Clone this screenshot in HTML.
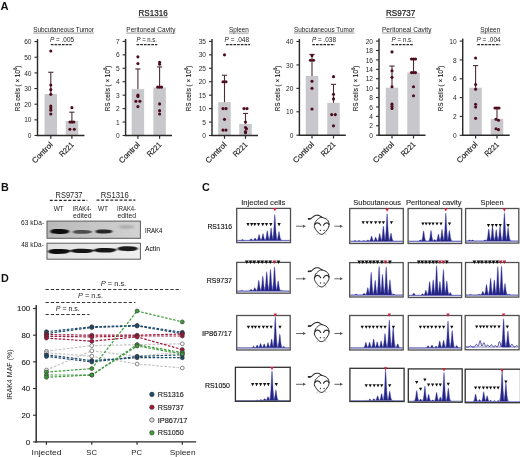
<!DOCTYPE html>
<html><head><meta charset="utf-8"><title>Figure</title>
<style>
html,body{margin:0;padding:0;background:#fff;}
body{width:520px;height:457px;overflow:hidden;}
svg{display:block;font-family:"Liberation Sans", sans-serif;will-change:transform;}
</style></head><body>
<svg width="520" height="457" viewBox="0 0 520 457">
<rect width="520" height="457" fill="#fff"/>
<text x="0.40" y="9.90" font-size="11.2" font-weight="bold" fill="#111">A</text>
<rect x="44.55" y="94.03" width="12.50" height="41.47" fill="#c8c7cb"/>
<rect x="65.65" y="120.95" width="12.50" height="14.55" fill="#c8c7cb"/>
<line x1="50.80" y1="94.03" x2="50.80" y2="72.27" stroke="#4a2c34" stroke-width="1.1"/>
<line x1="48.20" y1="72.27" x2="53.40" y2="72.27" stroke="#4a2c34" stroke-width="1.1"/>
<line x1="71.90" y1="120.95" x2="71.90" y2="112.18" stroke="#4a2c34" stroke-width="1.1"/>
<line x1="69.30" y1="112.18" x2="74.50" y2="112.18" stroke="#4a2c34" stroke-width="1.1"/>
<circle cx="50.80" cy="50.99" r="1.55" fill="#4d0c1c"/>
<circle cx="50.80" cy="85.11" r="1.55" fill="#4d0c1c"/>
<circle cx="50.80" cy="89.65" r="1.55" fill="#4d0c1c"/>
<circle cx="50.80" cy="94.34" r="1.55" fill="#4d0c1c"/>
<circle cx="50.80" cy="106.08" r="1.55" fill="#4d0c1c"/>
<circle cx="50.80" cy="108.11" r="1.55" fill="#4d0c1c"/>
<circle cx="50.80" cy="110.15" r="1.55" fill="#4d0c1c"/>
<circle cx="50.80" cy="114.06" r="1.55" fill="#4d0c1c"/>
<circle cx="71.90" cy="107.64" r="1.55" fill="#4d0c1c"/>
<circle cx="70.00" cy="122.04" r="1.55" fill="#4d0c1c"/>
<circle cx="71.90" cy="122.04" r="1.55" fill="#4d0c1c"/>
<circle cx="73.80" cy="122.04" r="1.55" fill="#4d0c1c"/>
<circle cx="69.90" cy="129.24" r="1.55" fill="#4d0c1c"/>
<circle cx="74.30" cy="129.24" r="1.55" fill="#4d0c1c"/>
<line x1="37.50" y1="39.10" x2="37.50" y2="136.10" stroke="#2a2a2a" stroke-width="1.45"/>
<line x1="36.90" y1="135.50" x2="84.50" y2="135.50" stroke="#2a2a2a" stroke-width="1.4"/>
<line x1="34.50" y1="135.50" x2="37.50" y2="135.50" stroke="#2a2a2a" stroke-width="1.1"/>
<text x="31.50" y="138.10" font-size="6.6" text-anchor="end" fill="#2a2a2a">0</text>
<line x1="34.50" y1="119.85" x2="37.50" y2="119.85" stroke="#2a2a2a" stroke-width="1.1"/>
<text x="31.50" y="122.45" font-size="6.6" text-anchor="end" fill="#2a2a2a">10</text>
<line x1="34.50" y1="104.20" x2="37.50" y2="104.20" stroke="#2a2a2a" stroke-width="1.1"/>
<text x="31.50" y="106.80" font-size="6.6" text-anchor="end" fill="#2a2a2a">20</text>
<line x1="34.50" y1="88.55" x2="37.50" y2="88.55" stroke="#2a2a2a" stroke-width="1.1"/>
<text x="31.50" y="91.15" font-size="6.6" text-anchor="end" fill="#2a2a2a">30</text>
<line x1="34.50" y1="72.90" x2="37.50" y2="72.90" stroke="#2a2a2a" stroke-width="1.1"/>
<text x="31.50" y="75.50" font-size="6.6" text-anchor="end" fill="#2a2a2a">40</text>
<line x1="34.50" y1="57.25" x2="37.50" y2="57.25" stroke="#2a2a2a" stroke-width="1.1"/>
<text x="31.50" y="59.85" font-size="6.6" text-anchor="end" fill="#2a2a2a">50</text>
<line x1="34.50" y1="41.60" x2="37.50" y2="41.60" stroke="#2a2a2a" stroke-width="1.1"/>
<text x="31.50" y="44.20" font-size="6.6" text-anchor="end" fill="#2a2a2a">60</text>
<line x1="50.80" y1="135.50" x2="50.80" y2="138.80" stroke="#2a2a2a" stroke-width="1.2"/>
<line x1="71.90" y1="135.50" x2="71.90" y2="138.80" stroke="#2a2a2a" stroke-width="1.2"/>
<text x="53.30" y="145.30" font-size="7.8" stroke="#222" stroke-width="0.18" text-anchor="end" fill="#222" textLength="26.00" lengthAdjust="spacingAndGlyphs" transform="rotate(-45 53.30 145.30)">Control</text>
<text x="74.40" y="145.30" font-size="7.8" stroke="#222" stroke-width="0.18" text-anchor="end" fill="#222" textLength="17.00" lengthAdjust="spacingAndGlyphs" transform="rotate(-45 74.40 145.30)">R221</text>
<text x="33.20" y="31.80" font-size="6.6" fill="#222" textLength="60.80" lengthAdjust="spacingAndGlyphs">Subcutaneous Tumor</text>
<line x1="33.20" y1="33.10" x2="94.00" y2="33.10" stroke="#555" stroke-width="0.6"/>
<text x="50.00" y="41.80" font-size="6.3" fill="#1e1e1e" textLength="24.00" lengthAdjust="spacingAndGlyphs"><tspan font-style="italic">P</tspan> = .005</text>
<line x1="50.80" y1="44.70" x2="71.60" y2="44.70" stroke="#2a2a2a" stroke-width="1.2" stroke-dasharray="2.7,1.0"/>
<text transform="translate(19.50,88.50) rotate(-90)" font-size="7.6" text-anchor="middle" fill="#222" stroke="#222" stroke-width="0.12" textLength="45.6" lengthAdjust="spacingAndGlyphs">RS cells ( × 10<tspan font-size="5" dy="-2.6">6</tspan><tspan dy="2.6">)</tspan></text>
<rect x="131.65" y="89.12" width="12.50" height="46.38" fill="#c8c7cb"/>
<rect x="153.35" y="87.51" width="12.50" height="47.99" fill="#c8c7cb"/>
<line x1="137.90" y1="89.12" x2="137.90" y2="68.96" stroke="#4a2c34" stroke-width="1.1"/>
<line x1="135.30" y1="68.96" x2="140.50" y2="68.96" stroke="#4a2c34" stroke-width="1.1"/>
<line x1="159.60" y1="87.51" x2="159.60" y2="66.94" stroke="#4a2c34" stroke-width="1.1"/>
<line x1="157.00" y1="66.94" x2="162.20" y2="66.94" stroke="#4a2c34" stroke-width="1.1"/>
<circle cx="137.90" cy="56.86" r="1.55" fill="#4d0c1c"/>
<circle cx="137.90" cy="63.58" r="1.55" fill="#4d0c1c"/>
<circle cx="137.90" cy="95.17" r="1.55" fill="#4d0c1c"/>
<circle cx="137.90" cy="96.52" r="1.55" fill="#4d0c1c"/>
<circle cx="135.90" cy="101.22" r="1.55" fill="#4d0c1c"/>
<circle cx="139.90" cy="101.22" r="1.55" fill="#4d0c1c"/>
<circle cx="137.90" cy="106.60" r="1.55" fill="#4d0c1c"/>
<circle cx="159.60" cy="62.24" r="1.55" fill="#4d0c1c"/>
<circle cx="159.60" cy="64.25" r="1.55" fill="#4d0c1c"/>
<circle cx="157.60" cy="87.11" r="1.55" fill="#4d0c1c"/>
<circle cx="159.60" cy="87.11" r="1.55" fill="#4d0c1c"/>
<circle cx="161.60" cy="87.11" r="1.55" fill="#4d0c1c"/>
<circle cx="159.60" cy="103.91" r="1.55" fill="#4d0c1c"/>
<circle cx="159.60" cy="110.63" r="1.55" fill="#4d0c1c"/>
<circle cx="159.60" cy="113.99" r="1.55" fill="#4d0c1c"/>
<line x1="125.60" y1="38.90" x2="125.60" y2="136.10" stroke="#2a2a2a" stroke-width="1.45"/>
<line x1="125.00" y1="135.50" x2="172.00" y2="135.50" stroke="#2a2a2a" stroke-width="1.4"/>
<line x1="122.60" y1="135.50" x2="125.60" y2="135.50" stroke="#2a2a2a" stroke-width="1.1"/>
<text x="119.60" y="138.10" font-size="6.6" text-anchor="end" fill="#2a2a2a">0</text>
<line x1="122.60" y1="122.06" x2="125.60" y2="122.06" stroke="#2a2a2a" stroke-width="1.1"/>
<text x="119.60" y="124.66" font-size="6.6" text-anchor="end" fill="#2a2a2a">1</text>
<line x1="122.60" y1="108.61" x2="125.60" y2="108.61" stroke="#2a2a2a" stroke-width="1.1"/>
<text x="119.60" y="111.21" font-size="6.6" text-anchor="end" fill="#2a2a2a">2</text>
<line x1="122.60" y1="95.17" x2="125.60" y2="95.17" stroke="#2a2a2a" stroke-width="1.1"/>
<text x="119.60" y="97.77" font-size="6.6" text-anchor="end" fill="#2a2a2a">3</text>
<line x1="122.60" y1="81.73" x2="125.60" y2="81.73" stroke="#2a2a2a" stroke-width="1.1"/>
<text x="119.60" y="84.33" font-size="6.6" text-anchor="end" fill="#2a2a2a">4</text>
<line x1="122.60" y1="68.29" x2="125.60" y2="68.29" stroke="#2a2a2a" stroke-width="1.1"/>
<text x="119.60" y="70.89" font-size="6.6" text-anchor="end" fill="#2a2a2a">5</text>
<line x1="122.60" y1="54.84" x2="125.60" y2="54.84" stroke="#2a2a2a" stroke-width="1.1"/>
<text x="119.60" y="57.44" font-size="6.6" text-anchor="end" fill="#2a2a2a">6</text>
<line x1="122.60" y1="41.40" x2="125.60" y2="41.40" stroke="#2a2a2a" stroke-width="1.1"/>
<text x="119.60" y="44.00" font-size="6.6" text-anchor="end" fill="#2a2a2a">7</text>
<line x1="137.90" y1="135.50" x2="137.90" y2="138.80" stroke="#2a2a2a" stroke-width="1.2"/>
<line x1="159.60" y1="135.50" x2="159.60" y2="138.80" stroke="#2a2a2a" stroke-width="1.2"/>
<text x="140.40" y="145.30" font-size="7.8" stroke="#222" stroke-width="0.18" text-anchor="end" fill="#222" textLength="26.00" lengthAdjust="spacingAndGlyphs" transform="rotate(-45 140.40 145.30)">Control</text>
<text x="162.10" y="145.30" font-size="7.8" stroke="#222" stroke-width="0.18" text-anchor="end" fill="#222" textLength="17.00" lengthAdjust="spacingAndGlyphs" transform="rotate(-45 162.10 145.30)">R221</text>
<text x="126.30" y="31.80" font-size="6.6" fill="#222" textLength="49.10" lengthAdjust="spacingAndGlyphs">Peritoneal Cavity</text>
<line x1="126.30" y1="33.10" x2="175.40" y2="33.10" stroke="#555" stroke-width="0.6"/>
<text x="136.50" y="41.80" font-size="6.3" fill="#1e1e1e" textLength="20.50" lengthAdjust="spacingAndGlyphs"><tspan font-style="italic">P</tspan> = n.s.</text>
<line x1="136.50" y1="44.70" x2="157.30" y2="44.70" stroke="#2a2a2a" stroke-width="1.2" stroke-dasharray="2.7,1.0"/>
<text transform="translate(109.50,88.50) rotate(-90)" font-size="7.6" text-anchor="middle" fill="#222" stroke="#222" stroke-width="0.12" textLength="45.6" lengthAdjust="spacingAndGlyphs">RS cells ( × 10<tspan font-size="5" dy="-2.6">6</tspan><tspan dy="2.6">)</tspan></text>
<rect x="218.25" y="102.16" width="12.50" height="33.34" fill="#c8c7cb"/>
<rect x="239.25" y="123.94" width="12.50" height="11.56" fill="#c8c7cb"/>
<line x1="224.50" y1="102.16" x2="224.50" y2="75.28" stroke="#4a2c34" stroke-width="1.1"/>
<line x1="221.90" y1="75.28" x2="227.10" y2="75.28" stroke="#4a2c34" stroke-width="1.1"/>
<line x1="245.50" y1="123.94" x2="245.50" y2="113.45" stroke="#4a2c34" stroke-width="1.1"/>
<line x1="242.90" y1="113.45" x2="248.10" y2="113.45" stroke="#4a2c34" stroke-width="1.1"/>
<circle cx="224.50" cy="54.84" r="1.55" fill="#4d0c1c"/>
<circle cx="223.00" cy="81.73" r="1.55" fill="#4d0c1c"/>
<circle cx="226.00" cy="81.73" r="1.55" fill="#4d0c1c"/>
<circle cx="223.00" cy="108.61" r="1.55" fill="#4d0c1c"/>
<circle cx="226.00" cy="108.61" r="1.55" fill="#4d0c1c"/>
<circle cx="224.50" cy="119.37" r="1.55" fill="#4d0c1c"/>
<circle cx="223.00" cy="130.12" r="1.55" fill="#4d0c1c"/>
<circle cx="226.00" cy="130.12" r="1.55" fill="#4d0c1c"/>
<circle cx="244.00" cy="108.61" r="1.55" fill="#4d0c1c"/>
<circle cx="247.00" cy="108.61" r="1.55" fill="#4d0c1c"/>
<circle cx="245.50" cy="122.06" r="1.55" fill="#4d0c1c"/>
<circle cx="245.50" cy="127.43" r="1.55" fill="#4d0c1c"/>
<circle cx="246.50" cy="128.78" r="1.55" fill="#4d0c1c"/>
<circle cx="245.50" cy="131.47" r="1.55" fill="#4d0c1c"/>
<circle cx="245.50" cy="132.81" r="1.55" fill="#4d0c1c"/>
<line x1="212.00" y1="38.90" x2="212.00" y2="136.10" stroke="#2a2a2a" stroke-width="1.45"/>
<line x1="211.40" y1="135.50" x2="258.00" y2="135.50" stroke="#2a2a2a" stroke-width="1.4"/>
<line x1="209.00" y1="135.50" x2="212.00" y2="135.50" stroke="#2a2a2a" stroke-width="1.1"/>
<text x="206.00" y="138.10" font-size="6.6" text-anchor="end" fill="#2a2a2a">0</text>
<line x1="209.00" y1="122.06" x2="212.00" y2="122.06" stroke="#2a2a2a" stroke-width="1.1"/>
<text x="206.00" y="124.66" font-size="6.6" text-anchor="end" fill="#2a2a2a">5</text>
<line x1="209.00" y1="108.61" x2="212.00" y2="108.61" stroke="#2a2a2a" stroke-width="1.1"/>
<text x="206.00" y="111.21" font-size="6.6" text-anchor="end" fill="#2a2a2a">10</text>
<line x1="209.00" y1="95.17" x2="212.00" y2="95.17" stroke="#2a2a2a" stroke-width="1.1"/>
<text x="206.00" y="97.77" font-size="6.6" text-anchor="end" fill="#2a2a2a">15</text>
<line x1="209.00" y1="81.73" x2="212.00" y2="81.73" stroke="#2a2a2a" stroke-width="1.1"/>
<text x="206.00" y="84.33" font-size="6.6" text-anchor="end" fill="#2a2a2a">20</text>
<line x1="209.00" y1="68.29" x2="212.00" y2="68.29" stroke="#2a2a2a" stroke-width="1.1"/>
<text x="206.00" y="70.89" font-size="6.6" text-anchor="end" fill="#2a2a2a">25</text>
<line x1="209.00" y1="54.84" x2="212.00" y2="54.84" stroke="#2a2a2a" stroke-width="1.1"/>
<text x="206.00" y="57.44" font-size="6.6" text-anchor="end" fill="#2a2a2a">30</text>
<line x1="209.00" y1="41.40" x2="212.00" y2="41.40" stroke="#2a2a2a" stroke-width="1.1"/>
<text x="206.00" y="44.00" font-size="6.6" text-anchor="end" fill="#2a2a2a">35</text>
<line x1="224.50" y1="135.50" x2="224.50" y2="138.80" stroke="#2a2a2a" stroke-width="1.2"/>
<line x1="245.50" y1="135.50" x2="245.50" y2="138.80" stroke="#2a2a2a" stroke-width="1.2"/>
<text x="227.00" y="145.30" font-size="7.8" stroke="#222" stroke-width="0.18" text-anchor="end" fill="#222" textLength="26.00" lengthAdjust="spacingAndGlyphs" transform="rotate(-45 227.00 145.30)">Control</text>
<text x="248.00" y="145.30" font-size="7.8" stroke="#222" stroke-width="0.18" text-anchor="end" fill="#222" textLength="17.00" lengthAdjust="spacingAndGlyphs" transform="rotate(-45 248.00 145.30)">R221</text>
<text x="229.00" y="31.80" font-size="6.6" fill="#222" textLength="19.80" lengthAdjust="spacingAndGlyphs">Spleen</text>
<line x1="229.00" y1="33.10" x2="248.80" y2="33.10" stroke="#555" stroke-width="0.6"/>
<text x="224.60" y="41.80" font-size="6.3" fill="#1e1e1e" textLength="24.40" lengthAdjust="spacingAndGlyphs"><tspan font-style="italic">P</tspan> = .048</text>
<line x1="226.00" y1="44.70" x2="250.00" y2="44.70" stroke="#2a2a2a" stroke-width="1.2" stroke-dasharray="2.7,1.0"/>
<text transform="translate(190.50,88.50) rotate(-90)" font-size="7.6" text-anchor="middle" fill="#222" stroke="#222" stroke-width="0.12" textLength="45.6" lengthAdjust="spacingAndGlyphs">RS cells ( × 10<tspan font-size="5" dy="-2.6">6</tspan><tspan dy="2.6">)</tspan></text>
<rect x="305.75" y="75.93" width="12.50" height="59.27" fill="#c8c7cb"/>
<rect x="327.25" y="102.87" width="12.50" height="32.33" fill="#c8c7cb"/>
<line x1="312.00" y1="75.93" x2="312.00" y2="54.38" stroke="#4a2c34" stroke-width="1.1"/>
<line x1="309.40" y1="54.38" x2="314.60" y2="54.38" stroke="#4a2c34" stroke-width="1.1"/>
<line x1="333.50" y1="102.87" x2="333.50" y2="84.37" stroke="#4a2c34" stroke-width="1.1"/>
<line x1="330.90" y1="84.37" x2="336.10" y2="84.37" stroke="#4a2c34" stroke-width="1.1"/>
<circle cx="312.00" cy="55.55" r="1.55" fill="#4d0c1c"/>
<circle cx="310.50" cy="60.24" r="1.55" fill="#4d0c1c"/>
<circle cx="313.50" cy="60.24" r="1.55" fill="#4d0c1c"/>
<circle cx="312.00" cy="81.32" r="1.55" fill="#4d0c1c"/>
<circle cx="312.00" cy="88.35" r="1.55" fill="#4d0c1c"/>
<circle cx="312.00" cy="108.96" r="1.55" fill="#4d0c1c"/>
<circle cx="333.50" cy="76.64" r="1.55" fill="#4d0c1c"/>
<circle cx="333.50" cy="94.21" r="1.55" fill="#4d0c1c"/>
<circle cx="333.50" cy="98.89" r="1.55" fill="#4d0c1c"/>
<circle cx="331.70" cy="114.59" r="1.55" fill="#4d0c1c"/>
<circle cx="335.30" cy="114.59" r="1.55" fill="#4d0c1c"/>
<circle cx="333.50" cy="125.83" r="1.55" fill="#4d0c1c"/>
<line x1="299.40" y1="39.00" x2="299.40" y2="135.80" stroke="#2a2a2a" stroke-width="1.45"/>
<line x1="298.80" y1="135.20" x2="345.80" y2="135.20" stroke="#2a2a2a" stroke-width="1.4"/>
<line x1="296.40" y1="135.20" x2="299.40" y2="135.20" stroke="#2a2a2a" stroke-width="1.1"/>
<text x="293.40" y="137.80" font-size="6.6" text-anchor="end" fill="#2a2a2a">0</text>
<line x1="296.40" y1="111.77" x2="299.40" y2="111.77" stroke="#2a2a2a" stroke-width="1.1"/>
<text x="293.40" y="114.37" font-size="6.6" text-anchor="end" fill="#2a2a2a">10</text>
<line x1="296.40" y1="88.35" x2="299.40" y2="88.35" stroke="#2a2a2a" stroke-width="1.1"/>
<text x="293.40" y="90.95" font-size="6.6" text-anchor="end" fill="#2a2a2a">20</text>
<line x1="296.40" y1="64.92" x2="299.40" y2="64.92" stroke="#2a2a2a" stroke-width="1.1"/>
<text x="293.40" y="67.52" font-size="6.6" text-anchor="end" fill="#2a2a2a">30</text>
<line x1="296.40" y1="41.50" x2="299.40" y2="41.50" stroke="#2a2a2a" stroke-width="1.1"/>
<text x="293.40" y="44.10" font-size="6.6" text-anchor="end" fill="#2a2a2a">40</text>
<line x1="312.00" y1="135.20" x2="312.00" y2="138.50" stroke="#2a2a2a" stroke-width="1.2"/>
<line x1="333.50" y1="135.20" x2="333.50" y2="138.50" stroke="#2a2a2a" stroke-width="1.2"/>
<text x="314.50" y="145.00" font-size="7.8" stroke="#222" stroke-width="0.18" text-anchor="end" fill="#222" textLength="26.00" lengthAdjust="spacingAndGlyphs" transform="rotate(-45 314.50 145.00)">Control</text>
<text x="336.00" y="145.00" font-size="7.8" stroke="#222" stroke-width="0.18" text-anchor="end" fill="#222" textLength="17.00" lengthAdjust="spacingAndGlyphs" transform="rotate(-45 336.00 145.00)">R221</text>
<text x="293.90" y="31.70" font-size="6.6" fill="#222" textLength="60.60" lengthAdjust="spacingAndGlyphs">Subcutaneous Tumor</text>
<line x1="293.90" y1="33.00" x2="354.50" y2="33.00" stroke="#555" stroke-width="0.6"/>
<text x="311.90" y="41.80" font-size="6.3" fill="#1e1e1e" textLength="24.10" lengthAdjust="spacingAndGlyphs"><tspan font-style="italic">P</tspan> = .038</text>
<line x1="312.30" y1="44.70" x2="334.80" y2="44.70" stroke="#2a2a2a" stroke-width="1.2" stroke-dasharray="2.7,1.0"/>
<text transform="translate(280.00,88.50) rotate(-90)" font-size="7.6" text-anchor="middle" fill="#222" stroke="#222" stroke-width="0.12" textLength="45.6" lengthAdjust="spacingAndGlyphs">RS cells ( × 10<tspan font-size="5" dy="-2.6">6</tspan><tspan dy="2.6">)</tspan></text>
<rect x="385.75" y="87.68" width="12.50" height="47.52" fill="#c8c7cb"/>
<rect x="407.25" y="72.62" width="12.50" height="62.58" fill="#c8c7cb"/>
<line x1="392.00" y1="87.68" x2="392.00" y2="66.04" stroke="#4a2c34" stroke-width="1.1"/>
<line x1="389.40" y1="66.04" x2="394.60" y2="66.04" stroke="#4a2c34" stroke-width="1.1"/>
<line x1="413.50" y1="72.62" x2="413.50" y2="58.98" stroke="#4a2c34" stroke-width="1.1"/>
<line x1="410.90" y1="58.98" x2="416.10" y2="58.98" stroke="#4a2c34" stroke-width="1.1"/>
<circle cx="392.00" cy="51.92" r="1.55" fill="#4d0c1c"/>
<circle cx="392.00" cy="70.74" r="1.55" fill="#4d0c1c"/>
<circle cx="392.00" cy="77.33" r="1.55" fill="#4d0c1c"/>
<circle cx="392.00" cy="86.74" r="1.55" fill="#4d0c1c"/>
<circle cx="392.00" cy="104.15" r="1.55" fill="#4d0c1c"/>
<circle cx="392.00" cy="106.50" r="1.55" fill="#4d0c1c"/>
<circle cx="392.00" cy="108.38" r="1.55" fill="#4d0c1c"/>
<circle cx="411.50" cy="58.98" r="1.55" fill="#4d0c1c"/>
<circle cx="413.50" cy="58.98" r="1.55" fill="#4d0c1c"/>
<circle cx="415.50" cy="58.98" r="1.55" fill="#4d0c1c"/>
<circle cx="411.50" cy="72.62" r="1.55" fill="#4d0c1c"/>
<circle cx="413.50" cy="72.62" r="1.55" fill="#4d0c1c"/>
<circle cx="415.50" cy="72.62" r="1.55" fill="#4d0c1c"/>
<circle cx="413.50" cy="86.74" r="1.55" fill="#4d0c1c"/>
<circle cx="413.50" cy="95.68" r="1.55" fill="#4d0c1c"/>
<line x1="379.00" y1="38.60" x2="379.00" y2="135.80" stroke="#2a2a2a" stroke-width="1.45"/>
<line x1="378.40" y1="135.20" x2="425.50" y2="135.20" stroke="#2a2a2a" stroke-width="1.4"/>
<line x1="376.00" y1="135.20" x2="379.00" y2="135.20" stroke="#2a2a2a" stroke-width="1.1"/>
<text x="373.00" y="137.80" font-size="6.6" text-anchor="end" fill="#2a2a2a">0</text>
<line x1="376.00" y1="125.79" x2="379.00" y2="125.79" stroke="#2a2a2a" stroke-width="1.1"/>
<text x="373.00" y="128.39" font-size="6.6" text-anchor="end" fill="#2a2a2a">2</text>
<line x1="376.00" y1="116.38" x2="379.00" y2="116.38" stroke="#2a2a2a" stroke-width="1.1"/>
<text x="373.00" y="118.98" font-size="6.6" text-anchor="end" fill="#2a2a2a">4</text>
<line x1="376.00" y1="106.97" x2="379.00" y2="106.97" stroke="#2a2a2a" stroke-width="1.1"/>
<text x="373.00" y="109.57" font-size="6.6" text-anchor="end" fill="#2a2a2a">6</text>
<line x1="376.00" y1="97.56" x2="379.00" y2="97.56" stroke="#2a2a2a" stroke-width="1.1"/>
<text x="373.00" y="100.16" font-size="6.6" text-anchor="end" fill="#2a2a2a">8</text>
<line x1="376.00" y1="88.15" x2="379.00" y2="88.15" stroke="#2a2a2a" stroke-width="1.1"/>
<text x="373.00" y="90.75" font-size="6.6" text-anchor="end" fill="#2a2a2a">10</text>
<line x1="376.00" y1="78.74" x2="379.00" y2="78.74" stroke="#2a2a2a" stroke-width="1.1"/>
<text x="373.00" y="81.34" font-size="6.6" text-anchor="end" fill="#2a2a2a">12</text>
<line x1="376.00" y1="69.33" x2="379.00" y2="69.33" stroke="#2a2a2a" stroke-width="1.1"/>
<text x="373.00" y="71.93" font-size="6.6" text-anchor="end" fill="#2a2a2a">14</text>
<line x1="376.00" y1="59.92" x2="379.00" y2="59.92" stroke="#2a2a2a" stroke-width="1.1"/>
<text x="373.00" y="62.52" font-size="6.6" text-anchor="end" fill="#2a2a2a">16</text>
<line x1="376.00" y1="50.51" x2="379.00" y2="50.51" stroke="#2a2a2a" stroke-width="1.1"/>
<text x="373.00" y="53.11" font-size="6.6" text-anchor="end" fill="#2a2a2a">18</text>
<line x1="376.00" y1="41.10" x2="379.00" y2="41.10" stroke="#2a2a2a" stroke-width="1.1"/>
<text x="373.00" y="43.70" font-size="6.6" text-anchor="end" fill="#2a2a2a">20</text>
<line x1="392.00" y1="135.20" x2="392.00" y2="138.50" stroke="#2a2a2a" stroke-width="1.2"/>
<line x1="413.50" y1="135.20" x2="413.50" y2="138.50" stroke="#2a2a2a" stroke-width="1.2"/>
<text x="394.50" y="145.00" font-size="7.8" stroke="#222" stroke-width="0.18" text-anchor="end" fill="#222" textLength="26.00" lengthAdjust="spacingAndGlyphs" transform="rotate(-45 394.50 145.00)">Control</text>
<text x="416.00" y="145.00" font-size="7.8" stroke="#222" stroke-width="0.18" text-anchor="end" fill="#222" textLength="17.00" lengthAdjust="spacingAndGlyphs" transform="rotate(-45 416.00 145.00)">R221</text>
<text x="382.00" y="31.70" font-size="6.6" fill="#222" textLength="49.40" lengthAdjust="spacingAndGlyphs">Peritoneal Cavity</text>
<line x1="382.00" y1="33.00" x2="431.40" y2="33.00" stroke="#555" stroke-width="0.6"/>
<text x="391.60" y="41.80" font-size="6.3" fill="#1e1e1e" textLength="21.40" lengthAdjust="spacingAndGlyphs"><tspan font-style="italic">P</tspan> = n.s.</text>
<line x1="391.60" y1="44.70" x2="413.30" y2="44.70" stroke="#2a2a2a" stroke-width="1.2" stroke-dasharray="2.7,1.0"/>
<text transform="translate(357.50,88.50) rotate(-90)" font-size="7.6" text-anchor="middle" fill="#222" stroke="#222" stroke-width="0.12" textLength="45.6" lengthAdjust="spacingAndGlyphs">RS cells ( × 10<tspan font-size="5" dy="-2.6">6</tspan><tspan dy="2.6">)</tspan></text>
<rect x="469.35" y="87.73" width="12.50" height="47.57" fill="#c8c7cb"/>
<rect x="490.75" y="118.82" width="12.50" height="16.48" fill="#c8c7cb"/>
<line x1="475.60" y1="87.73" x2="475.60" y2="65.59" stroke="#4a2c34" stroke-width="1.1"/>
<line x1="473.00" y1="65.59" x2="478.20" y2="65.59" stroke="#4a2c34" stroke-width="1.1"/>
<line x1="497.00" y1="118.82" x2="497.00" y2="107.98" stroke="#4a2c34" stroke-width="1.1"/>
<line x1="494.40" y1="107.98" x2="499.60" y2="107.98" stroke="#4a2c34" stroke-width="1.1"/>
<circle cx="475.60" cy="58.06" r="1.55" fill="#4d0c1c"/>
<circle cx="475.60" cy="84.43" r="1.55" fill="#4d0c1c"/>
<circle cx="475.60" cy="89.14" r="1.55" fill="#4d0c1c"/>
<circle cx="475.60" cy="104.21" r="1.55" fill="#4d0c1c"/>
<circle cx="475.60" cy="107.04" r="1.55" fill="#4d0c1c"/>
<circle cx="475.60" cy="118.34" r="1.55" fill="#4d0c1c"/>
<circle cx="495.00" cy="107.98" r="1.55" fill="#4d0c1c"/>
<circle cx="497.00" cy="107.98" r="1.55" fill="#4d0c1c"/>
<circle cx="499.00" cy="107.98" r="1.55" fill="#4d0c1c"/>
<circle cx="496.00" cy="119.29" r="1.55" fill="#4d0c1c"/>
<circle cx="498.50" cy="120.23" r="1.55" fill="#4d0c1c"/>
<circle cx="496.00" cy="128.71" r="1.55" fill="#4d0c1c"/>
<circle cx="498.50" cy="129.65" r="1.55" fill="#4d0c1c"/>
<line x1="462.70" y1="38.60" x2="462.70" y2="135.90" stroke="#2a2a2a" stroke-width="1.45"/>
<line x1="462.10" y1="135.30" x2="509.70" y2="135.30" stroke="#2a2a2a" stroke-width="1.4"/>
<line x1="459.70" y1="135.30" x2="462.70" y2="135.30" stroke="#2a2a2a" stroke-width="1.1"/>
<text x="456.70" y="137.90" font-size="6.6" text-anchor="end" fill="#2a2a2a">0</text>
<line x1="459.70" y1="116.46" x2="462.70" y2="116.46" stroke="#2a2a2a" stroke-width="1.1"/>
<text x="456.70" y="119.06" font-size="6.6" text-anchor="end" fill="#2a2a2a">2</text>
<line x1="459.70" y1="97.62" x2="462.70" y2="97.62" stroke="#2a2a2a" stroke-width="1.1"/>
<text x="456.70" y="100.22" font-size="6.6" text-anchor="end" fill="#2a2a2a">4</text>
<line x1="459.70" y1="78.78" x2="462.70" y2="78.78" stroke="#2a2a2a" stroke-width="1.1"/>
<text x="456.70" y="81.38" font-size="6.6" text-anchor="end" fill="#2a2a2a">6</text>
<line x1="459.70" y1="59.94" x2="462.70" y2="59.94" stroke="#2a2a2a" stroke-width="1.1"/>
<text x="456.70" y="62.54" font-size="6.6" text-anchor="end" fill="#2a2a2a">8</text>
<line x1="459.70" y1="41.10" x2="462.70" y2="41.10" stroke="#2a2a2a" stroke-width="1.1"/>
<text x="456.70" y="43.70" font-size="6.6" text-anchor="end" fill="#2a2a2a">10</text>
<line x1="475.60" y1="135.30" x2="475.60" y2="138.60" stroke="#2a2a2a" stroke-width="1.2"/>
<line x1="497.00" y1="135.30" x2="497.00" y2="138.60" stroke="#2a2a2a" stroke-width="1.2"/>
<text x="478.10" y="145.10" font-size="7.8" stroke="#222" stroke-width="0.18" text-anchor="end" fill="#222" textLength="26.00" lengthAdjust="spacingAndGlyphs" transform="rotate(-45 478.10 145.10)">Control</text>
<text x="499.50" y="145.10" font-size="7.8" stroke="#222" stroke-width="0.18" text-anchor="end" fill="#222" textLength="17.00" lengthAdjust="spacingAndGlyphs" transform="rotate(-45 499.50 145.10)">R221</text>
<text x="480.20" y="31.70" font-size="6.6" fill="#222" textLength="20.10" lengthAdjust="spacingAndGlyphs">Spleen</text>
<line x1="480.20" y1="33.00" x2="500.30" y2="33.00" stroke="#555" stroke-width="0.6"/>
<text x="476.50" y="41.80" font-size="6.3" fill="#1e1e1e" textLength="24.00" lengthAdjust="spacingAndGlyphs"><tspan font-style="italic">P</tspan> = .004</text>
<line x1="477.30" y1="44.70" x2="500.30" y2="44.70" stroke="#2a2a2a" stroke-width="1.2" stroke-dasharray="2.7,1.0"/>
<text transform="translate(443.00,88.50) rotate(-90)" font-size="7.6" text-anchor="middle" fill="#222" stroke="#222" stroke-width="0.12" textLength="45.6" lengthAdjust="spacingAndGlyphs">RS cells ( × 10<tspan font-size="5" dy="-2.6">6</tspan><tspan dy="2.6">)</tspan></text>
<text x="138.50" y="16.00" font-size="8.3" stroke="#1a1a1a" stroke-width="0.22" fill="#1a1a1a" textLength="29.20" lengthAdjust="spacingAndGlyphs">RS1316</text>
<line x1="138.50" y1="17.20" x2="167.70" y2="17.20" stroke="#555" stroke-width="0.7"/>
<text x="386.00" y="16.40" font-size="8.3" stroke="#1a1a1a" stroke-width="0.22" fill="#1a1a1a" textLength="29.20" lengthAdjust="spacingAndGlyphs">RS9737</text>
<line x1="386.00" y1="17.60" x2="415.20" y2="17.60" stroke="#555" stroke-width="0.7"/>
<text x="0.90" y="190.70" font-size="10.8" font-weight="bold" fill="#111">B</text>
<text x="55.60" y="198.20" font-size="8.3" fill="#222" textLength="26.90" lengthAdjust="spacingAndGlyphs">RS9737</text>
<line x1="49.80" y1="200.40" x2="87.30" y2="200.40" stroke="#2a2a2a" stroke-width="1.2" stroke-dasharray="3,1.6"/>
<text x="100.80" y="198.00" font-size="8.3" fill="#222" textLength="27.90" lengthAdjust="spacingAndGlyphs">RS1316</text>
<line x1="96.50" y1="200.20" x2="135.40" y2="200.20" stroke="#2a2a2a" stroke-width="1.2" stroke-dasharray="3,1.6"/>
<text x="53.70" y="211.10" font-size="7.0" fill="#222" textLength="10.10" lengthAdjust="spacingAndGlyphs">WT</text>
<text x="97.90" y="211.10" font-size="7.0" fill="#222" textLength="10.10" lengthAdjust="spacingAndGlyphs">WT</text>
<text x="72.50" y="211.10" font-size="6.9" fill="#222" textLength="19.00" lengthAdjust="spacingAndGlyphs">IRAK4-</text>
<text x="72.90" y="217.80" font-size="7.0" fill="#222" textLength="18.60" lengthAdjust="spacingAndGlyphs">edited</text>
<text x="117.10" y="211.10" font-size="6.9" fill="#222" textLength="19.00" lengthAdjust="spacingAndGlyphs">IRAK4-</text>
<text x="117.50" y="217.80" font-size="7.0" fill="#222" textLength="18.60" lengthAdjust="spacingAndGlyphs">edited</text>
<text x="21.00" y="224.60" font-size="6.4" fill="#222" textLength="23.10" lengthAdjust="spacingAndGlyphs">63 kDa-</text>
<text x="21.20" y="246.90" font-size="6.4" fill="#222" textLength="22.60" lengthAdjust="spacingAndGlyphs">48 kDa-</text>
<text x="145.00" y="233.10" font-size="7.0" textLength="17.30" lengthAdjust="spacingAndGlyphs">IRAK4</text>
<text x="145.00" y="251.20" font-size="7.0" textLength="14.90" lengthAdjust="spacingAndGlyphs">Actin</text>
<defs>
<linearGradient id="gIrak" x1="0" x2="1" y1="0" y2="0">
 <stop offset="0" stop-color="#b9b9b9"/><stop offset="0.45" stop-color="#c4c4c4"/><stop offset="1" stop-color="#d2d2d2"/></linearGradient>
<linearGradient id="gAct" x1="0" x2="1" y1="0" y2="0">
 <stop offset="0" stop-color="#e2e2e2"/><stop offset="1" stop-color="#efefef"/></linearGradient>
<filter id="blur1" x="-20%" y="-50%" width="140%" height="200%"><feGaussianBlur stdDeviation="0.8 0.6"/></filter>
<filter id="blur2" x="-20%" y="-50%" width="140%" height="200%"><feGaussianBlur stdDeviation="1.4 1.2"/></filter>
</defs>
<rect x="47.00" y="221.10" width="93.40" height="17.20" fill="url(#gIrak)" stroke="#5a5a5a" stroke-width="1.0"/>
<g filter="url(#blur1)">
<path d="M50.5,231.5 C50.5,229.3 54,229.0 60,229.1 C66,229.2 69,230.0 69.2,231.4 C69.2,233.0 66,233.9 60,233.9 C54,233.9 50.5,233.6 50.5,231.5 Z" fill="#0e0e0e"/>
<path d="M73.0,232.0 C73.0,230.3 77,229.9 82.5,230.0 C88,230.1 91.8,230.6 91.8,231.8 C91.8,233.2 88,233.8 82.5,233.8 C77,233.8 73.0,233.6 73.0,232.0 Z" fill="#4e4e4e"/>
<path d="M95.6,231.4 C95.6,229.6 99,229.3 104,229.4 C109,229.5 112.4,230.0 112.4,231.2 C112.4,232.8 109,233.4 104,233.4 C99,233.4 95.6,233.1 95.6,231.4 Z" fill="#262626"/>
</g>
<g filter="url(#blur2)"><ellipse cx="126.5" cy="226.8" rx="8" ry="1.6" fill="#a6a6a6"/></g>
<rect x="47.00" y="243.20" width="93.40" height="16.00" fill="url(#gAct)" stroke="#5a5a5a" stroke-width="1.0"/>
<g filter="url(#blur1)">
<path d="M48.2,251.4 C48.2,249.0 55,249.0 60,249.1 C66,249.2 69.5,249.6 70.5,250.8 C70.5,252.8 66,253.9 59,253.9 C53,253.9 48.2,253.4 48.2,251.4 Z" fill="#0f0f0f"/>
<path d="M70.5,250.6 C71,249.0 77,248.6 83,248.7 C89,248.8 92.5,249.2 93.8,250.2 C93.8,252.2 89,253.1 82,253.1 C76,253.1 70.5,252.6 70.5,250.6 Z" fill="#121212"/>
<path d="M94.0,250.0 C94.5,248.3 100,247.9 106,248.0 C112,248.1 115,248.5 116.5,249.4 C116.5,251.4 112,252.5 105,252.5 C99,252.5 94.0,252.0 94.0,250.0 Z" fill="#141414"/>
<path d="M117.5,248.6 C118,246.6 124,246.2 129,246.3 C134,246.4 137,247.0 137.8,248.3 C137.8,250.2 134,251.2 128,251.2 C122,251.2 117.5,250.6 117.5,248.6 Z" fill="#1a1a1a"/>
</g>
<text x="202.00" y="190.70" font-size="10.8" font-weight="bold" fill="#111">C</text>
<text x="241.20" y="205.20" font-size="7.2" stroke="#222" stroke-width="0.1" fill="#222" textLength="44.20" lengthAdjust="spacingAndGlyphs">Injected cells</text>
<text x="353.30" y="204.80" font-size="7.2" stroke="#222" stroke-width="0.1" fill="#222" textLength="47.60" lengthAdjust="spacingAndGlyphs">Subcutaneous</text>
<text x="406.00" y="204.80" font-size="7.2" stroke="#222" stroke-width="0.1" fill="#222" textLength="55.60" lengthAdjust="spacingAndGlyphs">Peritoneal cavity</text>
<text x="480.60" y="205.00" font-size="7.2" stroke="#222" stroke-width="0.1" fill="#222" textLength="22.90" lengthAdjust="spacingAndGlyphs">Spleen</text>
<text x="232.00" y="229.10" font-size="7.6" stroke="#1e1e1e" stroke-width="0.12" text-anchor="end" textLength="24.60" lengthAdjust="spacingAndGlyphs">RS1316</text>
<line x1="296.00" y1="226.20" x2="303.80" y2="226.20" stroke="#555" stroke-width="0.9"/>
<path d="M306.00,226.20 L303.00,224.70 L303.00,227.70 Z" fill="#555"/>
<line x1="334.40" y1="226.20" x2="340.80" y2="226.20" stroke="#555" stroke-width="0.9"/>
<path d="M343.00,226.20 L340.00,224.70 L340.00,227.70 Z" fill="#555"/>
<g transform="translate(0,0.00)" fill="none" stroke="#2a2a2a" stroke-linecap="round" stroke-linejoin="round">
<path d="M308.40,218.80 C308.88,218.72 310.38,218.73 311.30,218.30 C312.22,217.87 313.03,216.72 313.90,216.20 C314.77,215.68 315.63,215.33 316.50,215.20 C317.37,215.07 318.32,215.10 319.10,215.40 C319.88,215.70 320.67,216.60 321.20,217.00 C321.73,217.40 322.12,217.67 322.30,217.80 " stroke-width="1.1"/>
<path d="M308.4,218.9 L310.6,218.7" stroke-width="1.5"/>
<path d="M321.80,217.30 C322.85,217.47 324.95,218.20 326.00,218.80 C327.05,219.40 327.58,220.02 328.10,220.90 C328.62,221.78 329.02,223.05 329.10,224.10 C329.18,225.15 328.95,226.23 328.60,227.20 C328.25,228.17 327.62,229.02 327.00,229.90 C326.38,230.78 325.60,231.80 324.90,232.50 C324.20,233.20 323.42,233.80 322.80,234.10 C322.18,234.40 321.82,234.40 321.20,234.30 C320.58,234.20 319.70,233.88 319.10,233.50 C318.50,233.12 318.20,232.70 317.60,232.00 C317.00,231.30 316.03,230.18 315.50,229.30 C314.97,228.42 314.53,227.57 314.40,226.70 C314.27,225.83 314.48,224.97 314.70,224.10 C314.92,223.23 315.22,222.28 315.70,221.50 C316.18,220.72 316.93,220.02 317.60,219.40 C318.27,218.78 319.00,218.15 319.70,217.80 C320.40,217.45 320.75,217.13 321.80,217.30 Z" stroke-width="1.0" fill="#fff"/>
<path d="M314.9,224.6 C315.9,222.3 319.1,222.0 320.7,225.2" stroke-width="1.15"/>
<path d="M323.5,225.2 C325.1,222.0 328.1,222.3 329.0,224.6" stroke-width="1.15"/>
<path d="M317.8,233.6 L316.8,234.8 M325.2,233.2 L326.4,234.2" stroke-width="0.5" stroke="#777"/>
</g>
<g transform="translate(0,0.00)"><circle cx="320.4" cy="230.4" r="0.65" fill="#2a2a2a"/><circle cx="324.1" cy="230.4" r="0.65" fill="#2a2a2a"/></g>
<rect x="236.70" y="208.40" width="53.80" height="34.20" fill="#ffffff"/>
<rect x="237.20" y="240.40" width="52.80" height="1.70" fill="#e2e2f0"/>
<line x1="237.20" y1="240.60" x2="290.00" y2="240.60" stroke="#6a6ab8" stroke-width="0.6"/>
<path d="M237.20,240.40 L237.20,240.40 L237.45,240.40 L237.70,240.40 L237.95,240.40 L238.20,240.39 L238.45,240.39 L238.70,240.38 L238.95,240.37 L239.20,240.36 L239.45,240.34 L239.70,240.32 L239.95,240.29 L240.20,240.26 L240.45,240.22 L240.70,240.18 L240.95,240.14 L241.20,240.09 L241.45,240.05 L241.70,240.01 L241.95,239.98 L242.20,239.96 L242.45,239.95 L242.70,239.95 L242.95,239.97 L243.20,240.00 L243.45,240.03 L243.70,240.07 L243.95,240.12 L244.20,240.16 L244.45,240.21 L244.70,240.25 L244.95,240.28 L245.20,240.31 L245.45,240.33 L245.70,240.35 L245.95,240.37 L246.20,240.38 L246.45,240.39 L246.70,240.39 L246.95,240.38 L247.20,240.38 L247.45,240.36 L247.70,240.34 L247.95,240.32 L248.20,240.29 L248.45,240.25 L248.70,240.20 L248.95,240.14 L249.20,240.08 L249.45,240.01 L249.70,239.93 L249.95,239.86 L250.20,239.80 L250.45,239.74 L250.70,239.71 L250.95,239.68 L251.20,239.68 L251.45,239.70 L251.70,239.74 L251.95,239.79 L252.20,239.85 L252.45,239.92 L252.70,239.99 L252.95,240.01 L253.20,239.92 L253.45,239.81 L253.70,239.70 L253.95,239.60 L254.20,239.50 L254.45,239.42 L254.70,239.36 L254.95,239.33 L255.20,239.32 L255.45,239.35 L255.70,239.40 L255.95,239.48 L256.20,239.57 L256.45,239.68 L256.70,239.66 L256.95,239.45 L257.20,239.21 L257.45,238.95 L257.70,238.68 L257.95,238.42 L258.20,238.18 L258.45,237.98 L258.70,237.84 L258.95,237.76 L259.20,237.75 L259.45,237.82 L259.70,237.95 L259.95,238.14 L260.20,238.37 L260.45,238.63 L260.70,238.90 L260.95,239.16 L261.20,238.89 L261.45,238.58 L261.70,238.27 L261.95,237.97 L262.20,237.71 L262.45,237.50 L262.70,237.36 L262.95,237.30 L263.20,237.32 L263.45,237.43 L263.70,237.62 L263.95,237.86 L264.20,238.15 L264.45,238.45 L264.70,238.77 L264.95,239.07 L265.20,238.74 L265.45,238.34 L265.70,237.90 L265.95,237.46 L266.20,237.03 L266.45,236.64 L266.70,236.33 L266.95,236.11 L267.20,236.00 L267.45,236.01 L267.70,236.14 L267.95,236.39 L268.20,236.72 L268.45,237.11 L268.70,237.55 L268.95,237.99 L269.20,237.86 L269.45,237.30 L269.70,236.73 L269.95,236.17 L270.20,235.66 L270.45,235.24 L270.70,234.93 L270.95,234.76 L271.20,234.74 L271.45,234.88 L271.70,235.17 L271.95,235.57 L272.20,236.07 L272.45,236.62 L272.70,235.99 L272.95,234.91 L273.20,233.75 L273.45,232.57 L273.70,231.42 L273.95,230.40 L274.20,229.56 L274.45,228.97 L274.70,228.68 L274.95,228.71 L275.20,229.07 L275.45,229.71 L275.70,230.59 L275.95,231.65 L276.20,232.80 L276.45,233.99 L276.70,235.13 L276.95,236.20 L277.20,237.13 L277.45,237.93 L277.70,237.65 L277.95,237.27 L278.20,236.93 L278.45,236.66 L278.70,236.47 L278.95,236.40 L279.20,236.43 L279.45,236.57 L279.70,236.81 L279.95,237.12 L280.20,237.49 L280.45,237.89 L280.70,238.29 L280.95,238.68 L281.20,239.03 L281.45,239.34 L281.70,239.61 L281.95,239.82 L282.20,239.99 L282.45,240.12 L282.70,240.21 L282.95,240.28 L283.20,240.32 L283.45,240.35 L283.70,240.37 L283.95,240.38 L284.20,240.39 L284.45,240.39 L284.70,240.40 L284.95,240.40 L285.20,240.40 L285.45,240.40 L285.70,240.40 L285.95,240.40 L286.20,240.40 L286.45,240.40 L286.70,240.40 L286.95,240.40 L287.20,240.40 L287.45,240.40 L287.70,240.40 L287.95,240.40 L288.20,240.40 L288.45,240.40 L288.70,240.40 L288.95,240.40 L289.20,240.40 L289.45,240.40 L289.70,240.40 L289.95,240.40 L290.00,240.40 Z" fill="#9a9ae0" fill-opacity="0.8"/>
<path d="M237.20,240.40 L237.20,240.40 L237.45,240.40 L237.70,240.40 L237.95,240.40 L238.20,240.40 L238.45,240.40 L238.70,240.40 L238.95,240.40 L239.20,240.40 L239.45,240.40 L239.70,240.40 L239.95,240.40 L240.20,240.39 L240.45,240.38 L240.70,240.34 L240.95,240.28 L241.20,240.18 L241.45,240.02 L241.70,239.83 L241.95,239.64 L242.20,239.48 L242.45,239.40 L242.70,239.43 L242.95,239.56 L243.20,239.75 L243.45,239.95 L243.70,240.12 L243.95,240.25 L244.20,240.32 L244.45,240.37 L244.70,240.39 L244.95,240.40 L245.20,240.40 L245.45,240.40 L245.70,240.40 L245.95,240.40 L246.20,240.40 L246.45,240.40 L246.70,240.40 L246.95,240.40 L247.20,240.40 L247.45,240.40 L247.70,240.40 L247.95,240.40 L248.20,240.40 L248.45,240.40 L248.70,240.39 L248.95,240.37 L249.20,240.34 L249.45,240.26 L249.70,240.12 L249.95,239.91 L250.20,239.62 L250.45,239.30 L250.70,239.01 L250.95,238.83 L251.20,238.81 L251.45,238.97 L251.70,239.24 L251.95,239.56 L252.20,239.85 L252.45,240.08 L252.70,240.24 L252.95,240.32 L253.20,240.30 L253.45,240.19 L253.70,239.98 L253.95,239.66 L254.20,239.23 L254.45,238.75 L254.70,238.32 L254.95,238.05 L255.20,238.02 L255.45,238.25 L255.70,238.66 L255.95,239.14 L256.20,239.58 L256.45,239.93 L256.70,240.15 L256.95,240.29 L257.20,240.16 L257.45,239.88 L257.70,239.37 L257.95,238.58 L258.20,237.53 L258.45,236.35 L258.70,235.28 L258.95,234.62 L259.20,234.55 L259.45,235.11 L259.70,236.12 L259.95,237.30 L260.20,238.39 L260.45,239.23 L260.70,239.79 L260.95,240.12 L261.20,240.01 L261.45,239.58 L261.70,238.86 L261.95,237.81 L262.20,236.49 L262.45,235.13 L262.70,234.03 L262.95,233.52 L263.20,233.74 L263.45,234.64 L263.70,235.94 L263.95,237.31 L264.20,238.48 L264.45,239.34 L264.70,239.87 L264.95,240.17 L265.20,240.21 L265.45,239.93 L265.70,239.39 L265.95,238.46 L266.20,237.06 L266.45,235.24 L266.70,233.28 L266.95,231.61 L267.20,230.69 L267.45,230.79 L267.70,231.90 L267.95,233.67 L268.20,235.63 L268.45,237.38 L268.70,238.68 L268.95,239.53 L269.20,239.89 L269.45,239.28 L269.70,238.19 L269.95,236.51 L270.20,234.27 L270.45,231.74 L270.70,229.47 L270.95,228.05 L271.20,227.91 L271.45,229.10 L271.70,231.25 L271.95,233.77 L272.20,236.10 L272.45,237.91 L272.70,239.11 L272.95,239.15 L273.20,237.72 L273.45,235.23 L273.70,231.50 L273.95,226.67 L274.20,221.45 L274.45,216.99 L274.70,214.53 L274.95,214.82 L275.20,217.76 L275.45,222.47 L275.70,227.70 L275.95,232.34 L276.20,235.83 L276.45,238.08 L276.70,239.35 L276.95,239.97 L277.20,239.90 L277.45,239.35 L277.70,238.42 L277.95,237.06 L278.20,235.36 L278.45,233.60 L278.70,232.18 L278.95,231.52 L279.20,231.81 L279.45,232.97 L279.70,234.64 L279.95,236.41 L280.20,237.93 L280.45,239.03 L280.70,239.72 L280.95,240.10 L281.20,240.28 L281.45,240.36 L281.70,240.39 L281.95,240.40 L282.20,240.40 L282.45,240.40 L282.70,240.40 L282.95,240.40 L283.20,240.40 L283.45,240.40 L283.70,240.40 L283.95,240.40 L284.20,240.40 L284.45,240.40 L284.70,240.40 L284.95,240.40 L285.20,240.40 L285.45,240.40 L285.70,240.40 L285.95,240.40 L286.20,240.40 L286.45,240.40 L286.70,240.40 L286.95,240.40 L287.20,240.40 L287.45,240.40 L287.70,240.40 L287.95,240.40 L288.20,240.40 L288.45,240.40 L288.70,240.40 L288.95,240.40 L289.20,240.40 L289.45,240.40 L289.70,240.40 L289.95,240.40 L290.00,240.40 Z" fill="#232380" stroke="#4848b0" stroke-width="0.45" stroke-opacity="0.8"/>
<rect x="236.70" y="208.40" width="53.80" height="34.20" fill="none" stroke="#505050" stroke-width="1.3"/>
<path d="M246.35,223.05 L249.65,223.05 L248.00,226.15 Z" fill="#111"/>
<path d="M250.05,223.05 L253.35,223.05 L251.70,226.15 Z" fill="#111"/>
<path d="M253.15,223.05 L256.45,223.05 L254.80,226.15 Z" fill="#111"/>
<path d="M256.85,223.05 L260.15,223.05 L258.50,226.15 Z" fill="#111"/>
<path d="M261.15,223.05 L264.45,223.05 L262.80,226.15 Z" fill="#111"/>
<path d="M264.85,223.05 L268.15,223.05 L266.50,226.15 Z" fill="#111"/>
<path d="M269.15,223.05 L272.45,223.05 L270.80,226.15 Z" fill="#111"/>
<path d="M277.45,223.05 L280.75,223.05 L279.10,226.15 Z" fill="#111"/>
<path d="M273.10,208.00 L276.50,208.00 L274.80,211.20 Z" fill="#d81f3c"/>
<rect x="349.70" y="208.50" width="53.60" height="35.00" fill="#ffffff"/>
<rect x="350.20" y="241.20" width="52.60" height="1.80" fill="#e2e2f0"/>
<line x1="350.20" y1="241.40" x2="402.80" y2="241.40" stroke="#6a6ab8" stroke-width="0.6"/>
<path d="M350.20,241.20 L350.20,241.20 L350.45,241.20 L350.70,241.20 L350.95,241.19 L351.20,241.19 L351.45,241.18 L351.70,241.18 L351.95,241.17 L352.20,241.15 L352.45,241.13 L352.70,241.11 L352.95,241.09 L353.20,241.06 L353.45,241.03 L353.70,241.00 L353.95,240.97 L354.20,240.94 L354.45,240.91 L354.70,240.90 L354.95,240.89 L355.20,240.89 L355.45,240.89 L355.70,240.91 L355.95,240.93 L356.20,240.96 L356.45,240.99 L356.70,241.02 L356.95,241.05 L357.20,241.06 L357.45,241.03 L357.70,241.00 L357.95,240.97 L358.20,240.94 L358.45,240.91 L358.70,240.90 L358.95,240.89 L359.20,240.89 L359.45,240.89 L359.70,240.91 L359.95,240.93 L360.20,240.96 L360.45,240.99 L360.70,241.02 L360.95,241.05 L361.20,241.08 L361.45,241.11 L361.70,241.08 L361.95,241.05 L362.20,241.02 L362.45,240.99 L362.70,240.96 L362.95,240.93 L363.20,240.91 L363.45,240.89 L363.70,240.89 L363.95,240.89 L364.20,240.90 L364.45,240.91 L364.70,240.94 L364.95,240.97 L365.20,241.00 L365.45,241.03 L365.70,241.02 L365.95,240.97 L366.20,240.92 L366.45,240.86 L366.70,240.81 L366.95,240.76 L367.20,240.72 L367.45,240.68 L367.70,240.66 L367.95,240.66 L368.20,240.67 L368.45,240.70 L368.70,240.73 L368.95,240.71 L369.20,240.55 L369.45,240.36 L369.70,240.15 L369.95,239.92 L370.20,239.69 L370.45,239.46 L370.70,239.25 L370.95,239.07 L371.20,238.94 L371.45,238.87 L371.70,238.87 L371.95,238.92 L372.20,239.04 L372.45,239.21 L372.70,239.41 L372.95,239.64 L373.20,239.88 L373.45,240.11 L373.70,240.32 L373.95,240.24 L374.20,240.05 L374.45,239.86 L374.70,239.69 L374.95,239.53 L375.20,239.41 L375.45,239.34 L375.70,239.31 L375.95,239.34 L376.20,239.41 L376.45,239.53 L376.70,239.69 L376.95,239.86 L377.20,240.05 L377.45,240.06 L377.70,239.76 L377.95,239.42 L378.20,239.07 L378.45,238.72 L378.70,238.39 L378.95,238.10 L379.20,237.88 L379.45,237.74 L379.70,237.69 L379.95,237.74 L380.20,237.88 L380.45,238.10 L380.70,238.39 L380.95,238.72 L381.20,238.87 L381.45,238.26 L381.70,237.60 L381.95,236.91 L382.20,236.23 L382.45,235.60 L382.70,235.07 L382.95,234.66 L383.20,234.42 L383.45,234.36 L383.70,234.50 L383.95,234.80 L384.20,235.27 L384.45,235.85 L384.70,236.50 L384.95,236.72 L385.20,235.59 L385.45,234.37 L385.70,233.11 L385.95,231.88 L386.20,230.75 L386.45,229.81 L386.70,229.13 L386.95,228.75 L387.20,228.72 L387.45,229.03 L387.70,229.65 L387.95,230.55 L388.20,231.64 L388.45,232.86 L388.70,234.12 L388.95,235.35 L389.20,236.50 L389.45,237.53 L389.70,238.41 L389.95,238.31 L390.20,238.00 L390.45,237.75 L390.70,237.58 L390.95,237.51 L391.20,237.54 L391.45,237.67 L391.70,237.89 L391.95,238.18 L392.20,238.52 L392.45,238.89 L392.70,239.26 L392.95,239.61 L393.20,239.94 L393.45,240.23 L393.70,240.47 L393.95,240.67 L394.20,240.82 L394.45,240.94 L394.70,241.02 L394.95,241.08 L395.20,241.13 L395.45,241.15 L395.70,241.17 L395.95,241.18 L396.20,241.19 L396.45,241.19 L396.70,241.20 L396.95,241.20 L397.20,241.20 L397.45,241.20 L397.70,241.20 L397.95,241.20 L398.20,241.20 L398.45,241.20 L398.70,241.20 L398.95,241.20 L399.20,241.20 L399.45,241.20 L399.70,241.20 L399.95,241.20 L400.20,241.20 L400.45,241.20 L400.70,241.20 L400.95,241.20 L401.20,241.20 L401.45,241.20 L401.70,241.20 L401.95,241.20 L402.20,241.20 L402.45,241.20 L402.70,241.20 L402.80,241.20 Z" fill="#9a9ae0" fill-opacity="0.8"/>
<path d="M350.20,241.20 L350.20,241.20 L350.45,241.20 L350.70,241.20 L350.95,241.20 L351.20,241.20 L351.45,241.20 L351.70,241.20 L351.95,241.20 L352.20,241.20 L352.45,241.20 L352.70,241.20 L352.95,241.19 L353.20,241.17 L353.45,241.14 L353.70,241.08 L353.95,240.98 L354.20,240.86 L354.45,240.72 L354.70,240.59 L354.95,240.51 L355.20,240.51 L355.45,240.57 L355.70,240.69 L355.95,240.83 L356.20,240.96 L356.45,241.06 L356.70,241.13 L356.95,241.17 L357.20,241.17 L357.45,241.14 L357.70,241.08 L357.95,240.98 L358.20,240.86 L358.45,240.72 L358.70,240.59 L358.95,240.51 L359.20,240.51 L359.45,240.57 L359.70,240.69 L359.95,240.83 L360.20,240.96 L360.45,241.06 L360.70,241.13 L360.95,241.17 L361.20,241.19 L361.45,241.19 L361.70,241.19 L361.95,241.17 L362.20,241.13 L362.45,241.06 L362.70,240.96 L362.95,240.83 L363.20,240.69 L363.45,240.57 L363.70,240.51 L363.95,240.51 L364.20,240.59 L364.45,240.72 L364.70,240.86 L364.95,240.98 L365.20,241.08 L365.45,241.14 L365.70,241.17 L365.95,241.16 L366.20,241.11 L366.45,241.01 L366.70,240.87 L366.95,240.66 L367.20,240.42 L367.45,240.20 L367.70,240.04 L367.95,240.00 L368.20,240.09 L368.45,240.28 L368.70,240.52 L368.95,240.75 L369.20,240.93 L369.45,241.06 L369.70,240.99 L369.95,240.74 L370.20,240.29 L370.45,239.60 L370.70,238.67 L370.95,237.63 L371.20,236.69 L371.45,236.10 L371.70,236.05 L371.95,236.54 L372.20,237.42 L372.45,238.46 L372.70,239.43 L372.95,240.17 L373.20,240.67 L373.45,240.95 L373.70,241.08 L373.95,240.92 L374.20,240.63 L374.45,240.15 L374.70,239.47 L374.95,238.65 L375.20,237.84 L375.45,237.23 L375.70,237.00 L375.95,237.23 L376.20,237.84 L376.45,238.65 L376.70,239.47 L376.95,240.15 L377.20,240.63 L377.45,240.92 L377.70,240.98 L377.95,240.69 L378.20,240.14 L378.45,239.26 L378.70,237.99 L378.95,236.47 L379.20,234.95 L379.45,233.82 L379.70,233.40 L379.95,233.82 L380.20,234.95 L380.45,236.47 L380.70,237.99 L380.95,239.26 L381.20,240.14 L381.45,240.68 L381.70,240.04 L381.95,238.85 L382.20,236.97 L382.45,234.39 L382.70,231.37 L382.95,228.50 L383.20,226.53 L383.45,226.03 L383.70,227.17 L383.95,229.58 L384.20,232.59 L384.45,235.50 L384.70,237.82 L384.95,239.40 L385.20,240.08 L385.45,238.73 L385.70,236.33 L385.95,232.62 L386.20,227.67 L386.45,222.10 L386.70,217.09 L386.95,213.95 L387.20,213.65 L387.45,216.27 L387.70,221.01 L387.95,226.57 L388.20,231.72 L388.45,235.70 L388.70,238.34 L388.95,239.87 L389.20,240.65 L389.45,240.23 L389.70,239.37 L389.95,238.12 L390.20,236.56 L390.45,234.93 L390.70,233.63 L390.95,233.02 L391.20,233.29 L391.45,234.35 L391.70,235.90 L391.95,237.52 L392.20,238.92 L392.45,239.93 L392.70,240.57 L392.95,240.92 L393.20,241.09 L393.45,241.16 L393.70,241.19 L393.95,241.20 L394.20,241.20 L394.45,241.20 L394.70,241.20 L394.95,241.20 L395.20,241.20 L395.45,241.20 L395.70,241.20 L395.95,241.20 L396.20,241.20 L396.45,241.20 L396.70,241.20 L396.95,241.20 L397.20,241.20 L397.45,241.20 L397.70,241.20 L397.95,241.20 L398.20,241.20 L398.45,241.20 L398.70,241.20 L398.95,241.20 L399.20,241.20 L399.45,241.20 L399.70,241.20 L399.95,241.20 L400.20,241.20 L400.45,241.20 L400.70,241.20 L400.95,241.20 L401.20,241.20 L401.45,241.20 L401.70,241.20 L401.95,241.20 L402.20,241.20 L402.45,241.20 L402.70,241.20 L402.80,241.20 Z" fill="#232380" stroke="#4848b0" stroke-width="0.45" stroke-opacity="0.8"/>
<rect x="349.70" y="208.50" width="53.60" height="35.00" fill="none" stroke="#505050" stroke-width="1.3"/>
<path d="M361.55,221.25 L364.85,221.25 L363.20,224.35 Z" fill="#111"/>
<path d="M365.55,221.25 L368.85,221.25 L367.20,224.35 Z" fill="#111"/>
<path d="M369.55,221.25 L372.85,221.25 L371.20,224.35 Z" fill="#111"/>
<path d="M374.05,221.25 L377.35,221.25 L375.70,224.35 Z" fill="#111"/>
<path d="M378.05,221.25 L381.35,221.25 L379.70,224.35 Z" fill="#111"/>
<path d="M381.75,221.25 L385.05,221.25 L383.40,224.35 Z" fill="#111"/>
<path d="M389.75,221.25 L393.05,221.25 L391.40,224.35 Z" fill="#111"/>
<path d="M385.40,208.60 L388.80,208.60 L387.10,211.80 Z" fill="#d81f3c"/>
<rect x="408.10" y="208.50" width="53.50" height="35.00" fill="#ffffff"/>
<rect x="408.60" y="241.20" width="52.50" height="1.80" fill="#e2e2f0"/>
<line x1="408.60" y1="241.40" x2="461.10" y2="241.40" stroke="#6a6ab8" stroke-width="0.6"/>
<path d="M408.60,241.20 L408.60,241.20 L408.85,241.20 L409.10,241.20 L409.35,241.20 L409.60,241.20 L409.85,241.20 L410.10,241.20 L410.35,241.20 L410.60,241.20 L410.85,241.20 L411.10,241.20 L411.35,241.20 L411.60,241.20 L411.85,241.20 L412.10,241.20 L412.35,241.20 L412.60,241.20 L412.85,241.20 L413.10,241.20 L413.35,241.20 L413.60,241.20 L413.85,241.20 L414.10,241.20 L414.35,241.20 L414.60,241.20 L414.85,241.20 L415.10,241.20 L415.35,241.20 L415.60,241.20 L415.85,241.19 L416.10,241.19 L416.35,241.18 L416.60,241.17 L416.85,241.16 L417.10,241.14 L417.35,241.11 L417.60,241.08 L417.85,241.04 L418.10,241.00 L418.35,240.95 L418.60,240.89 L418.85,240.84 L419.10,240.79 L419.35,240.74 L419.60,240.70 L419.85,240.67 L420.10,240.66 L420.35,240.66 L420.60,240.56 L420.85,240.32 L421.10,240.02 L421.35,239.67 L421.60,239.26 L421.85,238.81 L422.10,238.33 L422.35,237.86 L422.60,237.42 L422.85,237.03 L423.10,236.73 L423.35,236.54 L423.60,236.47 L423.85,236.54 L424.10,236.73 L424.35,237.03 L424.60,237.42 L424.85,237.86 L425.10,238.33 L425.35,238.81 L425.60,239.26 L425.85,239.67 L426.10,240.02 L426.35,240.32 L426.60,240.56 L426.85,240.75 L427.10,240.89 L427.35,240.95 L427.60,240.82 L427.85,240.66 L428.10,240.44 L428.35,240.17 L428.60,239.84 L428.85,239.44 L429.10,239.00 L429.35,238.52 L429.60,238.03 L429.85,237.54 L430.10,237.10 L430.35,236.73 L430.60,236.47 L430.85,236.32 L431.10,236.31 L431.35,236.43 L431.60,236.67 L431.85,237.02 L432.10,237.45 L432.35,237.93 L432.60,238.42 L432.85,238.91 L433.10,239.36 L433.35,239.76 L433.60,240.11 L433.85,240.39 L434.10,240.49 L434.35,240.46 L434.60,240.44 L434.85,240.44 L435.10,240.46 L435.35,240.50 L435.60,240.56 L435.85,240.44 L436.10,240.20 L436.35,239.93 L436.60,239.62 L436.85,239.30 L437.10,238.97 L437.35,238.66 L437.60,238.39 L437.85,238.17 L438.10,238.02 L438.35,237.96 L438.60,237.99 L438.85,238.10 L439.10,238.29 L439.35,238.55 L439.60,238.85 L439.85,239.17 L440.10,238.80 L440.35,238.28 L440.60,237.74 L440.85,237.21 L441.10,236.73 L441.35,236.32 L441.60,236.03 L441.85,235.87 L442.10,235.86 L442.35,235.99 L442.60,236.26 L442.85,236.64 L443.10,237.11 L443.35,237.63 L443.60,236.87 L443.85,235.75 L444.10,234.52 L444.35,233.25 L444.60,231.99 L444.85,230.82 L445.10,229.82 L445.35,229.07 L445.60,228.62 L445.85,228.52 L446.10,228.76 L446.35,229.34 L446.60,230.19 L446.85,231.27 L447.10,232.48 L447.35,233.76 L447.60,235.02 L447.85,236.21 L448.10,237.28 L448.35,237.36 L448.60,236.95 L448.85,236.61 L449.10,236.39 L449.35,236.30 L449.60,236.34 L449.85,236.51 L450.10,236.80 L450.35,237.19 L450.60,237.64 L450.85,238.13 L451.10,238.62 L451.35,239.09 L451.60,239.53 L451.85,239.91 L452.10,240.23 L452.35,240.49 L452.60,240.70 L452.85,240.85 L453.10,240.97 L453.35,241.05 L453.60,241.10 L453.85,241.14 L454.10,241.16 L454.35,241.18 L454.60,241.19 L454.85,241.19 L455.10,241.20 L455.35,241.20 L455.60,241.20 L455.85,241.20 L456.10,241.20 L456.35,241.20 L456.60,241.20 L456.85,241.20 L457.10,241.20 L457.35,241.20 L457.60,241.20 L457.85,241.20 L458.10,241.20 L458.35,241.20 L458.60,241.20 L458.85,241.20 L459.10,241.20 L459.35,241.20 L459.60,241.20 L459.85,241.20 L460.10,241.20 L460.35,241.20 L460.60,241.20 L460.85,241.20 L461.10,241.20 L461.10,241.20 Z" fill="#9a9ae0" fill-opacity="0.8"/>
<path d="M408.60,241.20 L408.60,241.20 L408.85,241.20 L409.10,241.20 L409.35,241.20 L409.60,241.20 L409.85,241.20 L410.10,241.20 L410.35,241.20 L410.60,241.20 L410.85,241.20 L411.10,241.20 L411.35,241.20 L411.60,241.20 L411.85,241.20 L412.10,241.20 L412.35,241.20 L412.60,241.20 L412.85,241.20 L413.10,241.20 L413.35,241.20 L413.60,241.20 L413.85,241.20 L414.10,241.20 L414.35,241.20 L414.60,241.20 L414.85,241.20 L415.10,241.20 L415.35,241.20 L415.60,241.20 L415.85,241.20 L416.10,241.20 L416.35,241.20 L416.60,241.20 L416.85,241.20 L417.10,241.20 L417.35,241.20 L417.60,241.20 L417.85,241.19 L418.10,241.18 L418.35,241.14 L418.60,241.08 L418.85,240.96 L419.10,240.79 L419.35,240.57 L419.60,240.33 L419.85,240.12 L420.10,240.01 L420.35,240.02 L420.60,240.16 L420.85,240.38 L421.10,240.62 L421.35,240.83 L421.60,240.90 L421.85,240.51 L422.10,239.78 L422.35,238.58 L422.60,236.88 L422.85,234.83 L423.10,232.79 L423.35,231.27 L423.60,230.70 L423.85,231.27 L424.10,232.79 L424.35,234.83 L424.60,236.88 L424.85,238.58 L425.10,239.78 L425.35,240.51 L425.60,240.90 L425.85,241.08 L426.10,241.16 L426.35,241.19 L426.60,241.20 L426.85,241.20 L427.10,241.20 L427.35,241.20 L427.60,241.20 L427.85,241.20 L428.10,241.19 L428.35,241.18 L428.60,241.13 L428.85,241.02 L429.10,240.76 L429.35,240.23 L429.60,239.29 L429.85,237.84 L430.10,235.89 L430.35,233.71 L430.60,231.75 L430.85,230.52 L431.10,230.40 L431.35,231.42 L431.60,233.28 L431.85,235.47 L432.10,237.48 L432.35,239.04 L432.60,240.08 L432.85,240.68 L433.10,240.98 L433.35,240.86 L433.60,240.62 L433.85,240.31 L434.10,239.97 L434.35,239.68 L434.60,239.52 L434.85,239.53 L435.10,239.73 L435.35,240.03 L435.60,240.37 L435.85,240.68 L436.10,240.90 L436.35,241.03 L436.60,240.80 L436.85,240.35 L437.10,239.60 L437.35,238.50 L437.60,237.12 L437.85,235.70 L438.10,234.55 L438.35,234.02 L438.60,234.25 L438.85,235.19 L439.10,236.54 L439.35,237.97 L439.60,239.20 L439.85,240.09 L440.10,240.65 L440.35,240.14 L440.60,239.12 L440.85,237.53 L441.10,235.41 L441.35,233.03 L441.60,230.88 L441.85,229.54 L442.10,229.41 L442.35,230.53 L442.60,232.56 L442.85,234.94 L443.10,237.14 L443.35,238.85 L443.60,239.98 L443.85,240.24 L444.10,239.04 L444.35,236.85 L444.60,233.36 L444.85,228.56 L445.10,222.96 L445.35,217.65 L445.60,213.99 L445.85,213.06 L446.10,215.17 L446.35,219.65 L446.60,225.23 L446.85,230.62 L447.10,234.92 L447.35,237.87 L447.60,239.62 L447.85,239.91 L448.10,238.77 L448.35,237.11 L448.60,235.03 L448.85,232.87 L449.10,231.14 L449.35,230.32 L449.60,230.68 L449.85,232.10 L450.10,234.15 L450.35,236.31 L450.60,238.17 L450.85,239.52 L451.10,240.36 L451.35,240.83 L451.60,241.05 L451.85,241.15 L452.10,241.18 L452.35,241.20 L452.60,241.20 L452.85,241.20 L453.10,241.20 L453.35,241.20 L453.60,241.20 L453.85,241.20 L454.10,241.20 L454.35,241.20 L454.60,241.20 L454.85,241.20 L455.10,241.20 L455.35,241.20 L455.60,241.20 L455.85,241.20 L456.10,241.20 L456.35,241.20 L456.60,241.20 L456.85,241.20 L457.10,241.20 L457.35,241.20 L457.60,241.20 L457.85,241.20 L458.10,241.20 L458.35,241.20 L458.60,241.20 L458.85,241.20 L459.10,241.20 L459.35,241.20 L459.60,241.20 L459.85,241.20 L460.10,241.20 L460.35,241.20 L460.60,241.20 L460.85,241.20 L461.10,241.20 L461.10,241.20 Z" fill="#232380" stroke="#4848b0" stroke-width="0.45" stroke-opacity="0.8"/>
<rect x="408.10" y="208.50" width="53.50" height="35.00" fill="none" stroke="#505050" stroke-width="1.3"/>
<path d="M421.25,222.45 L424.55,222.45 L422.90,225.55 Z" fill="#111"/>
<path d="M424.55,222.45 L427.85,222.45 L426.20,225.55 Z" fill="#111"/>
<path d="M427.95,222.45 L431.25,222.45 L429.60,225.55 Z" fill="#111"/>
<path d="M431.35,222.45 L434.65,222.45 L433.00,225.55 Z" fill="#111"/>
<path d="M435.35,222.45 L438.65,222.45 L437.00,225.55 Z" fill="#111"/>
<path d="M439.35,222.45 L442.65,222.45 L441.00,225.55 Z" fill="#111"/>
<path d="M447.85,222.45 L451.15,222.45 L449.50,225.55 Z" fill="#111"/>
<path d="M444.10,208.20 L447.50,208.20 L445.80,211.40 Z" fill="#d81f3c"/>
<rect x="465.60" y="208.50" width="53.20" height="34.60" fill="#ffffff"/>
<rect x="466.10" y="241.00" width="52.20" height="1.60" fill="#e2e2f0"/>
<line x1="466.10" y1="241.20" x2="518.30" y2="241.20" stroke="#6a6ab8" stroke-width="0.6"/>
<path d="M466.10,241.00 L466.10,240.97 L466.35,240.95 L466.60,240.93 L466.85,240.91 L467.10,240.87 L467.35,240.84 L467.60,240.80 L467.85,240.75 L468.10,240.71 L468.35,240.66 L468.60,240.62 L468.85,240.59 L469.10,240.57 L469.35,240.55 L469.60,240.55 L469.85,240.56 L470.10,240.58 L470.35,240.62 L470.60,240.66 L470.85,240.70 L471.10,240.71 L471.35,240.66 L471.60,240.62 L471.85,240.59 L472.10,240.57 L472.35,240.55 L472.60,240.55 L472.85,240.56 L473.10,240.58 L473.35,240.62 L473.60,240.66 L473.85,240.70 L474.10,240.75 L474.35,240.79 L474.60,240.83 L474.85,240.87 L475.10,240.90 L475.35,240.93 L475.60,240.95 L475.85,240.96 L476.10,240.97 L476.35,240.98 L476.60,240.99 L476.85,240.99 L477.10,241.00 L477.35,241.00 L477.60,241.00 L477.85,241.00 L478.10,241.00 L478.35,241.00 L478.60,241.00 L478.85,241.00 L479.10,241.00 L479.35,241.00 L479.60,241.00 L479.85,241.00 L480.10,241.00 L480.35,241.00 L480.60,240.99 L480.85,240.99 L481.10,240.98 L481.35,240.98 L481.60,240.97 L481.85,240.95 L482.10,240.93 L482.35,240.91 L482.60,240.87 L482.85,240.84 L483.10,240.80 L483.35,240.75 L483.60,240.71 L483.85,240.66 L484.10,240.62 L484.35,240.59 L484.60,240.57 L484.85,240.55 L485.10,240.55 L485.35,240.56 L485.60,240.39 L485.85,240.15 L486.10,239.85 L486.35,239.47 L486.60,239.03 L486.85,238.54 L487.10,238.00 L487.35,237.45 L487.60,236.91 L487.85,236.41 L488.10,236.00 L488.35,235.70 L488.60,235.54 L488.85,235.52 L489.10,235.66 L489.35,235.93 L489.60,236.32 L489.85,236.80 L490.10,237.34 L490.35,237.89 L490.60,237.97 L490.85,237.31 L491.10,236.63 L491.35,235.97 L491.60,235.36 L491.85,234.85 L492.10,234.49 L492.35,234.28 L492.60,234.26 L492.85,234.43 L493.10,234.77 L493.35,235.25 L493.60,235.84 L493.85,236.50 L494.10,237.18 L494.35,237.85 L494.60,238.17 L494.85,237.65 L495.10,237.14 L495.35,236.68 L495.60,236.29 L495.85,236.01 L496.10,235.85 L496.35,235.84 L496.60,235.96 L496.85,236.22 L497.10,236.59 L497.35,237.05 L497.60,237.55 L497.85,238.07 L498.10,238.07 L498.35,237.44 L498.60,236.78 L498.85,236.14 L499.10,235.55 L499.35,235.06 L499.60,234.70 L499.85,234.51 L500.10,234.49 L500.35,234.65 L500.60,234.98 L500.85,235.44 L501.10,236.01 L501.35,236.65 L501.60,237.31 L501.85,237.95 L502.10,237.06 L502.35,235.98 L502.60,234.78 L502.85,233.51 L503.10,232.22 L503.35,231.00 L503.60,229.91 L503.85,229.05 L504.10,228.47 L504.35,228.23 L504.60,228.33 L504.85,228.78 L505.10,229.54 L505.35,230.54 L505.60,231.72 L505.85,232.99 L506.10,234.28 L506.35,235.51 L506.60,236.64 L506.85,236.71 L507.10,236.14 L507.35,235.64 L507.60,235.25 L507.85,235.01 L508.10,234.93 L508.35,235.01 L508.60,235.25 L508.85,235.64 L509.10,236.14 L509.35,236.71 L509.60,237.32 L509.85,237.92 L510.10,238.50 L510.35,239.03 L510.60,239.49 L510.85,239.87 L511.10,240.18 L511.35,240.42 L511.60,240.60 L511.85,240.73 L512.10,240.83 L512.35,240.89 L512.60,240.93 L512.85,240.96 L513.10,240.98 L513.35,240.99 L513.60,240.99 L513.85,241.00 L514.10,241.00 L514.35,241.00 L514.60,241.00 L514.85,241.00 L515.10,241.00 L515.35,241.00 L515.60,241.00 L515.85,241.00 L516.10,241.00 L516.35,241.00 L516.60,241.00 L516.85,241.00 L517.10,241.00 L517.35,241.00 L517.60,241.00 L517.85,241.00 L518.10,241.00 L518.30,241.00 Z" fill="#9a9ae0" fill-opacity="0.8"/>
<path d="M466.10,241.00 L466.10,241.00 L466.35,241.00 L466.60,241.00 L466.85,241.00 L467.10,240.99 L467.35,240.98 L467.60,240.96 L467.85,240.91 L468.10,240.82 L468.35,240.69 L468.60,240.51 L468.85,240.31 L469.10,240.13 L469.35,240.02 L469.60,240.01 L469.85,240.10 L470.10,240.27 L470.35,240.47 L470.60,240.66 L470.85,240.80 L471.10,240.82 L471.35,240.69 L471.60,240.51 L471.85,240.31 L472.10,240.13 L472.35,240.02 L472.60,240.01 L472.85,240.10 L473.10,240.27 L473.35,240.47 L473.60,240.66 L473.85,240.80 L474.10,240.90 L474.35,240.95 L474.60,240.98 L474.85,240.99 L475.10,241.00 L475.35,241.00 L475.60,241.00 L475.85,241.00 L476.10,241.00 L476.35,241.00 L476.60,241.00 L476.85,241.00 L477.10,241.00 L477.35,241.00 L477.60,241.00 L477.85,241.00 L478.10,241.00 L478.35,241.00 L478.60,241.00 L478.85,241.00 L479.10,241.00 L479.35,241.00 L479.60,241.00 L479.85,241.00 L480.10,241.00 L480.35,241.00 L480.60,241.00 L480.85,241.00 L481.10,241.00 L481.35,241.00 L481.60,241.00 L481.85,241.00 L482.10,241.00 L482.35,241.00 L482.60,240.99 L482.85,240.98 L483.10,240.96 L483.35,240.91 L483.60,240.82 L483.85,240.69 L484.10,240.51 L484.35,240.31 L484.60,240.13 L484.85,240.02 L485.10,240.01 L485.35,240.10 L485.60,240.27 L485.85,240.47 L486.10,240.66 L486.35,240.80 L486.60,240.80 L486.85,240.51 L487.10,239.92 L487.35,238.86 L487.60,237.23 L487.85,235.06 L488.10,232.62 L488.35,230.42 L488.60,229.04 L488.85,228.91 L489.10,230.06 L489.35,232.14 L489.60,234.58 L489.85,236.84 L490.10,238.59 L490.35,239.75 L490.60,240.39 L490.85,239.67 L491.10,238.37 L491.35,236.37 L491.60,233.70 L491.85,230.70 L492.10,227.99 L492.35,226.30 L492.60,226.13 L492.85,227.55 L493.10,230.11 L493.35,233.11 L493.60,235.88 L493.85,238.03 L494.10,239.46 L494.35,240.28 L494.60,239.98 L494.85,238.99 L495.10,237.45 L495.35,235.40 L495.60,233.10 L495.85,231.02 L496.10,229.73 L496.35,229.60 L496.60,230.69 L496.85,232.65 L497.10,234.95 L497.35,237.08 L497.60,238.72 L497.85,239.82 L498.10,240.41 L498.35,239.71 L498.60,238.46 L498.85,236.52 L499.10,233.94 L499.35,231.04 L499.60,228.42 L499.85,226.79 L500.10,226.63 L500.35,228.00 L500.60,230.47 L500.85,233.37 L501.10,236.05 L501.35,238.13 L501.60,239.51 L501.85,240.31 L502.10,240.71 L502.35,240.32 L502.60,239.41 L502.85,237.64 L503.10,234.68 L503.35,230.34 L503.60,224.92 L503.85,219.30 L504.10,214.78 L504.35,212.66 L504.60,213.59 L504.85,217.28 L505.10,222.63 L505.35,228.27 L505.60,233.10 L505.85,236.62 L506.10,238.82 L506.35,240.03 L506.60,239.17 L506.85,237.63 L507.10,235.45 L507.35,232.81 L507.60,230.19 L507.85,228.23 L508.10,227.50 L508.35,228.23 L508.60,230.19 L508.85,232.81 L509.10,235.45 L509.35,237.63 L509.60,239.17 L509.85,240.11 L510.10,240.61 L510.35,240.85 L510.60,240.95 L510.85,240.98 L511.10,241.00 L511.35,241.00 L511.60,241.00 L511.85,241.00 L512.10,241.00 L512.35,241.00 L512.60,241.00 L512.85,241.00 L513.10,241.00 L513.35,241.00 L513.60,241.00 L513.85,241.00 L514.10,241.00 L514.35,241.00 L514.60,241.00 L514.85,241.00 L515.10,241.00 L515.35,241.00 L515.60,241.00 L515.85,241.00 L516.10,241.00 L516.35,241.00 L516.60,241.00 L516.85,241.00 L517.10,241.00 L517.35,241.00 L517.60,241.00 L517.85,241.00 L518.10,241.00 L518.30,241.00 Z" fill="#232380" stroke="#4848b0" stroke-width="0.45" stroke-opacity="0.8"/>
<rect x="465.60" y="208.50" width="53.20" height="34.60" fill="none" stroke="#505050" stroke-width="1.3"/>
<path d="M486.85,224.05 L490.15,224.05 L488.50,227.15 Z" fill="#111"/>
<path d="M490.85,224.05 L494.15,224.05 L492.50,227.15 Z" fill="#111"/>
<path d="M494.60,224.05 L497.90,224.05 L496.25,227.15 Z" fill="#111"/>
<path d="M498.60,224.05 L501.90,224.05 L500.25,227.15 Z" fill="#111"/>
<path d="M506.45,224.05 L509.75,224.05 L508.10,227.15 Z" fill="#111"/>
<path d="M502.70,208.60 L506.10,208.60 L504.40,211.80 Z" fill="#d81f3c"/>
<text x="232.00" y="283.40" font-size="7.6" stroke="#1e1e1e" stroke-width="0.12" text-anchor="end" textLength="25.30" lengthAdjust="spacingAndGlyphs">RS9737</text>
<line x1="296.00" y1="278.80" x2="303.80" y2="278.80" stroke="#555" stroke-width="0.9"/>
<path d="M306.00,278.80 L303.00,277.30 L303.00,280.30 Z" fill="#555"/>
<line x1="334.40" y1="278.80" x2="340.80" y2="278.80" stroke="#555" stroke-width="0.9"/>
<path d="M343.00,278.80 L340.00,277.30 L340.00,280.30 Z" fill="#555"/>
<g transform="translate(0,52.60)" fill="none" stroke="#2a2a2a" stroke-linecap="round" stroke-linejoin="round">
<path d="M308.40,218.80 C308.88,218.72 310.38,218.73 311.30,218.30 C312.22,217.87 313.03,216.72 313.90,216.20 C314.77,215.68 315.63,215.33 316.50,215.20 C317.37,215.07 318.32,215.10 319.10,215.40 C319.88,215.70 320.67,216.60 321.20,217.00 C321.73,217.40 322.12,217.67 322.30,217.80 " stroke-width="1.1"/>
<path d="M308.4,218.9 L310.6,218.7" stroke-width="1.5"/>
<path d="M321.80,217.30 C322.85,217.47 324.95,218.20 326.00,218.80 C327.05,219.40 327.58,220.02 328.10,220.90 C328.62,221.78 329.02,223.05 329.10,224.10 C329.18,225.15 328.95,226.23 328.60,227.20 C328.25,228.17 327.62,229.02 327.00,229.90 C326.38,230.78 325.60,231.80 324.90,232.50 C324.20,233.20 323.42,233.80 322.80,234.10 C322.18,234.40 321.82,234.40 321.20,234.30 C320.58,234.20 319.70,233.88 319.10,233.50 C318.50,233.12 318.20,232.70 317.60,232.00 C317.00,231.30 316.03,230.18 315.50,229.30 C314.97,228.42 314.53,227.57 314.40,226.70 C314.27,225.83 314.48,224.97 314.70,224.10 C314.92,223.23 315.22,222.28 315.70,221.50 C316.18,220.72 316.93,220.02 317.60,219.40 C318.27,218.78 319.00,218.15 319.70,217.80 C320.40,217.45 320.75,217.13 321.80,217.30 Z" stroke-width="1.0" fill="#fff"/>
<path d="M314.9,224.6 C315.9,222.3 319.1,222.0 320.7,225.2" stroke-width="1.15"/>
<path d="M323.5,225.2 C325.1,222.0 328.1,222.3 329.0,224.6" stroke-width="1.15"/>
<path d="M317.8,233.6 L316.8,234.8 M325.2,233.2 L326.4,234.2" stroke-width="0.5" stroke="#777"/>
</g>
<g transform="translate(0,52.60)"><circle cx="320.4" cy="230.4" r="0.65" fill="#2a2a2a"/><circle cx="324.1" cy="230.4" r="0.65" fill="#2a2a2a"/></g>
<rect x="236.70" y="262.40" width="53.50" height="30.80" fill="#ffffff"/>
<rect x="237.20" y="291.00" width="52.50" height="1.70" fill="#e2e2f0"/>
<line x1="237.20" y1="291.20" x2="289.70" y2="291.20" stroke="#6a6ab8" stroke-width="0.6"/>
<path d="M237.20,291.00 L237.20,291.00 L237.45,291.00 L237.70,290.99 L237.95,290.99 L238.20,290.99 L238.45,290.98 L238.70,290.97 L238.95,290.96 L239.20,290.95 L239.45,290.93 L239.70,290.92 L239.95,290.89 L240.20,290.87 L240.45,290.85 L240.70,290.83 L240.95,290.81 L241.20,290.79 L241.45,290.78 L241.70,290.78 L241.95,290.78 L242.20,290.78 L242.45,290.80 L242.70,290.81 L242.95,290.83 L243.20,290.85 L243.45,290.88 L243.70,290.90 L243.95,290.92 L244.20,290.94 L244.45,290.95 L244.70,290.97 L244.95,290.98 L245.20,290.98 L245.45,290.99 L245.70,290.99 L245.95,291.00 L246.20,291.00 L246.45,290.99 L246.70,290.99 L246.95,290.98 L247.20,290.97 L247.45,290.96 L247.70,290.94 L247.95,290.91 L248.20,290.88 L248.45,290.83 L248.70,290.77 L248.95,290.71 L249.20,290.64 L249.45,290.56 L249.70,290.48 L249.95,290.40 L250.20,290.32 L250.45,290.26 L250.70,290.22 L250.95,290.19 L251.20,290.19 L251.45,290.21 L251.70,290.25 L251.95,290.31 L252.20,290.38 L252.45,290.46 L252.70,290.43 L252.95,290.28 L253.20,290.13 L253.45,289.98 L253.70,289.83 L253.95,289.70 L254.20,289.59 L254.45,289.51 L254.70,289.47 L254.95,289.48 L255.20,289.52 L255.45,289.61 L255.70,289.72 L255.95,289.86 L256.20,289.92 L256.45,289.58 L256.70,289.18 L256.95,288.73 L257.20,288.25 L257.45,287.76 L257.70,287.29 L257.95,286.86 L258.20,286.51 L258.45,286.27 L258.70,286.15 L258.95,286.16 L259.20,286.31 L259.45,286.58 L259.70,286.94 L259.95,287.38 L260.20,287.86 L260.45,288.35 L260.70,288.47 L260.95,287.85 L261.20,287.18 L261.45,286.50 L261.70,285.84 L261.95,285.25 L262.20,284.77 L262.45,284.43 L262.70,284.26 L262.95,284.28 L263.20,284.49 L263.45,284.85 L263.70,285.36 L263.95,285.97 L264.20,286.63 L264.45,287.31 L264.70,287.41 L264.95,286.58 L265.20,285.70 L265.45,284.83 L265.70,284.01 L265.95,283.30 L266.20,282.74 L266.45,282.39 L266.70,282.27 L266.95,282.39 L267.20,282.74 L267.45,283.30 L267.70,284.01 L267.95,284.83 L268.20,285.70 L268.45,286.58 L268.70,286.22 L268.95,285.25 L269.20,284.26 L269.45,283.32 L269.70,282.49 L269.95,281.83 L270.20,281.38 L270.45,281.20 L270.70,281.28 L270.95,281.62 L271.20,282.20 L271.45,282.97 L271.70,283.88 L271.95,284.85 L272.20,285.84 L272.45,286.70 L272.70,285.68 L272.95,284.59 L273.20,283.49 L273.45,282.44 L273.70,281.51 L273.95,280.78 L274.20,280.28 L274.45,280.07 L274.70,280.16 L274.95,280.55 L275.20,281.19 L275.45,282.05 L275.70,283.06 L275.95,284.15 L276.20,285.25 L276.45,286.30 L276.70,287.27 L276.95,287.76 L277.20,287.32 L277.45,286.95 L277.70,286.66 L277.95,286.47 L278.20,286.41 L278.45,286.47 L278.70,286.66 L278.95,286.95 L279.20,287.32 L279.45,287.76 L279.70,288.22 L279.95,288.68 L280.20,289.11 L280.45,289.51 L280.70,289.86 L280.95,290.15 L281.20,290.38 L281.45,290.56 L281.70,290.70 L281.95,290.78 L282.20,290.78 L282.45,290.80 L282.70,290.81 L282.95,290.83 L283.20,290.85 L283.45,290.88 L283.70,290.90 L283.95,290.92 L284.20,290.94 L284.45,290.95 L284.70,290.97 L284.95,290.98 L285.20,290.98 L285.45,290.99 L285.70,290.99 L285.95,291.00 L286.20,291.00 L286.45,291.00 L286.70,291.00 L286.95,291.00 L287.20,291.00 L287.45,291.00 L287.70,291.00 L287.95,291.00 L288.20,291.00 L288.45,291.00 L288.70,291.00 L288.95,291.00 L289.20,291.00 L289.45,291.00 L289.70,291.00 L289.70,291.00 Z" fill="#9a9ae0" fill-opacity="0.8"/>
<path d="M237.20,291.00 L237.20,291.00 L237.45,291.00 L237.70,291.00 L237.95,291.00 L238.20,291.00 L238.45,291.00 L238.70,291.00 L238.95,291.00 L239.20,291.00 L239.45,291.00 L239.70,290.99 L239.95,290.98 L240.20,290.95 L240.45,290.90 L240.70,290.83 L240.95,290.74 L241.20,290.64 L241.45,290.55 L241.70,290.50 L241.95,290.51 L242.20,290.57 L242.45,290.66 L242.70,290.76 L242.95,290.85 L243.20,290.91 L243.45,290.96 L243.70,290.98 L243.95,290.99 L244.20,291.00 L244.45,291.00 L244.70,291.00 L244.95,291.00 L245.20,291.00 L245.45,291.00 L245.70,291.00 L245.95,291.00 L246.20,291.00 L246.45,291.00 L246.70,291.00 L246.95,291.00 L247.20,291.00 L247.45,291.00 L247.70,291.00 L247.95,291.00 L248.20,291.00 L248.45,291.00 L248.70,290.99 L248.95,290.97 L249.20,290.93 L249.45,290.84 L249.70,290.68 L249.95,290.44 L250.20,290.12 L250.45,289.76 L250.70,289.44 L250.95,289.24 L251.20,289.22 L251.45,289.39 L251.70,289.69 L251.95,290.05 L252.20,290.39 L252.45,290.64 L252.70,290.82 L252.95,290.84 L253.20,290.65 L253.45,290.33 L253.70,289.84 L253.95,289.21 L254.20,288.53 L254.45,287.95 L254.70,287.63 L254.95,287.67 L255.20,288.05 L255.45,288.66 L255.70,289.35 L255.95,289.95 L256.20,290.40 L256.45,290.70 L256.70,290.79 L256.95,290.48 L257.20,289.89 L257.45,288.86 L257.70,287.32 L257.95,285.32 L258.20,283.16 L258.45,281.31 L258.70,280.30 L258.95,280.41 L259.20,281.63 L259.45,283.58 L259.70,285.74 L259.95,287.67 L260.20,289.11 L260.45,290.04 L260.70,290.56 L260.95,290.28 L261.20,289.46 L261.45,288.03 L261.70,285.88 L261.95,283.11 L262.20,280.11 L262.45,277.55 L262.70,276.13 L262.95,276.30 L263.20,277.99 L263.45,280.70 L263.70,283.70 L263.95,286.37 L264.20,288.37 L264.45,289.67 L264.70,290.39 L264.95,289.72 L265.20,288.37 L265.45,286.16 L265.70,283.02 L265.95,279.23 L266.20,275.47 L266.45,272.65 L266.70,271.60 L266.95,272.65 L267.20,275.47 L267.45,279.23 L267.70,283.02 L267.95,286.16 L268.20,288.37 L268.45,289.72 L268.70,289.78 L268.95,288.42 L269.20,286.15 L269.45,282.82 L269.70,278.66 L269.95,274.34 L270.20,270.88 L270.45,269.25 L270.70,269.96 L270.95,272.79 L271.20,276.90 L271.45,281.23 L271.70,284.94 L271.95,287.64 L272.20,289.33 L272.45,290.26 L272.70,289.64 L272.95,288.13 L273.20,285.59 L273.45,281.88 L273.70,277.24 L273.95,272.43 L274.20,268.57 L274.45,266.75 L274.70,267.55 L274.95,270.70 L275.20,275.28 L275.45,280.11 L275.70,284.24 L275.95,287.25 L276.20,289.14 L276.45,290.17 L276.70,289.62 L276.95,288.46 L277.20,286.81 L277.45,284.81 L277.70,282.83 L277.95,281.35 L278.20,280.80 L278.45,281.35 L278.70,282.83 L278.95,284.81 L279.20,286.81 L279.45,288.46 L279.70,289.62 L279.95,290.33 L280.20,290.71 L280.45,290.89 L280.70,290.83 L280.95,290.74 L281.20,290.64 L281.45,290.55 L281.70,290.50 L281.95,290.51 L282.20,290.57 L282.45,290.66 L282.70,290.76 L282.95,290.85 L283.20,290.91 L283.45,290.96 L283.70,290.98 L283.95,290.99 L284.20,291.00 L284.45,291.00 L284.70,291.00 L284.95,291.00 L285.20,291.00 L285.45,291.00 L285.70,291.00 L285.95,291.00 L286.20,291.00 L286.45,291.00 L286.70,291.00 L286.95,291.00 L287.20,291.00 L287.45,291.00 L287.70,291.00 L287.95,291.00 L288.20,291.00 L288.45,291.00 L288.70,291.00 L288.95,291.00 L289.20,291.00 L289.45,291.00 L289.70,291.00 L289.70,291.00 Z" fill="#232380" stroke="#4848b0" stroke-width="0.45" stroke-opacity="0.8"/>
<rect x="236.70" y="262.40" width="53.50" height="30.80" fill="none" stroke="#505050" stroke-width="1.3"/>
<path d="M244.95,260.60 L248.65,260.60 L246.80,264.00 Z" fill="#111"/>
<path d="M248.65,260.60 L252.35,260.60 L250.50,264.00 Z" fill="#111"/>
<path d="M252.35,260.60 L256.05,260.60 L254.20,264.00 Z" fill="#111"/>
<path d="M256.65,260.60 L260.35,260.60 L258.50,264.00 Z" fill="#111"/>
<path d="M260.35,260.60 L264.05,260.60 L262.20,264.00 Z" fill="#111"/>
<path d="M264.35,260.60 L268.05,260.60 L266.20,264.00 Z" fill="#111"/>
<path d="M268.35,260.60 L272.05,260.60 L270.20,264.00 Z" fill="#111"/>
<path d="M276.65,260.60 L280.35,260.60 L278.50,264.00 Z" fill="#111"/>
<path d="M272.65,260.60 L276.35,260.60 L274.50,264.00 Z" fill="#b8203a"/>
<rect x="349.70" y="262.60" width="53.50" height="34.40" fill="#ffffff"/>
<rect x="350.20" y="295.00" width="52.50" height="1.50" fill="#e2e2f0"/>
<line x1="350.20" y1="295.20" x2="402.70" y2="295.20" stroke="#6a6ab8" stroke-width="0.6"/>
<path d="M350.20,295.00 L350.20,295.00 L350.45,295.00 L350.70,295.00 L350.95,295.00 L351.20,295.00 L351.45,295.00 L351.70,294.99 L351.95,294.99 L352.20,294.99 L352.45,294.98 L352.70,294.97 L352.95,294.96 L353.20,294.94 L353.45,294.91 L353.70,294.89 L353.95,294.86 L354.20,294.82 L354.45,294.78 L354.70,294.74 L354.95,294.70 L355.20,294.66 L355.45,294.63 L355.70,294.61 L355.95,294.60 L356.20,294.60 L356.45,294.61 L356.70,294.63 L356.95,294.66 L357.20,294.69 L357.45,294.73 L357.70,294.77 L357.95,294.81 L358.20,294.85 L358.45,294.88 L358.70,294.91 L358.95,294.93 L359.20,294.95 L359.45,294.97 L359.70,294.98 L359.95,294.98 L360.20,294.97 L360.45,294.96 L360.70,294.94 L360.95,294.91 L361.20,294.88 L361.45,294.83 L361.70,294.77 L361.95,294.71 L362.20,294.64 L362.45,294.56 L362.70,294.48 L362.95,294.40 L363.20,294.32 L363.45,294.26 L363.70,294.22 L363.95,294.19 L364.20,294.19 L364.45,294.21 L364.70,294.25 L364.95,294.31 L365.20,294.26 L365.45,294.02 L365.70,293.75 L365.95,293.44 L366.20,293.11 L366.45,292.78 L366.70,292.46 L366.95,292.16 L367.20,291.93 L367.45,291.76 L367.70,291.68 L367.95,291.69 L368.20,291.79 L368.45,291.97 L368.70,292.22 L368.95,291.67 L369.20,290.78 L369.45,289.80 L369.70,288.78 L369.95,287.75 L370.20,286.78 L370.45,285.95 L370.70,285.29 L370.95,284.88 L371.20,284.74 L371.45,284.88 L371.70,285.29 L371.95,285.95 L372.20,286.78 L372.45,287.75 L372.70,288.78 L372.95,289.80 L373.20,290.78 L373.45,291.63 L373.70,290.96 L373.95,290.29 L374.20,289.67 L374.45,289.12 L374.70,288.70 L374.95,288.43 L375.20,288.34 L375.45,288.43 L375.70,288.70 L375.95,289.12 L376.20,289.67 L376.45,290.29 L376.70,290.96 L376.95,290.34 L377.20,289.17 L377.45,287.90 L377.70,286.59 L377.95,285.31 L378.20,284.14 L378.45,283.16 L378.70,282.45 L378.95,282.06 L379.20,282.02 L379.45,282.34 L379.70,282.99 L379.95,283.92 L380.20,285.06 L380.45,286.33 L380.70,287.64 L380.95,288.92 L381.20,288.54 L381.45,287.64 L381.70,286.84 L381.95,286.21 L382.20,285.78 L382.45,285.60 L382.70,285.68 L382.95,286.01 L383.20,286.57 L383.45,287.30 L383.70,288.17 L383.95,289.11 L384.20,289.76 L384.45,288.55 L384.70,287.28 L384.95,286.00 L385.20,284.80 L385.45,283.76 L385.70,282.95 L385.95,282.44 L386.20,282.26 L386.45,282.44 L386.70,282.95 L386.95,283.76 L387.20,284.80 L387.45,286.00 L387.70,287.28 L387.95,288.55 L388.20,289.76 L388.45,290.66 L388.70,289.97 L388.95,289.33 L389.20,288.78 L389.45,288.37 L389.70,288.13 L389.95,288.07 L390.20,288.21 L390.45,288.52 L390.70,288.99 L390.95,289.58 L391.20,290.24 L391.45,290.94 L391.70,291.63 L391.95,292.28 L392.20,292.86 L392.45,293.37 L392.70,293.79 L392.95,294.12 L393.20,294.38 L393.45,294.55 L393.70,294.55 L393.95,294.56 L394.20,294.58 L394.45,294.62 L394.70,294.66 L394.95,294.70 L395.20,294.75 L395.45,294.79 L395.70,294.83 L395.95,294.87 L396.20,294.90 L396.45,294.93 L396.70,294.95 L396.95,294.96 L397.20,294.97 L397.45,294.98 L397.70,294.99 L397.95,294.99 L398.20,295.00 L398.45,295.00 L398.70,295.00 L398.95,295.00 L399.20,295.00 L399.45,295.00 L399.70,295.00 L399.95,295.00 L400.20,295.00 L400.45,295.00 L400.70,295.00 L400.95,295.00 L401.20,295.00 L401.45,295.00 L401.70,295.00 L401.95,295.00 L402.20,295.00 L402.45,295.00 L402.70,295.00 L402.70,295.00 Z" fill="#9a9ae0" fill-opacity="0.8"/>
<path d="M350.20,295.00 L350.20,295.00 L350.45,295.00 L350.70,295.00 L350.95,295.00 L351.20,295.00 L351.45,295.00 L351.70,295.00 L351.95,295.00 L352.20,295.00 L352.45,295.00 L352.70,295.00 L352.95,295.00 L353.20,295.00 L353.45,295.00 L353.70,294.99 L353.95,294.99 L354.20,294.96 L354.45,294.92 L354.70,294.84 L354.95,294.72 L355.20,294.56 L355.45,294.38 L355.70,294.22 L355.95,294.12 L356.20,294.11 L356.45,294.19 L356.70,294.35 L356.95,294.53 L357.20,294.69 L357.45,294.82 L357.70,294.91 L357.95,294.96 L358.20,294.98 L358.45,294.99 L358.70,295.00 L358.95,295.00 L359.20,295.00 L359.45,295.00 L359.70,295.00 L359.95,295.00 L360.20,295.00 L360.45,295.00 L360.70,295.00 L360.95,295.00 L361.20,295.00 L361.45,295.00 L361.70,294.99 L361.95,294.97 L362.20,294.93 L362.45,294.84 L362.70,294.68 L362.95,294.44 L363.20,294.12 L363.45,293.76 L363.70,293.44 L363.95,293.24 L364.20,293.22 L364.45,293.39 L364.70,293.69 L364.95,294.05 L365.20,294.39 L365.45,294.64 L365.70,294.82 L365.95,294.65 L366.20,294.24 L366.45,293.54 L366.70,292.48 L366.95,291.11 L367.20,289.63 L367.45,288.36 L367.70,287.67 L367.95,287.75 L368.20,288.58 L368.45,289.92 L368.70,291.40 L368.95,292.72 L369.20,293.70 L369.45,293.50 L369.70,291.91 L369.95,289.31 L370.20,285.63 L370.45,281.17 L370.70,276.74 L370.95,273.43 L371.20,272.20 L371.45,273.43 L371.70,276.74 L371.95,281.17 L372.20,285.63 L372.45,289.31 L372.70,291.91 L372.95,293.50 L373.20,294.35 L373.45,294.03 L373.70,293.00 L373.95,291.31 L374.20,288.92 L374.45,286.02 L374.70,283.15 L374.95,281.00 L375.20,280.20 L375.45,281.00 L375.70,283.15 L375.95,286.02 L376.20,288.92 L376.45,291.31 L376.70,293.00 L376.95,294.03 L377.20,293.83 L377.45,292.43 L377.70,289.94 L377.95,286.08 L378.20,280.93 L378.45,275.15 L378.70,269.93 L378.95,266.67 L379.20,266.36 L379.45,269.08 L379.70,274.01 L379.95,279.80 L380.20,285.14 L380.45,289.28 L380.70,292.03 L380.95,292.53 L381.20,290.35 L381.45,287.16 L381.70,283.17 L381.95,279.03 L382.20,275.71 L382.45,274.15 L382.70,274.83 L382.95,277.54 L383.20,281.48 L383.45,285.63 L383.70,289.19 L383.95,291.78 L384.20,293.40 L384.45,293.14 L384.70,291.17 L384.95,287.94 L385.20,283.37 L385.45,277.84 L385.70,272.34 L385.95,268.23 L386.20,266.70 L386.45,268.23 L386.70,272.34 L386.95,277.84 L387.20,283.37 L387.45,287.94 L387.70,291.17 L387.95,293.14 L388.20,293.82 L388.45,292.62 L388.70,290.72 L388.95,288.10 L389.20,285.04 L389.45,282.14 L389.70,280.14 L389.95,279.63 L390.20,280.78 L390.45,283.23 L390.70,286.28 L390.95,289.22 L391.20,291.57 L391.45,293.18 L391.70,294.14 L391.95,294.63 L392.20,294.82 L392.45,294.69 L392.70,294.51 L392.95,294.31 L393.20,294.13 L393.45,294.02 L393.70,294.01 L393.95,294.10 L394.20,294.27 L394.45,294.47 L394.70,294.66 L394.95,294.80 L395.20,294.90 L395.45,294.95 L395.70,294.98 L395.95,294.99 L396.20,295.00 L396.45,295.00 L396.70,295.00 L396.95,295.00 L397.20,295.00 L397.45,295.00 L397.70,295.00 L397.95,295.00 L398.20,295.00 L398.45,295.00 L398.70,295.00 L398.95,295.00 L399.20,295.00 L399.45,295.00 L399.70,295.00 L399.95,295.00 L400.20,295.00 L400.45,295.00 L400.70,295.00 L400.95,295.00 L401.20,295.00 L401.45,295.00 L401.70,295.00 L401.95,295.00 L402.20,295.00 L402.45,295.00 L402.70,295.00 L402.70,295.00 Z" fill="#232380" stroke="#4848b0" stroke-width="0.45" stroke-opacity="0.8"/>
<rect x="349.70" y="262.60" width="53.50" height="34.40" fill="none" stroke="#505050" stroke-width="1.3"/>
<path d="M357.35,260.60 L361.05,260.60 L359.20,264.00 Z" fill="#111"/>
<path d="M360.95,260.60 L364.65,260.60 L362.80,264.00 Z" fill="#111"/>
<path d="M364.65,260.60 L368.35,260.60 L366.50,264.00 Z" fill="#111"/>
<path d="M368.35,260.60 L372.05,260.60 L370.20,264.00 Z" fill="#111"/>
<path d="M372.05,260.60 L375.75,260.60 L373.90,264.00 Z" fill="#111"/>
<path d="M375.75,260.60 L379.45,260.60 L377.60,264.00 Z" fill="#111"/>
<path d="M380.05,260.60 L383.75,260.60 L381.90,264.00 Z" fill="#111"/>
<path d="M388.05,260.60 L391.75,260.60 L389.90,264.00 Z" fill="#111"/>
<path d="M383.75,260.60 L387.45,260.60 L385.60,264.00 Z" fill="#b8203a"/>
<rect x="408.30" y="262.60" width="53.30" height="34.90" fill="#ffffff"/>
<rect x="408.80" y="295.30" width="52.30" height="1.70" fill="#e2e2f0"/>
<line x1="408.80" y1="295.50" x2="461.10" y2="295.50" stroke="#6a6ab8" stroke-width="0.6"/>
<path d="M408.80,295.30 L408.80,295.30 L409.05,295.29 L409.30,295.29 L409.55,295.28 L409.80,295.27 L410.05,295.26 L410.30,295.24 L410.55,295.21 L410.80,295.17 L411.05,295.12 L411.30,295.06 L411.55,294.99 L411.80,294.91 L412.05,294.82 L412.30,294.73 L412.55,294.63 L412.80,294.54 L413.05,294.47 L413.30,294.41 L413.55,294.37 L413.80,294.36 L414.05,294.37 L414.30,294.41 L414.55,294.47 L414.80,294.54 L415.05,294.63 L415.30,294.73 L415.55,294.82 L415.80,294.91 L416.05,294.99 L416.30,295.06 L416.55,295.12 L416.80,295.17 L417.05,295.21 L417.30,295.24 L417.55,295.26 L417.80,295.27 L418.05,295.28 L418.30,295.29 L418.55,295.28 L418.80,295.27 L419.05,295.25 L419.30,295.23 L419.55,295.20 L419.80,295.17 L420.05,295.12 L420.30,295.07 L420.55,295.01 L420.80,294.94 L421.05,294.88 L421.30,294.81 L421.55,294.75 L421.80,294.69 L422.05,294.65 L422.30,294.63 L422.55,294.63 L422.80,294.64 L423.05,294.67 L423.30,294.71 L423.55,294.61 L423.80,294.42 L424.05,294.21 L424.30,293.98 L424.55,293.74 L424.80,293.51 L425.05,293.31 L425.30,293.14 L425.55,293.02 L425.80,292.97 L426.05,292.97 L426.30,293.04 L426.55,293.17 L426.80,293.35 L427.05,293.56 L427.30,293.38 L427.55,292.86 L427.80,292.28 L428.05,291.66 L428.30,291.03 L428.55,290.44 L428.80,289.91 L429.05,289.49 L429.30,289.21 L429.55,289.09 L429.80,289.14 L430.05,289.36 L430.30,289.73 L430.55,290.22 L430.80,290.79 L431.05,291.41 L431.30,292.03 L431.55,291.44 L431.80,290.73 L432.05,290.03 L432.30,289.40 L432.55,288.87 L432.80,288.48 L433.05,288.27 L433.30,288.25 L433.55,288.42 L433.80,288.78 L434.05,289.28 L434.30,289.90 L434.55,290.03 L434.80,288.77 L435.05,287.44 L435.30,286.09 L435.55,284.80 L435.80,283.67 L436.05,282.76 L436.30,282.16 L436.55,281.90 L436.80,282.01 L437.05,282.48 L437.30,283.27 L437.55,284.33 L437.80,285.56 L438.05,286.90 L438.30,288.24 L438.55,289.54 L438.80,290.55 L439.05,290.01 L439.30,289.57 L439.55,289.26 L439.80,289.10 L440.05,289.12 L440.30,289.31 L440.55,289.65 L440.80,290.11 L441.05,290.67 L441.30,290.89 L441.55,289.81 L441.80,288.65 L442.05,287.47 L442.30,286.32 L442.55,285.30 L442.80,284.46 L443.05,283.87 L443.30,283.58 L443.55,283.61 L443.80,283.97 L444.05,284.61 L444.30,285.49 L444.55,286.55 L444.80,287.70 L445.05,288.89 L445.30,290.03 L445.55,290.69 L445.80,290.08 L446.05,289.54 L446.30,289.13 L446.55,288.86 L446.80,288.78 L447.05,288.86 L447.30,289.13 L447.55,289.54 L447.80,290.08 L448.05,290.69 L448.30,291.34 L448.55,292.00 L448.80,292.62 L449.05,293.18 L449.30,293.67 L449.55,294.08 L449.80,294.08 L450.05,294.05 L450.30,294.04 L450.55,294.07 L450.80,294.14 L451.05,294.23 L451.30,294.34 L451.55,294.46 L451.80,294.59 L452.05,294.71 L452.30,294.83 L452.55,294.93 L452.80,295.02 L453.05,295.09 L453.30,295.15 L453.55,295.20 L453.80,295.23 L454.05,295.25 L454.30,295.27 L454.55,295.28 L454.80,295.29 L455.05,295.29 L455.30,295.30 L455.55,295.30 L455.80,295.30 L456.05,295.30 L456.30,295.30 L456.55,295.30 L456.80,295.30 L457.05,295.30 L457.30,295.30 L457.55,295.30 L457.80,295.30 L458.05,295.30 L458.30,295.30 L458.55,295.30 L458.80,295.30 L459.05,295.30 L459.30,295.30 L459.55,295.30 L459.80,295.30 L460.05,295.30 L460.30,295.30 L460.55,295.30 L460.80,295.30 L461.05,295.30 L461.10,295.30 Z" fill="#9a9ae0" fill-opacity="0.8"/>
<path d="M408.80,295.30 L408.80,295.30 L409.05,295.30 L409.30,295.30 L409.55,295.30 L409.80,295.30 L410.05,295.30 L410.30,295.30 L410.55,295.30 L410.80,295.30 L411.05,295.30 L411.30,295.29 L411.55,295.28 L411.80,295.24 L412.05,295.16 L412.30,295.02 L412.55,294.78 L412.80,294.44 L413.05,294.03 L413.30,293.62 L413.55,293.31 L413.80,293.20 L414.05,293.31 L414.30,293.62 L414.55,294.03 L414.80,294.44 L415.05,294.78 L415.30,295.02 L415.55,295.16 L415.80,295.24 L416.05,295.28 L416.30,295.29 L416.55,295.30 L416.80,295.30 L417.05,295.30 L417.30,295.30 L417.55,295.30 L417.80,295.30 L418.05,295.30 L418.30,295.30 L418.55,295.30 L418.80,295.30 L419.05,295.30 L419.30,295.30 L419.55,295.30 L419.80,295.30 L420.05,295.29 L420.30,295.28 L420.55,295.25 L420.80,295.19 L421.05,295.07 L421.30,294.88 L421.55,294.63 L421.80,294.33 L422.05,294.05 L422.30,293.85 L422.55,293.80 L422.80,293.92 L423.05,294.15 L423.30,294.45 L423.55,294.74 L423.80,294.97 L424.05,295.05 L424.30,294.77 L424.55,294.27 L424.80,293.53 L425.05,292.56 L425.30,291.52 L425.55,290.64 L425.80,290.15 L426.05,290.20 L426.30,290.79 L426.55,291.73 L426.80,292.77 L427.05,293.70 L427.30,294.39 L427.55,294.84 L427.80,294.53 L428.05,293.67 L428.30,292.23 L428.55,290.12 L428.80,287.49 L429.05,284.75 L429.30,282.56 L429.55,281.53 L429.80,281.98 L430.05,283.77 L430.30,286.37 L430.55,289.11 L430.80,291.46 L431.05,293.17 L431.30,294.24 L431.55,293.90 L431.80,292.55 L432.05,290.45 L432.30,287.66 L432.55,284.52 L432.80,281.68 L433.05,279.91 L433.30,279.74 L433.55,281.22 L433.80,283.90 L434.05,287.04 L434.30,289.94 L434.55,292.19 L434.80,293.63 L435.05,291.78 L435.30,288.67 L435.55,284.12 L435.80,278.43 L436.05,272.53 L436.30,267.79 L436.55,265.57 L436.80,266.54 L437.05,270.41 L437.30,276.02 L437.55,281.94 L437.80,287.01 L438.05,290.70 L438.30,293.02 L438.55,292.57 L438.80,290.59 L439.05,288.04 L439.30,285.28 L439.55,282.92 L439.80,281.62 L440.05,281.77 L440.30,283.33 L440.55,285.82 L440.80,288.58 L441.05,291.04 L441.30,292.88 L441.55,294.05 L441.80,292.62 L442.05,290.13 L442.30,286.40 L442.55,281.57 L442.80,276.35 L443.05,271.89 L443.30,269.43 L443.55,269.72 L443.80,272.66 L444.05,277.37 L444.30,282.60 L444.55,287.24 L444.80,290.73 L445.05,292.98 L445.30,293.34 L445.55,291.68 L445.80,289.34 L446.05,286.51 L446.30,283.69 L446.55,281.58 L446.80,280.80 L447.05,281.58 L447.30,283.69 L447.55,286.51 L447.80,289.34 L448.05,291.68 L448.30,293.34 L448.55,294.35 L448.80,294.81 L449.05,294.44 L449.30,293.94 L449.55,293.38 L449.80,292.87 L450.05,292.56 L450.30,292.52 L450.55,292.79 L450.80,293.27 L451.05,293.83 L451.30,294.34 L451.55,294.75 L451.80,295.01 L452.05,295.17 L452.30,295.24 L452.55,295.28 L452.80,295.29 L453.05,295.30 L453.30,295.30 L453.55,295.30 L453.80,295.30 L454.05,295.30 L454.30,295.30 L454.55,295.30 L454.80,295.30 L455.05,295.30 L455.30,295.30 L455.55,295.30 L455.80,295.30 L456.05,295.30 L456.30,295.30 L456.55,295.30 L456.80,295.30 L457.05,295.30 L457.30,295.30 L457.55,295.30 L457.80,295.30 L458.05,295.30 L458.30,295.30 L458.55,295.30 L458.80,295.30 L459.05,295.30 L459.30,295.30 L459.55,295.30 L459.80,295.30 L460.05,295.30 L460.30,295.30 L460.55,295.30 L460.80,295.30 L461.05,295.30 L461.10,295.30 Z" fill="#232380" stroke="#4848b0" stroke-width="0.45" stroke-opacity="0.8"/>
<rect x="408.30" y="262.60" width="53.30" height="34.90" fill="none" stroke="#505050" stroke-width="1.3"/>
<path d="M416.95,260.60 L420.65,260.60 L418.80,264.00 Z" fill="#111"/>
<path d="M420.35,260.60 L424.05,260.60 L422.20,264.00 Z" fill="#111"/>
<path d="M424.05,260.60 L427.75,260.60 L425.90,264.00 Z" fill="#111"/>
<path d="M427.75,260.60 L431.45,260.60 L429.60,264.00 Z" fill="#111"/>
<path d="M431.35,260.60 L435.05,260.60 L433.20,264.00 Z" fill="#111"/>
<path d="M434.75,260.60 L438.45,260.60 L436.60,264.00 Z" fill="#111"/>
<path d="M444.95,260.60 L448.65,260.60 L446.80,264.00 Z" fill="#111"/>
<path d="M438.05,260.60 L441.75,260.60 L439.90,264.00 Z" fill="#b8203a"/>
<path d="M441.55,260.60 L445.25,260.60 L443.40,264.00 Z" fill="#b8203a"/>
<rect x="465.50" y="262.50" width="53.30" height="34.60" fill="#ffffff"/>
<rect x="466.00" y="295.00" width="52.30" height="1.60" fill="#e2e2f0"/>
<line x1="466.00" y1="295.20" x2="518.30" y2="295.20" stroke="#6a6ab8" stroke-width="0.6"/>
<path d="M466.00,295.00 L466.00,295.00 L466.25,295.00 L466.50,294.99 L466.75,294.99 L467.00,294.98 L467.25,294.98 L467.50,294.97 L467.75,294.95 L468.00,294.94 L468.25,294.92 L468.50,294.90 L468.75,294.88 L469.00,294.85 L469.25,294.83 L469.50,294.81 L469.75,294.80 L470.00,294.78 L470.25,294.78 L470.50,294.78 L470.75,294.78 L471.00,294.79 L471.25,294.81 L471.50,294.83 L471.75,294.85 L472.00,294.87 L472.25,294.89 L472.50,294.92 L472.75,294.93 L473.00,294.95 L473.25,294.96 L473.50,294.97 L473.75,294.98 L474.00,294.99 L474.25,294.99 L474.50,294.99 L474.75,294.99 L475.00,294.99 L475.25,294.99 L475.50,294.98 L475.75,294.97 L476.00,294.96 L476.25,294.94 L476.50,294.92 L476.75,294.90 L477.00,294.87 L477.25,294.84 L477.50,294.81 L477.75,294.78 L478.00,294.75 L478.25,294.72 L478.50,294.70 L478.75,294.69 L479.00,294.69 L479.25,294.69 L479.50,294.70 L479.75,294.72 L480.00,294.71 L480.25,294.61 L480.50,294.49 L480.75,294.35 L481.00,294.19 L481.25,294.02 L481.50,293.86 L481.75,293.70 L482.00,293.56 L482.25,293.44 L482.50,293.37 L482.75,293.34 L483.00,293.35 L483.25,293.41 L483.50,293.51 L483.75,293.64 L484.00,293.79 L484.25,293.45 L484.50,293.04 L484.75,292.58 L485.00,292.11 L485.25,291.63 L485.50,291.18 L485.75,290.79 L486.00,290.49 L486.25,290.30 L486.50,290.23 L486.75,290.30 L487.00,290.49 L487.25,290.79 L487.50,291.18 L487.75,291.63 L488.00,292.11 L488.25,292.58 L488.50,292.15 L488.75,291.45 L489.00,290.69 L489.25,289.93 L489.50,289.19 L489.75,288.52 L490.00,287.98 L490.25,287.60 L490.50,287.41 L490.75,287.43 L491.00,287.66 L491.25,288.08 L491.50,288.65 L491.75,289.33 L492.00,290.08 L492.25,290.85 L492.50,291.59 L492.75,290.99 L493.00,290.30 L493.25,289.65 L493.50,289.07 L493.75,288.60 L494.00,288.30 L494.25,288.16 L494.50,288.22 L494.75,288.46 L495.00,288.87 L495.25,289.40 L495.50,290.03 L495.75,289.96 L496.00,288.76 L496.25,287.48 L496.50,286.19 L496.75,284.96 L497.00,283.88 L497.25,283.01 L497.50,282.43 L497.75,282.18 L498.00,282.29 L498.25,282.74 L498.50,283.50 L498.75,284.51 L499.00,285.69 L499.25,286.96 L499.50,288.25 L499.75,288.39 L500.00,287.08 L500.25,285.78 L500.50,284.55 L500.75,283.48 L501.00,282.66 L501.25,282.13 L501.50,281.95 L501.75,282.13 L502.00,282.66 L502.25,283.48 L502.50,284.55 L502.75,285.78 L503.00,287.08 L503.25,288.39 L503.50,289.63 L503.75,290.76 L504.00,290.78 L504.25,290.35 L504.50,290.02 L504.75,289.81 L505.00,289.74 L505.25,289.81 L505.50,290.02 L505.75,290.35 L506.00,290.78 L506.25,291.28 L506.50,291.81 L506.75,292.33 L507.00,292.84 L507.25,293.29 L507.50,293.69 L507.75,294.02 L508.00,294.29 L508.25,294.50 L508.50,294.65 L508.75,294.69 L509.00,294.69 L509.25,294.69 L509.50,294.70 L509.75,294.72 L510.00,294.75 L510.25,294.78 L510.50,294.81 L510.75,294.84 L511.00,294.87 L511.25,294.90 L511.50,294.92 L511.75,294.94 L512.00,294.96 L512.25,294.97 L512.50,294.98 L512.75,294.99 L513.00,294.99 L513.25,294.99 L513.50,295.00 L513.75,295.00 L514.00,295.00 L514.25,295.00 L514.50,295.00 L514.75,295.00 L515.00,295.00 L515.25,295.00 L515.50,295.00 L515.75,295.00 L516.00,295.00 L516.25,295.00 L516.50,295.00 L516.75,295.00 L517.00,295.00 L517.25,295.00 L517.50,295.00 L517.75,295.00 L518.00,295.00 L518.25,295.00 L518.30,295.00 Z" fill="#9a9ae0" fill-opacity="0.8"/>
<path d="M466.00,295.00 L466.00,295.00 L466.25,295.00 L466.50,295.00 L466.75,295.00 L467.00,295.00 L467.25,295.00 L467.50,295.00 L467.75,295.00 L468.00,295.00 L468.25,294.99 L468.50,294.98 L468.75,294.96 L469.00,294.91 L469.25,294.85 L469.50,294.76 L469.75,294.66 L470.00,294.57 L470.25,294.51 L470.50,294.50 L470.75,294.55 L471.00,294.64 L471.25,294.74 L471.50,294.83 L471.75,294.90 L472.00,294.95 L472.25,294.98 L472.50,294.99 L472.75,295.00 L473.00,295.00 L473.25,295.00 L473.50,295.00 L473.75,295.00 L474.00,295.00 L474.25,295.00 L474.50,295.00 L474.75,295.00 L475.00,295.00 L475.25,295.00 L475.50,295.00 L475.75,295.00 L476.00,295.00 L476.25,295.00 L476.50,295.00 L476.75,294.99 L477.00,294.98 L477.25,294.95 L477.50,294.91 L477.75,294.83 L478.00,294.71 L478.25,294.58 L478.50,294.44 L478.75,294.34 L479.00,294.30 L479.25,294.34 L479.50,294.44 L479.75,294.58 L480.00,294.71 L480.25,294.83 L480.50,294.91 L480.75,294.91 L481.00,294.79 L481.25,294.56 L481.50,294.18 L481.75,293.61 L482.00,292.91 L482.25,292.17 L482.50,291.58 L482.75,291.31 L483.00,291.43 L483.25,291.91 L483.50,292.61 L483.75,293.34 L484.00,293.97 L484.25,294.43 L484.50,294.70 L484.75,294.30 L485.00,293.57 L485.25,292.36 L485.50,290.64 L485.75,288.57 L486.00,286.51 L486.25,284.97 L486.50,284.40 L486.75,284.97 L487.00,286.51 L487.25,288.57 L487.50,290.64 L487.75,292.36 L488.00,293.57 L488.25,294.30 L488.50,294.66 L488.75,294.19 L489.00,293.26 L489.25,291.66 L489.50,289.24 L489.75,286.11 L490.00,282.73 L490.25,279.84 L490.50,278.25 L490.75,278.43 L491.00,280.34 L491.25,283.39 L491.50,286.77 L491.75,289.78 L492.00,292.04 L492.25,293.50 L492.50,294.15 L492.75,293.20 L493.00,291.62 L493.25,289.30 L493.50,286.39 L493.75,283.38 L494.00,280.97 L494.25,279.83 L494.50,280.33 L494.75,282.30 L495.00,285.17 L495.25,288.19 L495.50,290.77 L495.75,292.65 L496.00,293.40 L496.25,291.63 L496.50,288.65 L496.75,284.30 L497.00,278.86 L497.25,273.22 L497.50,268.69 L497.75,266.56 L498.00,267.50 L498.25,271.19 L498.50,276.56 L498.75,282.22 L499.00,287.08 L499.25,290.60 L499.50,292.82 L499.75,293.09 L500.00,291.08 L500.25,287.77 L500.50,283.08 L500.75,277.41 L501.00,271.78 L501.25,267.57 L501.50,266.00 L501.75,267.57 L502.00,271.78 L502.25,277.41 L502.50,283.08 L502.75,287.77 L503.00,291.08 L503.25,293.09 L503.50,293.42 L503.75,292.08 L504.00,290.19 L504.25,287.90 L504.50,285.63 L504.75,283.93 L505.00,283.30 L505.25,283.93 L505.50,285.63 L505.75,287.90 L506.00,290.19 L506.25,292.08 L506.50,293.42 L506.75,294.23 L507.00,294.67 L507.25,294.87 L507.50,294.91 L507.75,294.83 L508.00,294.71 L508.25,294.58 L508.50,294.44 L508.75,294.34 L509.00,294.30 L509.25,294.34 L509.50,294.44 L509.75,294.58 L510.00,294.71 L510.25,294.83 L510.50,294.91 L510.75,294.95 L511.00,294.98 L511.25,294.99 L511.50,295.00 L511.75,295.00 L512.00,295.00 L512.25,295.00 L512.50,295.00 L512.75,295.00 L513.00,295.00 L513.25,295.00 L513.50,295.00 L513.75,295.00 L514.00,295.00 L514.25,295.00 L514.50,295.00 L514.75,295.00 L515.00,295.00 L515.25,295.00 L515.50,295.00 L515.75,295.00 L516.00,295.00 L516.25,295.00 L516.50,295.00 L516.75,295.00 L517.00,295.00 L517.25,295.00 L517.50,295.00 L517.75,295.00 L518.00,295.00 L518.25,295.00 L518.30,295.00 Z" fill="#232380" stroke="#4848b0" stroke-width="0.45" stroke-opacity="0.8"/>
<rect x="465.50" y="262.50" width="53.30" height="34.60" fill="none" stroke="#505050" stroke-width="1.3"/>
<path d="M472.55,260.60 L476.25,260.60 L474.40,264.00 Z" fill="#111"/>
<path d="M476.65,260.60 L480.35,260.60 L478.50,264.00 Z" fill="#111"/>
<path d="M480.05,260.60 L483.75,260.60 L481.90,264.00 Z" fill="#111"/>
<path d="M484.15,260.60 L487.85,260.60 L486.00,264.00 Z" fill="#111"/>
<path d="M487.95,260.60 L491.65,260.60 L489.80,264.00 Z" fill="#111"/>
<path d="M491.65,260.60 L495.35,260.60 L493.50,264.00 Z" fill="#111"/>
<path d="M495.35,260.60 L499.05,260.60 L497.20,264.00 Z" fill="#111"/>
<path d="M498.75,260.60 L502.45,260.60 L500.60,264.00 Z" fill="#b8203a"/>
<path d="M502.55,260.60 L506.25,260.60 L504.40,264.00 Z" fill="#b8203a"/>
<text x="232.00" y="336.20" font-size="7.6" stroke="#1e1e1e" stroke-width="0.12" text-anchor="end" textLength="30.00" lengthAdjust="spacingAndGlyphs">IP867/17</text>
<line x1="296.00" y1="333.50" x2="303.80" y2="333.50" stroke="#555" stroke-width="0.9"/>
<path d="M306.00,333.50 L303.00,332.00 L303.00,335.00 Z" fill="#555"/>
<line x1="334.40" y1="333.50" x2="340.80" y2="333.50" stroke="#555" stroke-width="0.9"/>
<path d="M343.00,333.50 L340.00,332.00 L340.00,335.00 Z" fill="#555"/>
<g transform="translate(0,107.30)" fill="none" stroke="#2a2a2a" stroke-linecap="round" stroke-linejoin="round">
<path d="M308.40,218.80 C308.88,218.72 310.38,218.73 311.30,218.30 C312.22,217.87 313.03,216.72 313.90,216.20 C314.77,215.68 315.63,215.33 316.50,215.20 C317.37,215.07 318.32,215.10 319.10,215.40 C319.88,215.70 320.67,216.60 321.20,217.00 C321.73,217.40 322.12,217.67 322.30,217.80 " stroke-width="1.1"/>
<path d="M308.4,218.9 L310.6,218.7" stroke-width="1.5"/>
<path d="M321.80,217.30 C322.85,217.47 324.95,218.20 326.00,218.80 C327.05,219.40 327.58,220.02 328.10,220.90 C328.62,221.78 329.02,223.05 329.10,224.10 C329.18,225.15 328.95,226.23 328.60,227.20 C328.25,228.17 327.62,229.02 327.00,229.90 C326.38,230.78 325.60,231.80 324.90,232.50 C324.20,233.20 323.42,233.80 322.80,234.10 C322.18,234.40 321.82,234.40 321.20,234.30 C320.58,234.20 319.70,233.88 319.10,233.50 C318.50,233.12 318.20,232.70 317.60,232.00 C317.00,231.30 316.03,230.18 315.50,229.30 C314.97,228.42 314.53,227.57 314.40,226.70 C314.27,225.83 314.48,224.97 314.70,224.10 C314.92,223.23 315.22,222.28 315.70,221.50 C316.18,220.72 316.93,220.02 317.60,219.40 C318.27,218.78 319.00,218.15 319.70,217.80 C320.40,217.45 320.75,217.13 321.80,217.30 Z" stroke-width="1.0" fill="#fff"/>
<path d="M314.9,224.6 C315.9,222.3 319.1,222.0 320.7,225.2" stroke-width="1.15"/>
<path d="M323.5,225.2 C325.1,222.0 328.1,222.3 329.0,224.6" stroke-width="1.15"/>
<path d="M317.8,233.6 L316.8,234.8 M325.2,233.2 L326.4,234.2" stroke-width="0.5" stroke="#777"/>
</g>
<g transform="translate(0,107.30)"><circle cx="320.4" cy="230.4" r="0.65" fill="#2a2a2a"/><circle cx="324.1" cy="230.4" r="0.65" fill="#2a2a2a"/></g>
<rect x="236.70" y="315.50" width="53.50" height="34.50" fill="#ffffff"/>
<rect x="237.20" y="347.80" width="52.50" height="1.70" fill="#e2e2f0"/>
<line x1="237.20" y1="348.00" x2="289.70" y2="348.00" stroke="#6a6ab8" stroke-width="0.6"/>
<path d="M237.20,347.80 L237.20,347.80 L237.45,347.80 L237.70,347.80 L237.95,347.80 L238.20,347.80 L238.45,347.80 L238.70,347.80 L238.95,347.80 L239.20,347.80 L239.45,347.80 L239.70,347.80 L239.95,347.80 L240.20,347.80 L240.45,347.80 L240.70,347.80 L240.95,347.80 L241.20,347.80 L241.45,347.80 L241.70,347.80 L241.95,347.80 L242.20,347.80 L242.45,347.80 L242.70,347.80 L242.95,347.80 L243.20,347.80 L243.45,347.80 L243.70,347.80 L243.95,347.80 L244.20,347.80 L244.45,347.80 L244.70,347.80 L244.95,347.80 L245.20,347.80 L245.45,347.80 L245.70,347.80 L245.95,347.80 L246.20,347.80 L246.45,347.80 L246.70,347.80 L246.95,347.80 L247.20,347.80 L247.45,347.80 L247.70,347.80 L247.95,347.80 L248.20,347.80 L248.45,347.80 L248.70,347.80 L248.95,347.79 L249.20,347.79 L249.45,347.78 L249.70,347.77 L249.95,347.76 L250.20,347.74 L250.45,347.71 L250.70,347.68 L250.95,347.64 L251.20,347.59 L251.45,347.53 L251.70,347.47 L251.95,347.40 L252.20,347.34 L252.45,347.27 L252.70,347.21 L252.95,347.17 L253.20,347.14 L253.45,347.13 L253.70,347.13 L253.95,347.15 L254.20,347.19 L254.45,347.25 L254.70,347.31 L254.95,347.38 L255.20,347.28 L255.45,347.16 L255.70,347.04 L255.95,346.91 L256.20,346.79 L256.45,346.69 L256.70,346.61 L256.95,346.56 L257.20,346.54 L257.45,346.56 L257.70,346.61 L257.95,346.69 L258.20,346.79 L258.45,346.91 L258.70,346.93 L258.95,346.74 L259.20,346.55 L259.45,346.36 L259.70,346.18 L259.95,346.04 L260.20,345.93 L260.45,345.87 L260.70,345.87 L260.95,345.92 L261.20,346.01 L261.45,346.15 L261.70,346.32 L261.95,346.51 L262.20,346.70 L262.45,346.89 L262.70,346.71 L262.95,346.53 L263.20,346.36 L263.45,346.21 L263.70,346.10 L263.95,346.02 L264.20,346.00 L264.45,346.02 L264.70,346.10 L264.95,346.21 L265.20,346.36 L265.45,346.53 L265.70,346.71 L265.95,346.88 L266.20,346.66 L266.45,346.43 L266.70,346.19 L266.95,345.97 L267.20,345.77 L267.45,345.61 L267.70,345.51 L267.95,345.46 L268.20,345.48 L268.45,345.56 L268.70,345.70 L268.95,345.89 L269.20,346.10 L269.45,346.33 L269.70,346.00 L269.95,345.61 L270.20,345.21 L270.45,344.81 L270.70,344.45 L270.95,344.15 L271.20,343.93 L271.45,343.81 L271.70,343.80 L271.95,343.90 L272.20,344.10 L272.45,344.39 L272.70,344.67 L272.95,343.68 L273.20,342.53 L273.45,341.24 L273.70,339.85 L273.95,338.44 L274.20,337.07 L274.45,335.84 L274.70,334.84 L274.95,334.14 L275.20,333.79 L275.45,333.83 L275.70,334.25 L275.95,335.02 L276.20,336.07 L276.45,337.34 L276.70,338.72 L276.95,340.13 L277.20,341.51 L277.45,342.77 L277.70,343.90 L277.95,344.85 L278.20,344.28 L278.45,343.66 L278.70,343.05 L278.95,342.51 L279.20,342.07 L279.45,341.76 L279.70,341.60 L279.95,341.62 L280.20,341.81 L280.45,342.15 L280.70,342.61 L280.95,343.17 L281.20,343.78 L281.45,344.41 L281.70,345.02 L281.95,345.58 L282.20,346.07 L282.45,346.50 L282.70,346.84 L282.95,347.12 L283.20,347.25 L283.45,347.22 L283.70,347.22 L283.95,347.22 L284.20,347.25 L284.45,347.28 L284.70,347.33 L284.95,347.39 L285.20,347.45 L285.45,347.50 L285.70,347.56 L285.95,347.61 L286.20,347.65 L286.45,347.69 L286.70,347.72 L286.95,347.74 L287.20,347.76 L287.45,347.77 L287.70,347.78 L287.95,347.79 L288.20,347.79 L288.45,347.80 L288.70,347.80 L288.95,347.80 L289.20,347.80 L289.45,347.80 L289.70,347.80 L289.70,347.80 Z" fill="#9a9ae0" fill-opacity="0.8"/>
<path d="M237.20,347.80 L237.20,347.80 L237.45,347.80 L237.70,347.80 L237.95,347.80 L238.20,347.80 L238.45,347.80 L238.70,347.80 L238.95,347.80 L239.20,347.80 L239.45,347.80 L239.70,347.80 L239.95,347.80 L240.20,347.80 L240.45,347.80 L240.70,347.80 L240.95,347.80 L241.20,347.80 L241.45,347.80 L241.70,347.80 L241.95,347.80 L242.20,347.80 L242.45,347.80 L242.70,347.80 L242.95,347.80 L243.20,347.80 L243.45,347.80 L243.70,347.80 L243.95,347.80 L244.20,347.80 L244.45,347.80 L244.70,347.80 L244.95,347.80 L245.20,347.80 L245.45,347.80 L245.70,347.80 L245.95,347.80 L246.20,347.80 L246.45,347.80 L246.70,347.80 L246.95,347.80 L247.20,347.80 L247.45,347.80 L247.70,347.80 L247.95,347.80 L248.20,347.80 L248.45,347.80 L248.70,347.80 L248.95,347.80 L249.20,347.80 L249.45,347.80 L249.70,347.80 L249.95,347.80 L250.20,347.80 L250.45,347.80 L250.70,347.80 L250.95,347.80 L251.20,347.79 L251.45,347.76 L251.70,347.72 L251.95,347.62 L252.20,347.47 L252.45,347.24 L252.70,346.95 L252.95,346.65 L253.20,346.42 L253.45,346.30 L253.70,346.35 L253.95,346.55 L254.20,346.83 L254.45,347.13 L254.70,347.38 L254.95,347.57 L255.20,347.69 L255.45,347.62 L255.70,347.42 L255.95,347.10 L256.20,346.65 L256.45,346.10 L256.70,345.56 L256.95,345.15 L257.20,345.00 L257.45,345.15 L257.70,345.56 L257.95,346.10 L258.20,346.65 L258.45,347.10 L258.70,347.42 L258.95,347.42 L259.20,347.05 L259.45,346.47 L259.70,345.71 L259.95,344.85 L260.20,344.07 L260.45,343.59 L260.70,343.54 L260.95,343.94 L261.20,344.68 L261.45,345.54 L261.70,346.33 L261.95,346.95 L262.20,347.36 L262.45,347.54 L262.70,347.26 L262.95,346.80 L263.20,346.16 L263.45,345.37 L263.70,344.60 L263.95,344.02 L264.20,343.80 L264.45,344.02 L264.70,344.60 L264.95,345.37 L265.20,346.16 L265.45,346.80 L265.70,347.26 L265.95,347.54 L266.20,347.51 L266.45,347.19 L266.70,346.64 L266.95,345.85 L267.20,344.86 L267.45,343.83 L267.70,343.00 L267.95,342.61 L268.20,342.78 L268.45,343.46 L268.70,344.44 L268.95,345.47 L269.20,346.35 L269.45,347.00 L269.70,347.40 L269.95,347.01 L270.20,346.24 L270.45,345.05 L270.70,343.47 L270.95,341.69 L271.20,340.08 L271.45,339.08 L271.70,338.98 L271.95,339.82 L272.20,341.34 L272.45,343.12 L272.70,344.76 L272.95,346.04 L273.20,346.89 L273.45,346.31 L273.70,344.59 L273.95,341.63 L274.20,337.16 L274.45,331.38 L274.70,325.14 L274.95,319.82 L275.20,316.88 L275.45,317.22 L275.70,320.74 L275.95,326.37 L276.20,332.61 L276.45,338.17 L276.70,342.34 L276.95,345.03 L277.20,346.54 L277.45,347.29 L277.70,347.53 L277.95,347.14 L278.20,346.38 L278.45,345.07 L278.70,343.09 L278.95,340.54 L279.20,337.78 L279.45,335.42 L279.70,334.12 L279.95,334.27 L280.20,335.83 L280.45,338.32 L280.70,341.08 L280.95,343.54 L281.20,345.38 L281.45,346.57 L281.70,347.24 L281.95,347.57 L282.20,347.62 L282.45,347.48 L282.70,347.27 L282.95,347.01 L283.20,346.76 L283.45,346.57 L283.70,346.50 L283.95,346.57 L284.20,346.76 L284.45,347.01 L284.70,347.27 L284.95,347.48 L285.20,347.62 L285.45,347.71 L285.70,347.76 L285.95,347.79 L286.20,347.79 L286.45,347.80 L286.70,347.80 L286.95,347.80 L287.20,347.80 L287.45,347.80 L287.70,347.80 L287.95,347.80 L288.20,347.80 L288.45,347.80 L288.70,347.80 L288.95,347.80 L289.20,347.80 L289.45,347.80 L289.70,347.80 L289.70,347.80 Z" fill="#232380" stroke="#4848b0" stroke-width="0.45" stroke-opacity="0.8"/>
<rect x="236.70" y="315.50" width="53.50" height="34.50" fill="none" stroke="#505050" stroke-width="1.3"/>
<path d="M246.75,325.65 L250.05,325.65 L248.40,328.75 Z" fill="#111"/>
<path d="M250.65,325.65 L253.95,325.65 L252.30,328.75 Z" fill="#111"/>
<path d="M253.75,325.65 L257.05,325.65 L255.40,328.75 Z" fill="#111"/>
<path d="M257.45,325.65 L260.75,325.65 L259.10,328.75 Z" fill="#111"/>
<path d="M261.75,325.65 L265.05,325.65 L263.40,328.75 Z" fill="#111"/>
<path d="M265.45,325.65 L268.75,325.65 L267.10,328.75 Z" fill="#111"/>
<path d="M269.45,325.65 L272.75,325.65 L271.10,328.75 Z" fill="#111"/>
<path d="M278.35,325.65 L281.65,325.65 L280.00,328.75 Z" fill="#111"/>
<path d="M273.60,313.60 L277.00,313.60 L275.30,316.80 Z" fill="#d81f3c"/>
<rect x="349.70" y="315.50" width="53.50" height="34.50" fill="#ffffff"/>
<rect x="350.20" y="347.80" width="52.50" height="1.70" fill="#e2e2f0"/>
<line x1="350.20" y1="348.00" x2="402.70" y2="348.00" stroke="#6a6ab8" stroke-width="0.6"/>
<path d="M350.20,347.80 L350.20,347.80 L350.45,347.80 L350.70,347.80 L350.95,347.80 L351.20,347.80 L351.45,347.80 L351.70,347.80 L351.95,347.80 L352.20,347.80 L352.45,347.80 L352.70,347.80 L352.95,347.80 L353.20,347.80 L353.45,347.80 L353.70,347.80 L353.95,347.80 L354.20,347.80 L354.45,347.80 L354.70,347.80 L354.95,347.80 L355.20,347.80 L355.45,347.80 L355.70,347.80 L355.95,347.80 L356.20,347.80 L356.45,347.80 L356.70,347.80 L356.95,347.80 L357.20,347.80 L357.45,347.80 L357.70,347.80 L357.95,347.80 L358.20,347.80 L358.45,347.80 L358.70,347.80 L358.95,347.80 L359.20,347.80 L359.45,347.80 L359.70,347.80 L359.95,347.80 L360.20,347.80 L360.45,347.80 L360.70,347.79 L360.95,347.79 L361.20,347.78 L361.45,347.77 L361.70,347.75 L361.95,347.72 L362.20,347.68 L362.45,347.62 L362.70,347.54 L362.95,347.44 L363.20,347.30 L363.45,347.14 L363.70,346.94 L363.95,346.72 L364.20,346.47 L364.45,346.22 L364.70,345.97 L364.95,345.74 L365.20,345.54 L365.45,345.39 L365.70,345.30 L365.95,345.28 L366.20,345.33 L366.45,345.44 L366.70,345.61 L366.95,345.83 L367.20,346.07 L367.45,346.32 L367.70,346.57 L367.95,346.42 L368.20,346.17 L368.45,345.92 L368.70,345.70 L368.95,345.51 L369.20,345.37 L369.45,345.29 L369.70,345.29 L369.95,345.35 L370.20,345.47 L370.45,345.65 L370.70,345.87 L370.95,346.12 L371.20,346.37 L371.45,346.37 L371.70,346.00 L371.95,345.61 L372.20,345.21 L372.45,344.81 L372.70,344.45 L372.95,344.15 L373.20,343.93 L373.45,343.81 L373.70,343.80 L373.95,343.90 L374.20,344.10 L374.45,344.39 L374.70,344.74 L374.95,345.13 L375.20,345.53 L375.45,345.93 L375.70,346.16 L375.95,345.89 L376.20,345.64 L376.45,345.42 L376.70,345.25 L376.95,345.14 L377.20,345.10 L377.45,345.14 L377.70,345.25 L377.95,345.42 L378.20,345.64 L378.45,345.89 L378.70,346.16 L378.95,346.43 L379.20,346.39 L379.45,346.08 L379.70,345.76 L379.95,345.45 L380.20,345.17 L380.45,344.93 L380.70,344.76 L380.95,344.67 L381.20,344.66 L381.45,344.73 L381.70,344.89 L381.95,345.12 L382.20,345.39 L382.45,345.70 L382.70,345.80 L382.95,345.25 L383.20,344.65 L383.45,344.00 L383.70,343.35 L383.95,342.73 L384.20,342.18 L384.45,341.74 L384.70,341.45 L384.95,341.32 L385.20,341.38 L385.45,341.61 L385.70,341.99 L385.95,342.50 L386.20,343.09 L386.45,343.74 L386.70,344.39 L386.95,344.08 L387.20,343.04 L387.45,341.87 L387.70,340.62 L387.95,339.34 L388.20,338.10 L388.45,336.99 L388.70,336.09 L388.95,335.45 L389.20,335.14 L389.45,335.17 L389.70,335.55 L389.95,336.25 L390.20,337.20 L390.45,338.34 L390.70,339.59 L390.95,340.87 L391.20,342.11 L391.45,343.11 L391.70,342.18 L391.95,341.25 L392.20,340.38 L392.45,339.62 L392.70,339.03 L392.95,338.66 L393.20,338.53 L393.45,338.66 L393.70,339.03 L393.95,339.62 L394.20,340.38 L394.45,341.25 L394.70,342.18 L394.95,343.11 L395.20,343.99 L395.45,344.79 L395.70,345.49 L395.95,346.07 L396.20,346.55 L396.45,346.53 L396.70,346.36 L396.95,346.21 L397.20,346.10 L397.45,346.02 L397.70,346.00 L397.95,346.02 L398.20,346.10 L398.45,346.21 L398.70,346.36 L398.95,346.53 L399.20,346.71 L399.45,346.89 L399.70,347.06 L399.95,347.22 L400.20,347.35 L400.45,347.46 L400.70,347.56 L400.95,347.63 L401.20,347.68 L401.45,347.72 L401.70,347.75 L401.95,347.77 L402.20,347.78 L402.45,347.79 L402.70,347.79 L402.70,347.80 Z" fill="#9a9ae0" fill-opacity="0.8"/>
<path d="M350.20,347.80 L350.20,347.80 L350.45,347.80 L350.70,347.80 L350.95,347.80 L351.20,347.80 L351.45,347.80 L351.70,347.80 L351.95,347.80 L352.20,347.80 L352.45,347.80 L352.70,347.80 L352.95,347.80 L353.20,347.80 L353.45,347.80 L353.70,347.80 L353.95,347.80 L354.20,347.80 L354.45,347.80 L354.70,347.80 L354.95,347.80 L355.20,347.80 L355.45,347.80 L355.70,347.80 L355.95,347.80 L356.20,347.80 L356.45,347.80 L356.70,347.80 L356.95,347.80 L357.20,347.80 L357.45,347.80 L357.70,347.80 L357.95,347.80 L358.20,347.80 L358.45,347.80 L358.70,347.80 L358.95,347.80 L359.20,347.80 L359.45,347.80 L359.70,347.80 L359.95,347.80 L360.20,347.80 L360.45,347.80 L360.70,347.80 L360.95,347.80 L361.20,347.80 L361.45,347.80 L361.70,347.80 L361.95,347.80 L362.20,347.80 L362.45,347.80 L362.70,347.80 L362.95,347.80 L363.20,347.79 L363.45,347.77 L363.70,347.72 L363.95,347.61 L364.20,347.37 L364.45,346.94 L364.70,346.24 L364.95,345.29 L365.20,344.18 L365.45,343.12 L365.70,342.40 L365.95,342.21 L366.20,342.63 L366.45,343.52 L366.70,344.63 L366.95,345.70 L367.20,346.55 L367.45,347.14 L367.70,347.49 L367.95,347.30 L368.20,346.82 L368.45,346.07 L368.70,345.07 L368.95,343.95 L369.20,342.94 L369.45,342.31 L369.70,342.25 L369.95,342.78 L370.20,343.73 L370.45,344.85 L370.70,345.89 L370.95,346.69 L371.20,347.22 L371.45,347.53 L371.70,347.44 L371.95,347.01 L372.20,346.24 L372.45,345.05 L372.70,343.47 L372.95,341.69 L373.20,340.08 L373.45,339.08 L373.70,338.98 L373.95,339.82 L374.20,341.34 L374.45,343.12 L374.70,344.76 L374.95,346.04 L375.20,346.89 L375.45,347.38 L375.70,346.99 L375.95,346.30 L376.20,345.33 L376.45,344.16 L376.70,343.00 L376.95,342.12 L377.20,341.80 L377.45,342.12 L377.70,343.00 L377.95,344.16 L378.20,345.33 L378.45,346.30 L378.70,346.99 L378.95,347.41 L379.20,347.52 L379.45,347.18 L379.70,346.57 L379.95,345.64 L380.20,344.39 L380.45,342.99 L380.70,341.73 L380.95,340.94 L381.20,340.86 L381.45,341.52 L381.70,342.72 L381.95,344.12 L382.20,345.41 L382.45,346.41 L382.70,347.08 L382.95,347.46 L383.20,346.99 L383.45,346.10 L383.70,344.59 L383.95,342.40 L384.20,339.65 L384.45,336.80 L384.70,334.51 L384.95,333.43 L385.20,333.90 L385.45,335.77 L385.70,338.48 L385.95,341.34 L386.20,343.80 L386.45,345.58 L386.70,346.70 L386.95,347.31 L387.20,347.24 L387.45,346.45 L387.70,344.90 L387.95,342.22 L388.20,338.18 L388.45,332.96 L388.70,327.32 L388.95,322.51 L389.20,319.85 L389.45,320.16 L389.70,323.34 L389.95,328.43 L390.20,334.07 L390.45,339.10 L390.70,342.86 L390.95,345.29 L391.20,346.66 L391.45,346.45 L391.70,345.01 L391.95,342.66 L392.20,339.33 L392.45,335.31 L392.70,331.30 L392.95,328.31 L393.20,327.20 L393.45,328.31 L393.70,331.30 L393.95,335.31 L394.20,339.33 L394.45,342.66 L394.70,345.01 L394.95,346.45 L395.20,347.21 L395.45,347.57 L395.70,347.69 L395.95,347.54 L396.20,347.26 L396.45,346.80 L396.70,346.16 L396.95,345.37 L397.20,344.60 L397.45,344.02 L397.70,343.80 L397.95,344.02 L398.20,344.60 L398.45,345.37 L398.70,346.16 L398.95,346.80 L399.20,347.26 L399.45,347.54 L399.70,347.69 L399.95,347.76 L400.20,347.78 L400.45,347.80 L400.70,347.80 L400.95,347.80 L401.20,347.80 L401.45,347.80 L401.70,347.80 L401.95,347.80 L402.20,347.80 L402.45,347.80 L402.70,347.80 L402.70,347.80 Z" fill="#232380" stroke="#4848b0" stroke-width="0.45" stroke-opacity="0.8"/>
<rect x="349.70" y="315.50" width="53.50" height="34.50" fill="none" stroke="#505050" stroke-width="1.3"/>
<path d="M360.55,325.65 L363.85,325.65 L362.20,328.75 Z" fill="#111"/>
<path d="M364.55,325.65 L367.85,325.65 L366.20,328.75 Z" fill="#111"/>
<path d="M367.95,325.65 L371.25,325.65 L369.60,328.75 Z" fill="#111"/>
<path d="M371.65,325.65 L374.95,325.65 L373.30,328.75 Z" fill="#111"/>
<path d="M375.55,325.65 L378.85,325.65 L377.20,328.75 Z" fill="#111"/>
<path d="M379.45,325.65 L382.75,325.65 L381.10,328.75 Z" fill="#111"/>
<path d="M383.35,325.65 L386.65,325.65 L385.00,328.75 Z" fill="#111"/>
<path d="M391.75,325.65 L395.05,325.65 L393.40,328.75 Z" fill="#111"/>
<path d="M387.60,313.60 L391.00,313.60 L389.30,316.80 Z" fill="#d81f3c"/>
<rect x="408.30" y="315.50" width="53.30" height="34.50" fill="#ffffff"/>
<rect x="408.80" y="347.80" width="52.30" height="1.70" fill="#e2e2f0"/>
<line x1="408.80" y1="348.00" x2="461.10" y2="348.00" stroke="#6a6ab8" stroke-width="0.6"/>
<path d="M408.80,347.80 L408.80,347.80 L409.05,347.80 L409.30,347.80 L409.55,347.80 L409.80,347.80 L410.05,347.80 L410.30,347.80 L410.55,347.80 L410.80,347.80 L411.05,347.80 L411.30,347.80 L411.55,347.80 L411.80,347.80 L412.05,347.80 L412.30,347.80 L412.55,347.80 L412.80,347.80 L413.05,347.80 L413.30,347.80 L413.55,347.80 L413.80,347.80 L414.05,347.80 L414.30,347.80 L414.55,347.80 L414.80,347.80 L415.05,347.80 L415.30,347.80 L415.55,347.80 L415.80,347.80 L416.05,347.80 L416.30,347.80 L416.55,347.80 L416.80,347.80 L417.05,347.80 L417.30,347.80 L417.55,347.80 L417.80,347.80 L418.05,347.80 L418.30,347.80 L418.55,347.80 L418.80,347.80 L419.05,347.80 L419.30,347.80 L419.55,347.80 L419.80,347.80 L420.05,347.80 L420.30,347.80 L420.55,347.80 L420.80,347.80 L421.05,347.80 L421.30,347.80 L421.55,347.80 L421.80,347.80 L422.05,347.80 L422.30,347.80 L422.55,347.80 L422.80,347.80 L423.05,347.80 L423.30,347.79 L423.55,347.79 L423.80,347.78 L424.05,347.77 L424.30,347.75 L424.55,347.73 L424.80,347.70 L425.05,347.66 L425.30,347.61 L425.55,347.55 L425.80,347.48 L426.05,347.39 L426.30,347.30 L426.55,347.21 L426.80,347.11 L427.05,347.03 L427.30,346.95 L427.55,346.90 L427.80,346.86 L428.05,346.86 L428.30,346.87 L428.55,346.92 L428.80,346.98 L429.05,347.06 L429.30,347.15 L429.55,347.25 L429.80,347.34 L430.05,347.26 L430.30,347.14 L430.55,347.01 L430.80,346.89 L431.05,346.77 L431.30,346.67 L431.55,346.60 L431.80,346.55 L432.05,346.54 L432.30,346.56 L432.55,346.62 L432.80,346.71 L433.05,346.81 L433.30,346.93 L433.55,347.06 L433.80,347.19 L434.05,347.30 L434.30,347.37 L434.55,347.29 L434.80,347.21 L435.05,347.14 L435.30,347.07 L435.55,347.03 L435.80,347.00 L436.05,346.99 L436.30,347.01 L436.55,347.04 L436.80,347.10 L437.05,347.14 L437.30,346.92 L437.55,346.67 L437.80,346.39 L438.05,346.08 L438.30,345.76 L438.55,345.45 L438.80,345.17 L439.05,344.93 L439.30,344.76 L439.55,344.67 L439.80,344.66 L440.05,344.73 L440.30,344.89 L440.55,345.12 L440.80,345.39 L441.05,345.70 L441.30,346.02 L441.55,346.33 L441.80,346.14 L442.05,345.79 L442.30,345.45 L442.55,345.12 L442.80,344.83 L443.05,344.60 L443.30,344.45 L443.55,344.38 L443.80,344.41 L444.05,344.53 L444.30,344.73 L444.55,345.00 L444.80,345.32 L445.05,345.66 L445.30,345.40 L445.55,344.60 L445.80,343.66 L446.05,342.58 L446.30,341.41 L446.55,340.19 L446.80,338.98 L447.05,337.86 L447.30,336.90 L447.55,336.18 L447.80,335.76 L448.05,335.66 L448.30,335.89 L448.55,336.44 L448.80,337.26 L449.05,338.29 L449.30,339.45 L449.55,340.68 L449.80,341.89 L450.05,343.02 L450.30,344.05 L450.55,343.50 L450.80,342.71 L451.05,341.93 L451.30,341.22 L451.55,340.63 L451.80,340.20 L452.05,339.96 L452.30,339.94 L452.55,340.14 L452.80,340.53 L453.05,341.09 L453.30,341.78 L453.55,342.55 L453.80,343.34 L454.05,344.12 L454.30,344.84 L454.55,345.49 L454.80,346.05 L455.05,346.50 L455.30,346.87 L455.55,347.03 L455.80,346.94 L456.05,346.86 L456.30,346.80 L456.55,346.77 L456.80,346.77 L457.05,346.79 L457.30,346.84 L457.55,346.92 L457.80,347.01 L458.05,347.11 L458.30,347.21 L458.55,347.32 L458.80,347.41 L459.05,347.50 L459.30,347.57 L459.55,347.63 L459.80,347.68 L460.05,347.71 L460.30,347.74 L460.55,347.76 L460.80,347.78 L461.05,347.78 L461.10,347.80 Z" fill="#9a9ae0" fill-opacity="0.8"/>
<path d="M408.80,347.80 L408.80,347.80 L409.05,347.80 L409.30,347.80 L409.55,347.80 L409.80,347.80 L410.05,347.80 L410.30,347.80 L410.55,347.80 L410.80,347.80 L411.05,347.80 L411.30,347.80 L411.55,347.80 L411.80,347.80 L412.05,347.80 L412.30,347.80 L412.55,347.80 L412.80,347.80 L413.05,347.80 L413.30,347.80 L413.55,347.80 L413.80,347.80 L414.05,347.80 L414.30,347.80 L414.55,347.80 L414.80,347.80 L415.05,347.80 L415.30,347.80 L415.55,347.80 L415.80,347.80 L416.05,347.80 L416.30,347.80 L416.55,347.80 L416.80,347.80 L417.05,347.80 L417.30,347.80 L417.55,347.80 L417.80,347.80 L418.05,347.80 L418.30,347.80 L418.55,347.80 L418.80,347.80 L419.05,347.80 L419.30,347.80 L419.55,347.80 L419.80,347.80 L420.05,347.80 L420.30,347.80 L420.55,347.80 L420.80,347.80 L421.05,347.80 L421.30,347.80 L421.55,347.80 L421.80,347.80 L422.05,347.80 L422.30,347.80 L422.55,347.80 L422.80,347.80 L423.05,347.80 L423.30,347.80 L423.55,347.80 L423.80,347.80 L424.05,347.80 L424.30,347.80 L424.55,347.80 L424.80,347.80 L425.05,347.80 L425.30,347.80 L425.55,347.79 L425.80,347.77 L426.05,347.73 L426.30,347.64 L426.55,347.48 L426.80,347.22 L427.05,346.86 L427.30,346.44 L427.55,346.05 L427.80,345.77 L428.05,345.70 L428.30,345.86 L428.55,346.20 L428.80,346.61 L429.05,347.01 L429.30,347.33 L429.55,347.55 L429.80,347.68 L430.05,347.70 L430.30,347.59 L430.55,347.37 L430.80,347.02 L431.05,346.54 L431.30,345.99 L431.55,345.46 L431.80,345.10 L432.05,345.01 L432.30,345.22 L432.55,345.66 L432.80,346.21 L433.05,346.75 L433.30,347.18 L433.55,347.47 L433.80,347.64 L434.05,347.73 L434.30,347.66 L434.55,347.52 L434.80,347.30 L435.05,346.99 L435.30,346.64 L435.55,346.30 L435.80,346.06 L436.05,346.00 L436.30,346.14 L436.55,346.42 L436.80,346.78 L437.05,347.12 L437.30,347.40 L437.55,347.59 L437.80,347.52 L438.05,347.18 L438.30,346.57 L438.55,345.64 L438.80,344.39 L439.05,342.99 L439.30,341.73 L439.55,340.94 L439.80,340.86 L440.05,341.52 L440.30,342.72 L440.55,344.12 L440.80,345.41 L441.05,346.41 L441.30,347.08 L441.55,347.47 L441.80,347.37 L442.05,346.90 L442.30,346.11 L442.55,344.95 L442.80,343.50 L443.05,341.99 L443.30,340.78 L443.55,340.22 L443.80,340.47 L444.05,341.45 L444.30,342.88 L444.55,344.39 L444.80,345.69 L445.05,346.63 L445.30,347.22 L445.55,347.54 L445.80,347.43 L446.05,346.88 L446.30,345.73 L446.55,343.63 L446.80,340.29 L447.05,335.70 L447.30,330.33 L447.55,325.25 L447.80,321.74 L448.05,320.86 L448.30,322.88 L448.55,327.17 L448.80,332.51 L449.05,337.67 L449.30,341.79 L449.55,344.61 L449.80,346.28 L450.05,347.16 L450.30,347.09 L450.55,346.24 L450.80,344.74 L451.05,342.40 L451.30,339.28 L451.55,335.78 L451.80,332.62 L452.05,330.65 L452.30,330.45 L452.55,332.11 L452.80,335.09 L453.05,338.59 L453.30,341.83 L453.55,344.34 L453.80,346.00 L454.05,346.96 L454.30,347.45 L454.55,347.67 L454.80,347.71 L455.05,347.60 L455.30,347.40 L455.55,347.09 L455.80,346.68 L456.05,346.22 L456.30,345.80 L456.55,345.55 L456.80,345.52 L457.05,345.74 L457.30,346.13 L457.55,346.59 L457.80,347.02 L458.05,347.34 L458.30,347.56 L458.55,347.69 L458.80,347.75 L459.05,347.78 L459.30,347.79 L459.55,347.80 L459.80,347.80 L460.05,347.80 L460.30,347.80 L460.55,347.80 L460.80,347.80 L461.05,347.80 L461.10,347.80 Z" fill="#232380" stroke="#4848b0" stroke-width="0.45" stroke-opacity="0.8"/>
<rect x="408.30" y="315.50" width="53.30" height="34.50" fill="none" stroke="#505050" stroke-width="1.3"/>
<path d="M418.75,325.65 L422.05,325.65 L420.40,328.75 Z" fill="#111"/>
<path d="M422.65,325.65 L425.95,325.65 L424.30,328.75 Z" fill="#111"/>
<path d="M426.35,325.65 L429.65,325.65 L428.00,328.75 Z" fill="#111"/>
<path d="M430.05,325.65 L433.35,325.65 L431.70,328.75 Z" fill="#111"/>
<path d="M434.15,325.65 L437.45,325.65 L435.80,328.75 Z" fill="#111"/>
<path d="M438.05,325.65 L441.35,325.65 L439.70,328.75 Z" fill="#111"/>
<path d="M441.95,325.65 L445.25,325.65 L443.60,328.75 Z" fill="#111"/>
<path d="M450.15,325.65 L453.45,325.65 L451.80,328.75 Z" fill="#111"/>
<path d="M446.30,313.60 L449.70,313.60 L448.00,316.80 Z" fill="#d81f3c"/>
<rect x="465.20" y="315.50" width="53.90" height="34.30" fill="#ffffff"/>
<path d="M465.70,347.00 L465.70,347.00 L465.95,347.00 L466.20,347.00 L466.45,347.00 L466.70,347.00 L466.95,347.00 L467.20,347.00 L467.45,347.00 L467.70,347.00 L467.95,347.00 L468.20,347.00 L468.45,347.00 L468.70,347.00 L468.95,347.00 L469.20,347.00 L469.45,347.00 L469.70,347.00 L469.95,347.00 L470.20,347.00 L470.45,347.00 L470.70,347.00 L470.95,347.00 L471.20,347.00 L471.45,347.00 L471.70,347.00 L471.95,347.00 L472.20,347.00 L472.45,347.00 L472.70,347.00 L472.95,347.00 L473.20,347.00 L473.45,347.00 L473.70,347.00 L473.95,347.00 L474.20,347.00 L474.45,347.00 L474.70,347.00 L474.95,347.00 L475.20,347.00 L475.45,347.00 L475.70,347.00 L475.95,347.00 L476.20,347.00 L476.45,347.00 L476.70,347.00 L476.95,347.00 L477.20,347.00 L477.45,347.00 L477.70,347.00 L477.95,347.00 L478.20,347.00 L478.45,347.00 L478.70,347.00 L478.95,347.00 L479.20,347.00 L479.45,347.00 L479.70,347.00 L479.95,347.00 L480.20,347.00 L480.45,347.00 L480.70,347.00 L480.95,347.00 L481.20,347.00 L481.45,347.00 L481.70,347.00 L481.95,347.00 L482.20,347.00 L482.45,347.00 L482.70,347.00 L482.95,347.00 L483.20,347.00 L483.45,347.00 L483.70,347.00 L483.95,347.00 L484.20,347.00 L484.45,347.00 L484.70,347.00 L484.95,347.00 L485.20,347.00 L485.45,347.00 L485.70,347.00 L485.95,347.00 L486.20,347.00 L486.45,347.00 L486.70,347.00 L486.95,347.00 L487.20,347.00 L487.45,347.00 L487.70,347.00 L487.95,347.00 L488.20,347.00 L488.45,347.00 L488.70,347.00 L488.95,347.00 L489.20,347.00 L489.45,347.00 L489.70,347.00 L489.95,347.00 L490.20,347.00 L490.45,347.00 L490.70,347.00 L490.95,347.00 L491.20,347.00 L491.45,347.00 L491.70,347.00 L491.95,347.00 L492.20,347.00 L492.45,347.00 L492.70,347.00 L492.95,347.00 L493.20,347.00 L493.45,347.00 L493.70,347.00 L493.95,347.00 L494.20,347.00 L494.45,347.00 L494.70,347.00 L494.95,347.00 L495.20,347.00 L495.45,347.00 L495.70,347.00 L495.95,347.00 L496.20,347.00 L496.45,347.00 L496.70,347.00 L496.95,347.00 L497.20,347.00 L497.45,347.00 L497.70,346.99 L497.95,346.99 L498.20,346.98 L498.45,346.96 L498.70,346.94 L498.95,346.89 L499.20,346.83 L499.45,346.72 L499.70,346.56 L499.95,346.34 L500.20,346.02 L500.45,345.59 L500.70,345.02 L500.95,344.31 L501.20,343.43 L501.45,342.41 L501.70,341.25 L501.95,340.00 L502.20,338.70 L502.45,337.44 L502.70,336.29 L502.95,335.32 L503.20,334.62 L503.45,334.24 L503.70,334.20 L503.95,334.52 L504.20,335.16 L504.45,336.08 L504.70,337.20 L504.95,338.45 L505.20,339.74 L505.45,341.01 L505.70,342.19 L505.95,343.24 L506.20,343.16 L506.45,342.43 L506.70,341.71 L506.95,341.03 L507.20,340.46 L507.45,340.03 L507.70,339.77 L507.95,339.71 L508.20,339.85 L508.45,340.18 L508.70,340.68 L508.95,341.29 L509.20,341.99 L509.45,342.73 L509.70,343.45 L509.95,344.13 L510.20,344.75 L510.45,345.28 L510.70,345.72 L510.95,346.08 L511.20,346.35 L511.45,346.56 L511.70,346.71 L511.95,346.81 L512.20,346.88 L512.45,346.93 L512.70,346.96 L512.95,346.97 L513.20,346.99 L513.45,346.99 L513.70,347.00 L513.95,347.00 L514.20,347.00 L514.45,347.00 L514.70,347.00 L514.95,347.00 L515.20,347.00 L515.45,347.00 L515.70,347.00 L515.95,347.00 L516.20,347.00 L516.45,347.00 L516.70,347.00 L516.95,347.00 L517.20,347.00 L517.45,347.00 L517.70,347.00 L517.95,347.00 L518.20,347.00 L518.45,347.00 L518.60,347.00 Z" fill="#9a9ae0" fill-opacity="0.8"/>
<path d="M465.70,347.00 L465.70,347.00 L465.95,347.00 L466.20,347.00 L466.45,347.00 L466.70,347.00 L466.95,347.00 L467.20,347.00 L467.45,347.00 L467.70,347.00 L467.95,347.00 L468.20,347.00 L468.45,347.00 L468.70,347.00 L468.95,347.00 L469.20,347.00 L469.45,347.00 L469.70,347.00 L469.95,347.00 L470.20,347.00 L470.45,347.00 L470.70,347.00 L470.95,347.00 L471.20,347.00 L471.45,347.00 L471.70,347.00 L471.95,347.00 L472.20,347.00 L472.45,347.00 L472.70,347.00 L472.95,347.00 L473.20,347.00 L473.45,347.00 L473.70,347.00 L473.95,347.00 L474.20,347.00 L474.45,347.00 L474.70,347.00 L474.95,347.00 L475.20,347.00 L475.45,347.00 L475.70,347.00 L475.95,347.00 L476.20,347.00 L476.45,347.00 L476.70,347.00 L476.95,347.00 L477.20,347.00 L477.45,347.00 L477.70,347.00 L477.95,347.00 L478.20,347.00 L478.45,347.00 L478.70,347.00 L478.95,347.00 L479.20,347.00 L479.45,347.00 L479.70,347.00 L479.95,347.00 L480.20,347.00 L480.45,347.00 L480.70,347.00 L480.95,347.00 L481.20,347.00 L481.45,347.00 L481.70,347.00 L481.95,347.00 L482.20,347.00 L482.45,347.00 L482.70,347.00 L482.95,347.00 L483.20,347.00 L483.45,347.00 L483.70,347.00 L483.95,347.00 L484.20,347.00 L484.45,347.00 L484.70,347.00 L484.95,347.00 L485.20,347.00 L485.45,347.00 L485.70,347.00 L485.95,347.00 L486.20,347.00 L486.45,347.00 L486.70,347.00 L486.95,347.00 L487.20,347.00 L487.45,347.00 L487.70,347.00 L487.95,347.00 L488.20,347.00 L488.45,347.00 L488.70,347.00 L488.95,347.00 L489.20,347.00 L489.45,347.00 L489.70,347.00 L489.95,347.00 L490.20,347.00 L490.45,347.00 L490.70,347.00 L490.95,347.00 L491.20,347.00 L491.45,347.00 L491.70,347.00 L491.95,347.00 L492.20,347.00 L492.45,347.00 L492.70,347.00 L492.95,347.00 L493.20,347.00 L493.45,347.00 L493.70,347.00 L493.95,347.00 L494.20,347.00 L494.45,347.00 L494.70,347.00 L494.95,347.00 L495.20,347.00 L495.45,347.00 L495.70,347.00 L495.95,347.00 L496.20,347.00 L496.45,347.00 L496.70,347.00 L496.95,347.00 L497.20,347.00 L497.45,347.00 L497.70,347.00 L497.95,347.00 L498.20,347.00 L498.45,347.00 L498.70,347.00 L498.95,347.00 L499.20,347.00 L499.45,347.00 L499.70,347.00 L499.95,347.00 L500.20,347.00 L500.45,347.00 L500.70,346.98 L500.95,346.94 L501.20,346.83 L501.45,346.53 L501.70,345.85 L501.95,344.47 L502.20,342.01 L502.45,338.20 L502.70,333.13 L502.95,327.42 L503.20,322.28 L503.45,319.06 L503.70,318.75 L503.95,321.44 L504.20,326.30 L504.45,332.01 L504.70,337.28 L504.95,341.36 L505.20,344.07 L505.45,345.64 L505.70,346.43 L505.95,346.45 L506.20,345.76 L506.45,344.50 L506.70,342.50 L506.95,339.74 L507.20,336.52 L507.45,333.47 L507.70,331.37 L507.95,330.84 L508.20,332.05 L508.45,334.62 L508.70,337.83 L508.95,340.92 L509.20,343.39 L509.45,345.09 L509.70,346.09 L509.95,346.61 L510.20,346.85 L510.45,346.95 L510.70,346.98 L510.95,347.00 L511.20,347.00 L511.45,347.00 L511.70,347.00 L511.95,347.00 L512.20,347.00 L512.45,347.00 L512.70,347.00 L512.95,347.00 L513.20,347.00 L513.45,347.00 L513.70,347.00 L513.95,347.00 L514.20,347.00 L514.45,347.00 L514.70,347.00 L514.95,347.00 L515.20,347.00 L515.45,347.00 L515.70,347.00 L515.95,347.00 L516.20,347.00 L516.45,347.00 L516.70,347.00 L516.95,347.00 L517.20,347.00 L517.45,347.00 L517.70,347.00 L517.95,347.00 L518.20,347.00 L518.45,347.00 L518.60,347.00 Z" fill="#232380" stroke="#4848b0" stroke-width="0.45" stroke-opacity="0.8"/>
<polyline points="466.20,347.00 466.50,347.00 466.80,347.00 467.10,347.00 467.40,347.00 467.70,346.99 468.00,346.98 468.30,346.96 468.60,346.90 468.90,346.80 469.20,346.63 469.50,346.40 469.80,346.15 470.10,345.93 470.40,345.81 470.70,345.83 471.00,345.99 471.30,346.23 471.60,346.48 471.90,346.69 472.20,346.84 472.50,346.92 472.80,346.97 473.10,346.99 473.40,346.99 473.70,346.98 474.00,346.95 474.30,346.87 474.60,346.70 474.90,346.41 475.20,345.97 475.50,345.40 475.80,344.82 476.10,344.37 476.40,344.20 476.70,344.37 477.00,344.81 477.30,345.37 477.60,345.88 477.90,346.19 478.20,346.18 478.50,345.78 478.80,344.96 479.10,343.78 479.40,342.44 479.70,341.27 480.00,340.64 480.30,340.77 480.60,341.61 480.90,342.88 481.20,344.20 481.50,345.27 481.80,345.93 482.10,346.13 482.40,345.91 482.70,345.32 483.00,344.47 483.30,343.56 483.60,342.86 483.90,342.60 484.20,342.87 484.50,343.57 484.80,344.48 485.10,345.36 485.40,346.02 485.70,346.41 486.00,346.52 486.30,346.40 486.60,346.11 486.90,345.71 487.20,345.32 487.50,345.05 487.80,345.01 488.10,345.21 488.40,345.57 488.70,345.98 489.00,346.33 489.30,346.55 489.60,346.58 489.90,346.42 490.20,346.09 490.50,345.62 490.80,345.13 491.10,344.74 491.40,344.60 491.70,344.74 492.00,345.13 492.30,345.63 492.60,346.10 492.90,346.46 493.20,346.66 493.50,346.70 493.80,346.59 494.10,346.38 494.40,346.10 494.70,345.82 495.00,345.64 495.30,345.61 495.60,345.75 495.90,346.00 496.20,346.30 496.50,346.55 496.80,346.73 497.10,346.78 497.40,346.69 497.70,346.40 498.00,345.83 498.30,344.97 498.60,343.86 498.90,342.71 499.20,341.83 499.50,341.50 499.80,341.83 500.10,342.71 500.40,343.86 500.70,344.97 501.00,345.84 501.30,346.42 501.60,346.74 501.90,346.90 502.20,346.96 502.50,346.99 502.80,347.00 503.10,347.00 503.40,347.00 503.70,347.00 504.00,347.00 504.30,347.00 504.60,347.00 504.90,347.00 505.20,347.00 505.50,347.00 505.80,347.00 506.10,347.00 506.40,347.00 506.70,347.00 507.00,347.00 507.30,347.00 507.60,347.00 507.90,347.00 508.20,347.00 508.50,347.00 508.80,347.00 509.10,346.99 509.40,346.96 509.70,346.90 510.00,346.77 510.30,346.52 510.60,346.13 510.90,345.60 511.20,345.01 511.50,344.49 511.80,344.22 512.10,344.28 512.40,344.64 512.70,345.20 513.00,345.79 513.30,346.28 513.60,346.62 513.90,346.82 514.20,346.91 514.50,346.92 514.80,346.88 515.10,346.76 515.40,346.56 515.70,346.30 516.00,346.00 516.30,345.75 516.60,345.61 516.90,345.64 517.20,345.82 517.50,346.10 517.80,346.39" fill="none" stroke="#2c2c88" stroke-width="0.85"/>
<rect x="465.20" y="315.50" width="53.90" height="34.30" fill="none" stroke="#505050" stroke-width="1.3"/>
<path d="M475.05,325.45 L478.35,325.45 L476.70,328.55 Z" fill="#111"/>
<path d="M478.85,325.45 L482.15,325.45 L480.50,328.55 Z" fill="#111"/>
<path d="M482.05,325.45 L485.35,325.45 L483.70,328.55 Z" fill="#111"/>
<path d="M485.45,325.45 L488.75,325.45 L487.10,328.55 Z" fill="#111"/>
<path d="M489.55,325.45 L492.85,325.45 L491.20,328.55 Z" fill="#111"/>
<path d="M493.15,325.45 L496.45,325.45 L494.80,328.55 Z" fill="#111"/>
<path d="M497.35,325.45 L500.65,325.45 L499.00,328.55 Z" fill="#111"/>
<path d="M505.65,325.45 L508.95,325.45 L507.30,328.55 Z" fill="#111"/>
<path d="M501.90,313.40 L505.30,313.40 L503.60,316.60 Z" fill="#d81f3c"/>
<text x="230.00" y="387.60" font-size="7.6" stroke="#1e1e1e" stroke-width="0.12" text-anchor="end" textLength="25.10" lengthAdjust="spacingAndGlyphs">RS1050</text>
<line x1="296.00" y1="384.30" x2="303.80" y2="384.30" stroke="#555" stroke-width="0.9"/>
<path d="M306.00,384.30 L303.00,382.80 L303.00,385.80 Z" fill="#555"/>
<line x1="334.40" y1="384.30" x2="340.80" y2="384.30" stroke="#555" stroke-width="0.9"/>
<path d="M343.00,384.30 L340.00,382.80 L340.00,385.80 Z" fill="#555"/>
<g transform="translate(0,158.10)" fill="none" stroke="#2a2a2a" stroke-linecap="round" stroke-linejoin="round">
<path d="M308.40,218.80 C308.88,218.72 310.38,218.73 311.30,218.30 C312.22,217.87 313.03,216.72 313.90,216.20 C314.77,215.68 315.63,215.33 316.50,215.20 C317.37,215.07 318.32,215.10 319.10,215.40 C319.88,215.70 320.67,216.60 321.20,217.00 C321.73,217.40 322.12,217.67 322.30,217.80 " stroke-width="1.1"/>
<path d="M308.4,218.9 L310.6,218.7" stroke-width="1.5"/>
<path d="M321.80,217.30 C322.85,217.47 324.95,218.20 326.00,218.80 C327.05,219.40 327.58,220.02 328.10,220.90 C328.62,221.78 329.02,223.05 329.10,224.10 C329.18,225.15 328.95,226.23 328.60,227.20 C328.25,228.17 327.62,229.02 327.00,229.90 C326.38,230.78 325.60,231.80 324.90,232.50 C324.20,233.20 323.42,233.80 322.80,234.10 C322.18,234.40 321.82,234.40 321.20,234.30 C320.58,234.20 319.70,233.88 319.10,233.50 C318.50,233.12 318.20,232.70 317.60,232.00 C317.00,231.30 316.03,230.18 315.50,229.30 C314.97,228.42 314.53,227.57 314.40,226.70 C314.27,225.83 314.48,224.97 314.70,224.10 C314.92,223.23 315.22,222.28 315.70,221.50 C316.18,220.72 316.93,220.02 317.60,219.40 C318.27,218.78 319.00,218.15 319.70,217.80 C320.40,217.45 320.75,217.13 321.80,217.30 Z" stroke-width="1.0" fill="#fff"/>
<path d="M314.9,224.6 C315.9,222.3 319.1,222.0 320.7,225.2" stroke-width="1.15"/>
<path d="M323.5,225.2 C325.1,222.0 328.1,222.3 329.0,224.6" stroke-width="1.15"/>
<path d="M317.8,233.6 L316.8,234.8 M325.2,233.2 L326.4,234.2" stroke-width="0.5" stroke="#777"/>
</g>
<g transform="translate(0,158.10)"><circle cx="320.4" cy="230.4" r="0.65" fill="#2a2a2a"/><circle cx="324.1" cy="230.4" r="0.65" fill="#2a2a2a"/></g>
<rect x="235.40" y="367.30" width="54.80" height="34.00" fill="#ffffff"/>
<path d="M235.90,400.50 L235.90,400.50 L236.15,400.50 L236.40,400.50 L236.65,400.50 L236.90,400.50 L237.15,400.50 L237.40,400.50 L237.65,400.50 L237.90,400.50 L238.15,400.50 L238.40,400.50 L238.65,400.50 L238.90,400.50 L239.15,400.50 L239.40,400.50 L239.65,400.50 L239.90,400.50 L240.15,400.50 L240.40,400.50 L240.65,400.50 L240.90,400.50 L241.15,400.50 L241.40,400.50 L241.65,400.50 L241.90,400.50 L242.15,400.50 L242.40,400.50 L242.65,400.50 L242.90,400.50 L243.15,400.50 L243.40,400.50 L243.65,400.50 L243.90,400.50 L244.15,400.50 L244.40,400.50 L244.65,400.50 L244.90,400.50 L245.15,400.50 L245.40,400.50 L245.65,400.50 L245.90,400.50 L246.15,400.50 L246.40,400.50 L246.65,400.50 L246.90,400.50 L247.15,400.50 L247.40,400.50 L247.65,400.50 L247.90,400.50 L248.15,400.50 L248.40,400.50 L248.65,400.50 L248.90,400.50 L249.15,400.50 L249.40,400.50 L249.65,400.50 L249.90,400.50 L250.15,400.50 L250.40,400.50 L250.65,400.50 L250.90,400.50 L251.15,400.50 L251.40,400.50 L251.65,400.50 L251.90,400.50 L252.15,400.50 L252.40,400.50 L252.65,400.50 L252.90,400.50 L253.15,400.49 L253.40,400.49 L253.65,400.49 L253.90,400.48 L254.15,400.47 L254.40,400.46 L254.65,400.45 L254.90,400.43 L255.15,400.41 L255.40,400.39 L255.65,400.37 L255.90,400.35 L256.15,400.32 L256.40,400.30 L256.65,400.29 L256.90,400.28 L257.15,400.28 L257.40,400.28 L257.65,400.28 L257.90,400.30 L258.15,400.32 L258.40,400.34 L258.65,400.35 L258.90,400.31 L259.15,400.27 L259.40,400.23 L259.65,400.18 L259.90,400.14 L260.15,400.10 L260.40,400.07 L260.65,400.06 L260.90,400.05 L261.15,400.06 L261.40,400.07 L261.65,400.10 L261.90,400.14 L262.15,400.18 L262.40,400.22 L262.65,400.15 L262.90,400.07 L263.15,399.99 L263.40,399.91 L263.65,399.84 L263.90,399.77 L264.15,399.73 L264.40,399.70 L264.65,399.69 L264.90,399.71 L265.15,399.74 L265.40,399.80 L265.65,399.87 L265.90,399.84 L266.15,399.68 L266.40,399.51 L266.65,399.33 L266.90,399.16 L267.15,399.01 L267.40,398.88 L267.65,398.79 L267.90,398.75 L268.15,398.75 L268.40,398.81 L268.65,398.90 L268.90,398.91 L269.15,398.29 L269.40,397.50 L269.65,396.56 L269.90,395.45 L270.15,394.21 L270.40,392.88 L270.65,391.53 L270.90,390.22 L271.15,389.04 L271.40,388.08 L271.65,387.41 L271.90,387.07 L272.15,387.11 L272.40,387.51 L272.65,388.25 L272.90,389.26 L273.15,390.47 L273.40,391.80 L273.65,393.15 L273.90,394.47 L274.15,395.68 L274.40,396.76 L274.65,397.10 L274.90,396.64 L275.15,396.25 L275.40,395.95 L275.65,395.75 L275.90,395.69 L276.15,395.75 L276.40,395.95 L276.65,396.25 L276.90,396.64 L277.15,397.10 L277.40,397.58 L277.65,398.06 L277.90,398.52 L278.15,398.94 L278.40,399.30 L278.65,399.60 L278.90,399.85 L279.15,400.04 L279.40,400.18 L279.65,400.29 L279.90,400.36 L280.15,400.41 L280.40,400.45 L280.65,400.47 L280.90,400.48 L281.15,400.49 L281.40,400.49 L281.65,400.50 L281.90,400.50 L282.15,400.50 L282.40,400.50 L282.65,400.50 L282.90,400.50 L283.15,400.50 L283.40,400.50 L283.65,400.50 L283.90,400.50 L284.15,400.50 L284.40,400.50 L284.65,400.50 L284.90,400.50 L285.15,400.50 L285.40,400.50 L285.65,400.50 L285.90,400.50 L286.15,400.50 L286.40,400.50 L286.65,400.50 L286.90,400.50 L287.15,400.50 L287.40,400.50 L287.65,400.50 L287.90,400.50 L288.15,400.50 L288.40,400.50 L288.65,400.50 L288.90,400.50 L289.15,400.50 L289.40,400.50 L289.65,400.50 L289.70,400.50 Z" fill="#9a9ae0" fill-opacity="0.8"/>
<path d="M235.90,400.50 L235.90,400.50 L236.15,400.50 L236.40,400.50 L236.65,400.50 L236.90,400.50 L237.15,400.50 L237.40,400.50 L237.65,400.50 L237.90,400.50 L238.15,400.50 L238.40,400.50 L238.65,400.50 L238.90,400.50 L239.15,400.50 L239.40,400.50 L239.65,400.50 L239.90,400.50 L240.15,400.50 L240.40,400.50 L240.65,400.50 L240.90,400.50 L241.15,400.50 L241.40,400.50 L241.65,400.50 L241.90,400.50 L242.15,400.50 L242.40,400.50 L242.65,400.50 L242.90,400.50 L243.15,400.50 L243.40,400.50 L243.65,400.50 L243.90,400.50 L244.15,400.50 L244.40,400.50 L244.65,400.50 L244.90,400.50 L245.15,400.50 L245.40,400.50 L245.65,400.50 L245.90,400.50 L246.15,400.50 L246.40,400.50 L246.65,400.50 L246.90,400.50 L247.15,400.50 L247.40,400.50 L247.65,400.50 L247.90,400.50 L248.15,400.50 L248.40,400.50 L248.65,400.50 L248.90,400.50 L249.15,400.50 L249.40,400.50 L249.65,400.50 L249.90,400.50 L250.15,400.50 L250.40,400.50 L250.65,400.50 L250.90,400.50 L251.15,400.50 L251.40,400.50 L251.65,400.50 L251.90,400.50 L252.15,400.50 L252.40,400.50 L252.65,400.50 L252.90,400.50 L253.15,400.50 L253.40,400.50 L253.65,400.50 L253.90,400.50 L254.15,400.50 L254.40,400.50 L254.65,400.50 L254.90,400.50 L255.15,400.49 L255.40,400.47 L255.65,400.44 L255.90,400.39 L256.15,400.31 L256.40,400.22 L256.65,400.12 L256.90,400.04 L257.15,400.00 L257.40,400.02 L257.65,400.08 L257.90,400.18 L258.15,400.28 L258.40,400.36 L258.65,400.42 L258.90,400.46 L259.15,400.43 L259.40,400.36 L259.65,400.25 L259.90,400.09 L260.15,399.89 L260.40,399.70 L260.65,399.55 L260.90,399.50 L261.15,399.55 L261.40,399.70 L261.65,399.89 L261.90,400.09 L262.15,400.25 L262.40,400.36 L262.65,400.43 L262.90,400.36 L263.15,400.22 L263.40,400.00 L263.65,399.69 L263.90,399.34 L264.15,399.00 L264.40,398.76 L264.65,398.70 L264.90,398.84 L265.15,399.12 L265.40,399.48 L265.65,399.82 L265.90,400.10 L266.15,400.29 L266.40,400.10 L266.65,399.73 L266.90,399.17 L267.15,398.45 L267.40,397.67 L267.65,397.00 L267.90,396.63 L268.15,396.68 L268.40,397.12 L268.65,397.82 L268.90,398.60 L269.15,399.30 L269.40,399.82 L269.65,400.15 L269.90,399.91 L270.15,399.07 L270.40,397.43 L270.65,394.58 L270.90,390.30 L271.15,384.77 L271.40,378.79 L271.65,373.68 L271.90,370.86 L272.15,371.19 L272.40,374.56 L272.65,379.96 L272.90,385.95 L273.15,391.27 L273.40,395.26 L273.65,397.84 L273.90,399.29 L274.15,399.80 L274.40,399.05 L274.65,397.83 L274.90,396.10 L275.15,394.01 L275.40,391.93 L275.65,390.38 L275.90,389.80 L276.15,390.38 L276.40,391.93 L276.65,394.01 L276.90,396.10 L277.15,397.83 L277.40,399.05 L277.65,399.80 L277.90,400.19 L278.15,400.38 L278.40,400.46 L278.65,400.49 L278.90,400.50 L279.15,400.50 L279.40,400.50 L279.65,400.50 L279.90,400.50 L280.15,400.50 L280.40,400.50 L280.65,400.50 L280.90,400.50 L281.15,400.50 L281.40,400.50 L281.65,400.50 L281.90,400.50 L282.15,400.50 L282.40,400.50 L282.65,400.50 L282.90,400.50 L283.15,400.50 L283.40,400.50 L283.65,400.50 L283.90,400.50 L284.15,400.50 L284.40,400.50 L284.65,400.50 L284.90,400.50 L285.15,400.50 L285.40,400.50 L285.65,400.50 L285.90,400.50 L286.15,400.50 L286.40,400.50 L286.65,400.50 L286.90,400.50 L287.15,400.50 L287.40,400.50 L287.65,400.50 L287.90,400.50 L288.15,400.50 L288.40,400.50 L288.65,400.50 L288.90,400.50 L289.15,400.50 L289.40,400.50 L289.65,400.50 L289.70,400.50 Z" fill="#232380" stroke="#4848b0" stroke-width="0.45" stroke-opacity="0.8"/>
<rect x="235.40" y="367.30" width="54.80" height="34.00" fill="none" stroke="#303030" stroke-width="1.3"/>
<path d="M251.05,383.05 L254.35,383.05 L252.70,386.15 Z" fill="#111"/>
<path d="M254.95,383.05 L258.25,383.05 L256.60,386.15 Z" fill="#111"/>
<path d="M258.95,383.05 L262.25,383.05 L260.60,386.15 Z" fill="#111"/>
<path d="M262.95,383.05 L266.25,383.05 L264.60,386.15 Z" fill="#111"/>
<path d="M266.65,383.05 L269.95,383.05 L268.30,386.15 Z" fill="#111"/>
<path d="M274.65,383.05 L277.95,383.05 L276.30,386.15 Z" fill="#111"/>
<path d="M270.30,367.00 L273.70,367.00 L272.00,370.20 Z" fill="#d81f3c"/>
<rect x="349.90" y="368.30" width="54.20" height="33.20" fill="#ffffff"/>
<path d="M350.40,400.60 L350.40,400.60 L350.65,400.60 L350.90,400.60 L351.15,400.60 L351.40,400.60 L351.65,400.60 L351.90,400.60 L352.15,400.60 L352.40,400.60 L352.65,400.60 L352.90,400.60 L353.15,400.60 L353.40,400.60 L353.65,400.60 L353.90,400.60 L354.15,400.60 L354.40,400.60 L354.65,400.60 L354.90,400.60 L355.15,400.60 L355.40,400.60 L355.65,400.60 L355.90,400.60 L356.15,400.60 L356.40,400.60 L356.65,400.60 L356.90,400.60 L357.15,400.60 L357.40,400.60 L357.65,400.60 L357.90,400.60 L358.15,400.60 L358.40,400.60 L358.65,400.60 L358.90,400.60 L359.15,400.60 L359.40,400.60 L359.65,400.60 L359.90,400.60 L360.15,400.60 L360.40,400.60 L360.65,400.60 L360.90,400.60 L361.15,400.60 L361.40,400.60 L361.65,400.60 L361.90,400.60 L362.15,400.59 L362.40,400.59 L362.65,400.59 L362.90,400.58 L363.15,400.57 L363.40,400.57 L363.65,400.56 L363.90,400.54 L364.15,400.53 L364.40,400.52 L364.65,400.50 L364.90,400.49 L365.15,400.48 L365.40,400.47 L365.65,400.47 L365.90,400.47 L366.15,400.47 L366.40,400.47 L366.65,400.48 L366.90,400.49 L367.15,400.47 L367.40,400.42 L367.65,400.37 L367.90,400.30 L368.15,400.24 L368.40,400.16 L368.65,400.09 L368.90,400.02 L369.15,399.96 L369.40,399.92 L369.65,399.89 L369.90,399.88 L370.15,399.89 L370.40,399.92 L370.65,399.96 L370.90,400.02 L371.15,400.09 L371.40,400.16 L371.65,400.24 L371.90,400.25 L372.15,400.17 L372.40,400.08 L372.65,400.00 L372.90,399.92 L373.15,399.85 L373.40,399.79 L373.65,399.76 L373.90,399.75 L374.15,399.76 L374.40,399.79 L374.65,399.85 L374.90,399.92 L375.15,400.00 L375.40,399.86 L375.65,399.67 L375.90,399.46 L376.15,399.25 L376.40,399.03 L376.65,398.83 L376.90,398.66 L377.15,398.54 L377.40,398.46 L377.65,398.44 L377.90,398.48 L378.15,398.58 L378.40,398.73 L378.65,398.91 L378.90,399.12 L379.15,399.33 L379.40,399.51 L379.65,399.23 L379.90,398.92 L380.15,398.60 L380.40,398.28 L380.65,397.99 L380.90,397.73 L381.15,397.55 L381.40,397.43 L381.65,397.41 L381.90,397.47 L382.15,397.61 L382.40,397.83 L382.65,398.10 L382.90,397.87 L383.15,396.97 L383.40,395.90 L383.65,394.68 L383.90,393.36 L384.15,391.97 L384.40,390.60 L384.65,389.33 L384.90,388.25 L385.15,387.44 L385.40,386.95 L385.65,386.84 L385.90,387.10 L386.15,387.73 L386.40,388.66 L386.65,389.82 L386.90,391.14 L387.15,392.53 L387.40,393.90 L387.65,395.19 L387.90,396.35 L388.15,397.35 L388.40,397.63 L388.65,397.22 L388.90,396.85 L389.15,396.56 L389.40,396.37 L389.65,396.28 L389.90,396.32 L390.15,396.47 L390.40,396.73 L390.65,397.07 L390.90,397.46 L391.15,397.89 L391.40,398.33 L391.65,398.74 L391.90,399.13 L392.15,399.46 L392.40,399.75 L392.65,399.98 L392.90,400.16 L393.15,400.29 L393.40,400.39 L393.65,400.47 L393.90,400.51 L394.15,400.55 L394.40,400.57 L394.65,400.58 L394.90,400.59 L395.15,400.59 L395.40,400.60 L395.65,400.60 L395.90,400.60 L396.15,400.60 L396.40,400.60 L396.65,400.60 L396.90,400.60 L397.15,400.60 L397.40,400.60 L397.65,400.60 L397.90,400.60 L398.15,400.60 L398.40,400.60 L398.65,400.60 L398.90,400.60 L399.15,400.60 L399.40,400.60 L399.65,400.60 L399.90,400.60 L400.15,400.60 L400.40,400.60 L400.65,400.60 L400.90,400.60 L401.15,400.60 L401.40,400.60 L401.65,400.60 L401.90,400.60 L402.15,400.60 L402.40,400.60 L402.65,400.60 L402.90,400.60 L403.15,400.60 L403.40,400.60 L403.60,400.60 Z" fill="#9a9ae0" fill-opacity="0.8"/>
<path d="M350.40,400.60 L350.40,400.60 L350.65,400.60 L350.90,400.60 L351.15,400.60 L351.40,400.60 L351.65,400.60 L351.90,400.60 L352.15,400.60 L352.40,400.60 L352.65,400.60 L352.90,400.60 L353.15,400.60 L353.40,400.60 L353.65,400.60 L353.90,400.60 L354.15,400.60 L354.40,400.60 L354.65,400.60 L354.90,400.60 L355.15,400.60 L355.40,400.60 L355.65,400.60 L355.90,400.60 L356.15,400.60 L356.40,400.60 L356.65,400.60 L356.90,400.60 L357.15,400.60 L357.40,400.60 L357.65,400.60 L357.90,400.60 L358.15,400.60 L358.40,400.60 L358.65,400.60 L358.90,400.60 L359.15,400.60 L359.40,400.60 L359.65,400.60 L359.90,400.60 L360.15,400.60 L360.40,400.60 L360.65,400.60 L360.90,400.60 L361.15,400.60 L361.40,400.60 L361.65,400.60 L361.90,400.60 L362.15,400.60 L362.40,400.60 L362.65,400.60 L362.90,400.60 L363.15,400.60 L363.40,400.60 L363.65,400.60 L363.90,400.59 L364.15,400.58 L364.40,400.56 L364.65,400.53 L364.90,400.48 L365.15,400.42 L365.40,400.36 L365.65,400.32 L365.90,400.30 L366.15,400.32 L366.40,400.36 L366.65,400.42 L366.90,400.48 L367.15,400.53 L367.40,400.56 L367.65,400.58 L367.90,400.55 L368.15,400.49 L368.40,400.38 L368.65,400.20 L368.90,399.94 L369.15,399.63 L369.40,399.32 L369.65,399.09 L369.90,399.00 L370.15,399.09 L370.40,399.32 L370.65,399.63 L370.90,399.94 L371.15,400.20 L371.40,400.38 L371.65,400.49 L371.90,400.55 L372.15,400.48 L372.40,400.34 L372.65,400.13 L372.90,399.82 L373.15,399.45 L373.40,399.08 L373.65,398.80 L373.90,398.70 L374.15,398.80 L374.40,399.08 L374.65,399.45 L374.90,399.82 L375.15,400.13 L375.40,400.34 L375.65,400.44 L375.90,400.23 L376.15,399.86 L376.40,399.27 L376.65,398.45 L376.90,397.49 L377.15,396.59 L377.40,395.97 L377.65,395.81 L377.90,396.17 L378.15,396.93 L378.40,397.88 L378.65,398.80 L378.90,399.53 L379.15,400.03 L379.40,400.33 L379.65,400.36 L379.90,400.06 L380.15,399.50 L380.40,398.63 L380.65,397.42 L380.90,396.01 L381.15,394.67 L381.40,393.75 L381.65,393.52 L381.90,394.05 L382.15,395.17 L382.40,396.58 L382.65,397.94 L382.90,399.02 L383.15,399.76 L383.40,400.19 L383.65,399.56 L383.90,398.26 L384.15,395.88 L384.40,392.09 L384.65,386.88 L384.90,380.80 L385.15,375.04 L385.40,371.07 L385.65,370.07 L385.90,372.35 L386.15,377.21 L386.40,383.28 L386.65,389.12 L386.90,393.79 L387.15,396.98 L387.40,398.88 L387.65,399.87 L387.90,400.06 L388.15,399.47 L388.40,398.46 L388.65,397.00 L388.90,395.16 L389.15,393.26 L389.40,391.74 L389.65,391.02 L389.90,391.34 L390.15,392.58 L390.40,394.39 L390.65,396.30 L390.90,397.93 L391.15,399.12 L391.40,399.86 L391.65,400.27 L391.90,400.47 L392.15,400.55 L392.40,400.59 L392.65,400.60 L392.90,400.60 L393.15,400.60 L393.40,400.60 L393.65,400.60 L393.90,400.60 L394.15,400.60 L394.40,400.60 L394.65,400.60 L394.90,400.60 L395.15,400.60 L395.40,400.60 L395.65,400.60 L395.90,400.60 L396.15,400.60 L396.40,400.60 L396.65,400.60 L396.90,400.60 L397.15,400.60 L397.40,400.60 L397.65,400.60 L397.90,400.60 L398.15,400.60 L398.40,400.60 L398.65,400.60 L398.90,400.60 L399.15,400.60 L399.40,400.60 L399.65,400.60 L399.90,400.60 L400.15,400.60 L400.40,400.60 L400.65,400.60 L400.90,400.60 L401.15,400.60 L401.40,400.60 L401.65,400.60 L401.90,400.60 L402.15,400.60 L402.40,400.60 L402.65,400.60 L402.90,400.60 L403.15,400.60 L403.40,400.60 L403.60,400.60 Z" fill="#232380" stroke="#4848b0" stroke-width="0.45" stroke-opacity="0.8"/>
<rect x="349.90" y="368.30" width="54.20" height="33.20" fill="none" stroke="#303030" stroke-width="1.3"/>
<path d="M364.55,384.25 L367.85,384.25 L366.20,387.35 Z" fill="#111"/>
<path d="M368.55,384.25 L371.85,384.25 L370.20,387.35 Z" fill="#111"/>
<path d="M372.55,384.25 L375.85,384.25 L374.20,387.35 Z" fill="#111"/>
<path d="M376.35,384.25 L379.65,384.25 L378.00,387.35 Z" fill="#111"/>
<path d="M380.05,384.25 L383.35,384.25 L381.70,387.35 Z" fill="#111"/>
<path d="M388.05,384.25 L391.35,384.25 L389.70,387.35 Z" fill="#111"/>
<path d="M383.90,367.20 L387.30,367.20 L385.60,370.40 Z" fill="#d81f3c"/>
<rect x="408.30" y="368.90" width="53.90" height="33.30" fill="#ffffff"/>
<path d="M408.80,401.20 L408.80,401.20 L409.05,401.20 L409.30,401.20 L409.55,401.20 L409.80,401.20 L410.05,401.20 L410.30,401.20 L410.55,401.20 L410.80,401.20 L411.05,401.20 L411.30,401.19 L411.55,401.19 L411.80,401.18 L412.05,401.16 L412.30,401.13 L412.55,401.10 L412.80,401.04 L413.05,400.95 L413.30,400.83 L413.55,400.67 L413.80,400.46 L414.05,400.19 L414.30,399.86 L414.55,399.48 L414.80,399.04 L415.05,398.57 L415.30,398.09 L415.55,397.61 L415.80,397.18 L416.05,396.82 L416.30,396.55 L416.55,396.41 L416.80,396.40 L417.05,396.51 L417.30,396.76 L417.55,397.10 L417.80,397.52 L418.05,397.99 L418.30,398.47 L418.55,398.95 L418.80,399.39 L419.05,399.79 L419.30,400.13 L419.55,400.41 L419.80,400.34 L420.05,400.27 L420.30,400.23 L420.55,400.21 L420.80,400.22 L421.05,400.25 L421.30,400.31 L421.55,400.39 L421.80,400.40 L422.05,400.09 L422.30,399.70 L422.55,399.22 L422.80,398.67 L423.05,398.05 L423.30,397.38 L423.55,396.70 L423.80,396.04 L424.05,395.45 L424.30,394.97 L424.55,394.63 L424.80,394.46 L425.05,394.48 L425.30,394.69 L425.55,395.05 L425.80,395.56 L426.05,396.17 L426.30,396.83 L426.55,397.51 L426.80,398.17 L427.05,398.78 L427.30,399.04 L427.55,398.73 L427.80,398.47 L428.05,398.25 L428.30,398.11 L428.55,398.05 L428.80,398.08 L429.05,398.19 L429.30,398.37 L429.55,398.62 L429.80,398.91 L430.05,399.23 L430.30,399.54 L430.55,399.85 L430.80,400.13 L431.05,400.37 L431.30,400.58 L431.55,400.74 L431.80,400.73 L432.05,400.70 L432.30,400.67 L432.55,400.66 L432.80,400.66 L433.05,400.68 L433.30,400.72 L433.55,400.69 L433.80,400.50 L434.05,400.26 L434.30,399.96 L434.55,399.63 L434.80,399.25 L435.05,398.85 L435.30,398.45 L435.55,398.07 L435.80,397.73 L436.05,397.46 L436.30,397.27 L436.55,397.20 L436.80,397.23 L437.05,397.37 L437.30,397.61 L437.55,397.92 L437.80,398.29 L438.05,398.69 L438.30,399.09 L438.55,399.48 L438.80,399.83 L439.05,399.86 L439.30,399.69 L439.55,399.53 L439.80,399.41 L440.05,399.34 L440.30,399.31 L440.55,399.34 L440.80,399.41 L441.05,399.33 L441.30,398.64 L441.55,397.79 L441.80,396.78 L442.05,395.63 L442.30,394.38 L442.55,393.08 L442.80,391.79 L443.05,390.60 L443.30,389.58 L443.55,388.81 L443.80,388.35 L444.05,388.25 L444.30,388.50 L444.55,389.08 L444.80,389.96 L445.05,391.06 L445.30,392.30 L445.55,393.60 L445.80,394.89 L446.05,396.11 L446.30,397.20 L446.55,398.14 L446.80,397.60 L447.05,397.00 L447.30,396.44 L447.55,395.96 L447.80,395.58 L448.05,395.34 L448.30,395.26 L448.55,395.34 L448.80,395.58 L449.05,395.96 L449.30,396.44 L449.55,397.00 L449.80,397.60 L450.05,398.19 L450.30,398.76 L450.55,399.27 L450.80,399.72 L451.05,400.09 L451.30,400.40 L451.55,400.63 L451.80,400.81 L452.05,400.94 L452.30,401.03 L452.55,401.09 L452.80,401.13 L453.05,401.16 L453.30,401.18 L453.55,401.19 L453.80,401.19 L454.05,401.20 L454.30,401.20 L454.55,401.20 L454.80,401.20 L455.05,401.20 L455.30,401.20 L455.55,401.20 L455.80,401.20 L456.05,401.20 L456.30,401.20 L456.55,401.20 L456.80,401.20 L457.05,401.20 L457.30,401.20 L457.55,401.20 L457.80,401.20 L458.05,401.20 L458.30,401.20 L458.55,401.20 L458.80,401.20 L459.05,401.20 L459.30,401.20 L459.55,401.20 L459.80,401.20 L460.05,401.20 L460.30,401.20 L460.55,401.20 L460.80,401.20 L461.05,401.20 L461.30,401.20 L461.55,401.20 L461.70,401.20 Z" fill="#9a9ae0" fill-opacity="0.8"/>
<path d="M408.80,401.20 L408.80,401.20 L409.05,401.20 L409.30,401.20 L409.55,401.20 L409.80,401.20 L410.05,401.20 L410.30,401.20 L410.55,401.20 L410.80,401.20 L411.05,401.20 L411.30,401.20 L411.55,401.20 L411.80,401.20 L412.05,401.20 L412.30,401.20 L412.55,401.20 L412.80,401.20 L413.05,401.20 L413.30,401.20 L413.55,401.20 L413.80,401.19 L414.05,401.18 L414.30,401.14 L414.55,401.02 L414.80,400.77 L415.05,400.25 L415.30,399.33 L415.55,397.90 L415.80,395.99 L416.05,393.85 L416.30,391.92 L416.55,390.71 L416.80,390.59 L417.05,391.60 L417.30,393.43 L417.55,395.57 L417.80,397.55 L418.05,399.08 L418.30,400.10 L418.55,400.69 L418.80,400.99 L419.05,400.94 L419.30,400.71 L419.55,400.37 L419.80,399.95 L420.05,399.52 L420.30,399.17 L420.55,399.00 L420.80,399.08 L421.05,399.36 L421.30,399.78 L421.55,400.21 L421.80,400.59 L422.05,400.86 L422.30,401.03 L422.55,401.09 L422.80,400.90 L423.05,400.48 L423.30,399.66 L423.55,398.23 L423.80,396.08 L424.05,393.31 L424.30,390.31 L424.55,387.75 L424.80,386.33 L425.05,386.50 L425.30,388.19 L425.55,390.90 L425.80,393.90 L426.05,396.57 L426.30,398.57 L426.55,399.87 L426.80,400.59 L427.05,400.37 L427.30,399.64 L427.55,398.57 L427.80,397.24 L428.05,395.85 L428.30,394.74 L428.55,394.22 L428.80,394.44 L429.05,395.35 L429.30,396.67 L429.55,398.06 L429.80,399.25 L430.05,400.12 L430.30,400.66 L430.55,400.96 L430.80,401.11 L431.05,401.06 L431.30,400.93 L431.55,400.75 L431.80,400.52 L432.05,400.28 L432.30,400.09 L432.55,400.00 L432.80,400.04 L433.05,400.20 L433.30,400.42 L433.55,400.66 L433.80,400.87 L434.05,401.01 L434.30,401.11 L434.55,400.99 L434.80,400.70 L435.05,400.15 L435.30,399.22 L435.55,397.86 L435.80,396.16 L436.05,394.40 L436.30,392.98 L436.55,392.32 L436.80,392.61 L437.05,393.77 L437.30,395.44 L437.55,397.21 L437.80,398.73 L438.05,399.83 L438.30,400.52 L438.55,400.90 L438.80,400.63 L439.05,400.15 L439.30,399.47 L439.55,398.65 L439.80,397.84 L440.05,397.23 L440.30,397.00 L440.55,397.23 L440.80,397.84 L441.05,398.65 L441.30,399.47 L441.55,400.15 L441.80,400.63 L442.05,400.22 L442.30,398.99 L442.55,396.76 L442.80,393.19 L443.05,388.29 L443.30,382.57 L443.55,377.14 L443.80,373.41 L444.05,372.46 L444.30,374.61 L444.55,379.19 L444.80,384.89 L445.05,390.39 L445.30,394.79 L445.55,397.80 L445.80,399.58 L446.05,400.51 L446.30,400.82 L446.55,400.33 L446.80,399.41 L447.05,397.91 L447.30,395.77 L447.55,393.19 L447.80,390.63 L448.05,388.71 L448.30,388.00 L448.55,388.71 L448.80,390.63 L449.05,393.19 L449.30,395.77 L449.55,397.91 L449.80,399.41 L450.05,400.33 L450.30,400.82 L450.55,401.05 L450.80,401.15 L451.05,401.18 L451.30,401.20 L451.55,401.20 L451.80,401.20 L452.05,401.20 L452.30,401.20 L452.55,401.20 L452.80,401.20 L453.05,401.20 L453.30,401.20 L453.55,401.20 L453.80,401.20 L454.05,401.20 L454.30,401.20 L454.55,401.20 L454.80,401.20 L455.05,401.20 L455.30,401.20 L455.55,401.20 L455.80,401.20 L456.05,401.20 L456.30,401.20 L456.55,401.20 L456.80,401.20 L457.05,401.20 L457.30,401.20 L457.55,401.20 L457.80,401.20 L458.05,401.20 L458.30,401.20 L458.55,401.20 L458.80,401.20 L459.05,401.20 L459.30,401.20 L459.55,401.20 L459.80,401.20 L460.05,401.20 L460.30,401.20 L460.55,401.20 L460.80,401.20 L461.05,401.20 L461.30,401.20 L461.55,401.20 L461.70,401.20 Z" fill="#232380" stroke="#4848b0" stroke-width="0.45" stroke-opacity="0.8"/>
<rect x="408.30" y="368.90" width="53.90" height="33.30" fill="none" stroke="#303030" stroke-width="1.3"/>
<path d="M415.05,380.95 L418.35,380.95 L416.70,384.05 Z" fill="#111"/>
<path d="M418.95,387.65 L422.25,387.65 L420.60,390.75 Z" fill="#111"/>
<path d="M423.25,378.45 L426.55,378.45 L424.90,381.55 Z" fill="#111"/>
<path d="M426.95,383.45 L430.25,383.45 L428.60,386.55 Z" fill="#111"/>
<path d="M430.95,383.45 L434.25,383.45 L432.60,386.55 Z" fill="#111"/>
<path d="M434.95,383.45 L438.25,383.45 L436.60,386.55 Z" fill="#111"/>
<path d="M438.65,383.45 L441.95,383.45 L440.30,386.55 Z" fill="#111"/>
<path d="M446.65,382.75 L449.95,382.75 L448.30,385.85 Z" fill="#111"/>
<path d="M442.30,368.20 L445.70,368.20 L444.00,371.40 Z" fill="#d81f3c"/>
<rect x="465.20" y="369.20" width="55.30" height="33.50" fill="#ffffff"/>
<path d="M465.70,401.60 L465.70,401.60 L465.95,401.60 L466.20,401.60 L466.45,401.60 L466.70,401.60 L466.95,401.60 L467.20,401.60 L467.45,401.60 L467.70,401.60 L467.95,401.60 L468.20,401.60 L468.45,401.60 L468.70,401.60 L468.95,401.60 L469.20,401.60 L469.45,401.60 L469.70,401.60 L469.95,401.60 L470.20,401.59 L470.45,401.59 L470.70,401.58 L470.95,401.57 L471.20,401.55 L471.45,401.53 L471.70,401.48 L471.95,401.42 L472.20,401.34 L472.45,401.22 L472.70,401.07 L472.95,400.88 L473.20,400.65 L473.45,400.38 L473.70,400.07 L473.95,399.73 L474.20,399.39 L474.45,399.05 L474.70,398.74 L474.95,398.49 L475.20,398.30 L475.45,398.20 L475.70,398.19 L475.95,398.27 L476.20,398.44 L476.45,398.69 L476.70,398.99 L476.95,399.32 L477.20,399.66 L477.45,400.00 L477.70,400.32 L477.95,400.60 L478.20,400.84 L478.45,400.90 L478.70,400.81 L478.95,400.74 L479.20,400.69 L479.45,400.66 L479.70,400.66 L479.95,400.68 L480.20,400.73 L480.45,400.80 L480.70,400.88 L480.95,400.77 L481.20,400.49 L481.45,400.15 L481.70,399.77 L481.95,399.34 L482.20,398.90 L482.45,398.45 L482.70,398.03 L482.95,397.67 L483.20,397.39 L483.45,397.21 L483.70,397.14 L483.95,397.21 L484.20,397.39 L484.45,397.67 L484.70,398.03 L484.95,398.45 L485.20,398.90 L485.45,399.34 L485.70,399.77 L485.95,399.62 L486.20,399.38 L486.45,399.18 L486.70,399.04 L486.95,398.96 L487.20,398.95 L487.45,399.02 L487.70,399.15 L487.95,399.34 L488.20,399.57 L488.45,399.83 L488.70,400.10 L488.95,400.36 L489.20,400.60 L489.45,400.82 L489.70,401.01 L489.95,401.03 L490.20,400.99 L490.45,400.97 L490.70,400.97 L490.95,400.99 L491.20,401.02 L491.45,401.06 L491.70,401.12 L491.95,401.18 L492.20,401.24 L492.45,401.31 L492.70,401.34 L492.95,401.29 L493.20,401.24 L493.45,401.19 L493.70,401.16 L493.95,401.13 L494.20,401.11 L494.45,401.11 L494.70,401.11 L494.95,401.14 L495.20,401.17 L495.45,401.21 L495.70,401.26 L495.95,401.31 L496.20,401.36 L496.45,401.33 L496.70,401.28 L496.95,401.23 L497.20,401.19 L497.45,401.15 L497.70,401.12 L497.95,401.11 L498.20,401.11 L498.45,400.89 L498.70,400.56 L498.95,400.10 L499.20,399.50 L499.45,398.74 L499.70,397.81 L499.95,396.72 L500.20,395.49 L500.45,394.15 L500.70,392.78 L500.95,391.44 L501.20,390.21 L501.45,389.19 L501.70,388.44 L501.95,388.03 L502.20,388.00 L502.45,388.33 L502.70,389.01 L502.95,389.99 L503.20,391.18 L503.45,392.51 L503.70,393.88 L503.95,395.23 L504.20,396.48 L504.45,396.35 L504.70,395.52 L504.95,394.75 L505.20,394.09 L505.45,393.60 L505.70,393.30 L505.95,393.23 L506.20,393.40 L506.45,393.77 L506.70,394.34 L506.95,395.05 L507.20,395.85 L507.45,396.69 L507.70,397.53 L507.95,398.31 L508.20,399.02 L508.45,399.63 L508.70,400.13 L508.95,400.54 L509.20,400.86 L509.45,401.09 L509.70,401.26 L509.95,401.38 L510.20,401.46 L510.45,401.52 L510.70,401.55 L510.95,401.57 L511.20,401.58 L511.45,401.59 L511.70,401.60 L511.95,401.60 L512.20,401.60 L512.45,401.60 L512.70,401.60 L512.95,401.60 L513.20,401.60 L513.45,401.60 L513.70,401.60 L513.95,401.60 L514.20,401.60 L514.45,401.60 L514.70,401.60 L514.95,401.60 L515.20,401.60 L515.45,401.60 L515.70,401.60 L515.95,401.60 L516.20,401.60 L516.45,401.60 L516.70,401.60 L516.95,401.60 L517.20,401.60 L517.45,401.60 L517.70,401.60 L517.95,401.60 L518.20,401.60 L518.45,401.60 L518.70,401.60 L518.95,401.60 L519.20,401.60 L519.45,401.60 L519.70,401.60 L519.95,401.60 L520.00,401.60 Z" fill="#9a9ae0" fill-opacity="0.8"/>
<path d="M465.70,401.60 L465.70,401.60 L465.95,401.60 L466.20,401.60 L466.45,401.60 L466.70,401.60 L466.95,401.60 L467.20,401.60 L467.45,401.60 L467.70,401.60 L467.95,401.60 L468.20,401.60 L468.45,401.60 L468.70,401.60 L468.95,401.60 L469.20,401.60 L469.45,401.60 L469.70,401.60 L469.95,401.60 L470.20,401.60 L470.45,401.60 L470.70,401.60 L470.95,401.60 L471.20,401.60 L471.45,401.60 L471.70,401.60 L471.95,401.60 L472.20,401.60 L472.45,401.60 L472.70,401.60 L472.95,401.59 L473.20,401.55 L473.45,401.48 L473.70,401.29 L473.95,400.92 L474.20,400.27 L474.45,399.25 L474.70,397.90 L474.95,396.38 L475.20,395.01 L475.45,394.15 L475.70,394.07 L475.95,394.78 L476.20,396.08 L476.45,397.60 L476.70,399.01 L476.95,400.10 L477.20,400.82 L477.45,401.24 L477.70,401.45 L477.95,401.41 L478.20,401.23 L478.45,400.95 L478.70,400.58 L478.95,400.16 L479.20,399.78 L479.45,399.54 L479.70,399.52 L479.95,399.72 L480.20,400.08 L480.45,400.50 L480.70,400.88 L480.95,401.18 L481.20,401.38 L481.45,401.49 L481.70,401.32 L481.95,400.95 L482.20,400.26 L482.45,399.13 L482.70,397.53 L482.95,395.60 L483.20,393.67 L483.45,392.24 L483.70,391.70 L483.95,392.24 L484.20,393.67 L484.45,395.60 L484.70,397.53 L484.95,399.13 L485.20,400.26 L485.45,400.95 L485.70,400.57 L485.95,399.78 L486.20,398.73 L486.45,397.55 L486.70,396.48 L486.95,395.82 L487.20,395.75 L487.45,396.31 L487.70,397.32 L487.95,398.50 L488.20,399.59 L488.45,400.43 L488.70,400.99 L488.95,401.32 L489.20,401.35 L489.45,401.17 L489.70,400.92 L489.95,400.64 L490.20,400.39 L490.45,400.23 L490.70,400.21 L490.95,400.34 L491.20,400.58 L491.45,400.86 L491.70,401.12 L491.95,401.32 L492.20,401.46 L492.45,401.53 L492.70,401.52 L492.95,401.43 L493.20,401.29 L493.45,401.11 L493.70,400.89 L493.95,400.68 L494.20,400.54 L494.45,400.50 L494.70,400.58 L494.95,400.76 L495.20,400.98 L495.45,401.19 L495.70,401.36 L495.95,401.47 L496.20,401.54 L496.45,401.50 L496.70,401.41 L496.95,401.26 L497.20,401.06 L497.45,400.84 L497.70,400.65 L497.95,400.52 L498.20,400.51 L498.45,400.61 L498.70,400.80 L498.95,401.02 L499.20,401.22 L499.45,401.38 L499.70,401.42 L499.95,401.10 L500.20,400.38 L500.45,398.91 L500.70,396.29 L500.95,392.25 L501.20,386.85 L501.45,380.79 L501.70,375.32 L501.95,371.90 L502.20,371.57 L502.45,374.43 L502.70,379.60 L502.95,385.66 L503.20,391.26 L503.45,395.60 L503.70,398.49 L503.95,400.15 L504.20,400.17 L504.45,398.73 L504.70,396.43 L504.95,393.26 L505.20,389.57 L505.45,386.06 L505.70,383.65 L505.95,383.04 L506.20,384.43 L506.45,387.39 L506.70,391.07 L506.95,394.62 L507.20,397.46 L507.45,399.40 L507.70,400.56 L507.95,401.16 L508.20,401.43 L508.45,401.54 L508.70,401.58 L508.95,401.60 L509.20,401.60 L509.45,401.60 L509.70,401.60 L509.95,401.60 L510.20,401.60 L510.45,401.60 L510.70,401.60 L510.95,401.60 L511.20,401.60 L511.45,401.60 L511.70,401.60 L511.95,401.60 L512.20,401.60 L512.45,401.60 L512.70,401.60 L512.95,401.60 L513.20,401.60 L513.45,401.60 L513.70,401.60 L513.95,401.60 L514.20,401.60 L514.45,401.60 L514.70,401.60 L514.95,401.60 L515.20,401.60 L515.45,401.60 L515.70,401.60 L515.95,401.60 L516.20,401.60 L516.45,401.60 L516.70,401.60 L516.95,401.60 L517.20,401.60 L517.45,401.60 L517.70,401.60 L517.95,401.60 L518.20,401.60 L518.45,401.60 L518.70,401.60 L518.95,401.60 L519.20,401.60 L519.45,401.60 L519.70,401.60 L519.95,401.60 L520.00,401.60 Z" fill="#232380" stroke="#4848b0" stroke-width="0.45" stroke-opacity="0.8"/>
<rect x="465.20" y="369.20" width="55.30" height="33.50" fill="none" stroke="#303030" stroke-width="1.3"/>
<path d="M473.95,386.45 L477.25,386.45 L475.60,389.55 Z" fill="#111"/>
<path d="M477.75,386.45 L481.05,386.45 L479.40,389.55 Z" fill="#111"/>
<path d="M481.75,386.45 L485.05,386.45 L483.40,389.55 Z" fill="#111"/>
<path d="M485.45,386.45 L488.75,386.45 L487.10,389.55 Z" fill="#111"/>
<path d="M488.95,386.45 L492.25,386.45 L490.60,389.55 Z" fill="#111"/>
<path d="M492.75,386.45 L496.05,386.45 L494.40,389.55 Z" fill="#111"/>
<path d="M496.45,386.45 L499.75,386.45 L498.10,389.55 Z" fill="#111"/>
<path d="M504.25,380.45 L507.55,380.45 L505.90,383.55 Z" fill="#111"/>
<path d="M500.40,369.30 L503.80,369.30 L502.10,372.50 Z" fill="#d81f3c"/>
<text x="0.90" y="281.50" font-size="10.8" font-weight="bold" fill="#111">D</text>
<line x1="45.60" y1="289.50" x2="181.00" y2="289.50" stroke="#333" stroke-width="1.1" stroke-dasharray="3.2,2"/>
<line x1="45.60" y1="302.50" x2="135.40" y2="302.50" stroke="#333" stroke-width="1.1" stroke-dasharray="3.2,2"/>
<line x1="45.60" y1="314.50" x2="89.50" y2="314.50" stroke="#333" stroke-width="1.1" stroke-dasharray="3.2,2"/>
<text x="100.80" y="285.70" font-size="7" fill="#222" textLength="25.40" lengthAdjust="spacingAndGlyphs"><tspan font-style="italic">P</tspan> = n.s.</text>
<text x="78.00" y="298.40" font-size="7" fill="#222" textLength="25.00" lengthAdjust="spacingAndGlyphs"><tspan font-style="italic">P</tspan> = n.s.</text>
<text x="55.80" y="310.80" font-size="7" fill="#222" textLength="24.00" lengthAdjust="spacingAndGlyphs"><tspan font-style="italic">P</tspan> = n.s.</text>
<polyline points="46.40,351.30 91.80,345.60 137.10,344.70 182.30,343.80" fill="none" stroke="#c4c4c4" stroke-width="1.2" stroke-dasharray="2.6,1.5"/>
<polyline points="46.40,352.80 91.80,356.20 137.10,364.00 182.30,368.00" fill="none" stroke="#c4c4c4" stroke-width="1.2" stroke-dasharray="2.6,1.5"/>
<polyline points="46.40,370.00 91.80,350.80 137.10,356.20 182.30,352.00" fill="none" stroke="#c4c4c4" stroke-width="1.2" stroke-dasharray="2.6,1.5"/>
<polyline points="46.40,331.70 91.80,326.80 137.10,325.40 182.30,332.30" fill="none" stroke="#1d4a6c" stroke-width="1.2" stroke-dasharray="2.6,1.5"/>
<polyline points="46.40,354.80 91.80,360.60 137.10,357.70 182.30,357.70" fill="none" stroke="#1d4a6c" stroke-width="1.2" stroke-dasharray="2.6,1.5"/>
<polyline points="46.40,356.40 91.80,362.00 137.10,356.50 182.30,354.80" fill="none" stroke="#1d4a6c" stroke-width="1.2" stroke-dasharray="2.6,1.5"/>
<polyline points="46.40,333.60 91.80,327.50 137.10,326.00 182.30,333.60" fill="none" stroke="#1d4a6c" stroke-width="1.2" stroke-dasharray="2.6,1.5"/>
<polyline points="46.40,334.60 91.80,335.20 137.10,335.20 182.30,334.00" fill="none" stroke="#a3163a" stroke-width="1.2" stroke-dasharray="2.6,1.5"/>
<polyline points="46.40,336.30 91.80,336.90 137.10,336.00 182.30,336.00" fill="none" stroke="#a3163a" stroke-width="1.2" stroke-dasharray="2.6,1.5"/>
<polyline points="46.40,338.10 91.80,341.20 137.10,336.90 182.30,349.60" fill="none" stroke="#a3163a" stroke-width="1.2" stroke-dasharray="2.6,1.5"/>
<polyline points="46.40,372.10 91.80,368.60 137.10,311.00 182.30,321.90" fill="none" stroke="#3f9a3c" stroke-width="1.2" stroke-dasharray="2.6,1.5"/>
<polyline points="46.40,375.00 91.80,375.00 137.10,344.70 182.30,352.60" fill="none" stroke="#3f9a3c" stroke-width="1.2" stroke-dasharray="2.6,1.5"/>
<polyline points="46.40,377.30 91.80,375.00 137.10,346.00 182.30,354.00" fill="none" stroke="#3f9a3c" stroke-width="1.2" stroke-dasharray="2.6,1.5"/>
<circle cx="46.40" cy="351.30" r="1.9" fill="#fff" stroke="#777" stroke-width="0.9"/>
<circle cx="91.80" cy="345.60" r="1.9" fill="#fff" stroke="#777" stroke-width="0.9"/>
<circle cx="137.10" cy="344.70" r="1.9" fill="#fff" stroke="#777" stroke-width="0.9"/>
<circle cx="182.30" cy="343.80" r="1.9" fill="#fff" stroke="#777" stroke-width="0.9"/>
<circle cx="46.40" cy="352.80" r="1.9" fill="#fff" stroke="#777" stroke-width="0.9"/>
<circle cx="91.80" cy="356.20" r="1.9" fill="#fff" stroke="#777" stroke-width="0.9"/>
<circle cx="137.10" cy="364.00" r="1.9" fill="#fff" stroke="#777" stroke-width="0.9"/>
<circle cx="182.30" cy="368.00" r="1.9" fill="#fff" stroke="#777" stroke-width="0.9"/>
<circle cx="46.40" cy="370.00" r="1.9" fill="#fff" stroke="#777" stroke-width="0.9"/>
<circle cx="91.80" cy="350.80" r="1.9" fill="#fff" stroke="#777" stroke-width="0.9"/>
<circle cx="137.10" cy="356.20" r="1.9" fill="#fff" stroke="#777" stroke-width="0.9"/>
<circle cx="182.30" cy="352.00" r="1.9" fill="#fff" stroke="#777" stroke-width="0.9"/>
<circle cx="46.40" cy="331.70" r="2.0" fill="#1d4a6c" stroke="#333" stroke-width="0.6"/>
<circle cx="91.80" cy="326.80" r="2.0" fill="#1d4a6c" stroke="#333" stroke-width="0.6"/>
<circle cx="137.10" cy="325.40" r="2.0" fill="#1d4a6c" stroke="#333" stroke-width="0.6"/>
<circle cx="182.30" cy="332.30" r="2.0" fill="#1d4a6c" stroke="#333" stroke-width="0.6"/>
<circle cx="46.40" cy="354.80" r="2.0" fill="#1d4a6c" stroke="#333" stroke-width="0.6"/>
<circle cx="91.80" cy="360.60" r="2.0" fill="#1d4a6c" stroke="#333" stroke-width="0.6"/>
<circle cx="137.10" cy="357.70" r="2.0" fill="#1d4a6c" stroke="#333" stroke-width="0.6"/>
<circle cx="182.30" cy="357.70" r="2.0" fill="#1d4a6c" stroke="#333" stroke-width="0.6"/>
<circle cx="46.40" cy="356.40" r="2.0" fill="#1d4a6c" stroke="#333" stroke-width="0.6"/>
<circle cx="91.80" cy="362.00" r="2.0" fill="#1d4a6c" stroke="#333" stroke-width="0.6"/>
<circle cx="137.10" cy="356.50" r="2.0" fill="#1d4a6c" stroke="#333" stroke-width="0.6"/>
<circle cx="182.30" cy="354.80" r="2.0" fill="#1d4a6c" stroke="#333" stroke-width="0.6"/>
<circle cx="46.40" cy="333.60" r="2.0" fill="#1d4a6c" stroke="#333" stroke-width="0.6"/>
<circle cx="91.80" cy="327.50" r="2.0" fill="#1d4a6c" stroke="#333" stroke-width="0.6"/>
<circle cx="137.10" cy="326.00" r="2.0" fill="#1d4a6c" stroke="#333" stroke-width="0.6"/>
<circle cx="182.30" cy="333.60" r="2.0" fill="#1d4a6c" stroke="#333" stroke-width="0.6"/>
<circle cx="46.40" cy="334.60" r="2.0" fill="#a3163a" stroke="#333" stroke-width="0.6"/>
<circle cx="91.80" cy="335.20" r="2.0" fill="#a3163a" stroke="#333" stroke-width="0.6"/>
<circle cx="137.10" cy="335.20" r="2.0" fill="#a3163a" stroke="#333" stroke-width="0.6"/>
<circle cx="182.30" cy="334.00" r="2.0" fill="#a3163a" stroke="#333" stroke-width="0.6"/>
<circle cx="46.40" cy="336.30" r="2.0" fill="#a3163a" stroke="#333" stroke-width="0.6"/>
<circle cx="91.80" cy="336.90" r="2.0" fill="#a3163a" stroke="#333" stroke-width="0.6"/>
<circle cx="137.10" cy="336.00" r="2.0" fill="#a3163a" stroke="#333" stroke-width="0.6"/>
<circle cx="182.30" cy="336.00" r="2.0" fill="#a3163a" stroke="#333" stroke-width="0.6"/>
<circle cx="46.40" cy="338.10" r="2.0" fill="#a3163a" stroke="#333" stroke-width="0.6"/>
<circle cx="91.80" cy="341.20" r="2.0" fill="#a3163a" stroke="#333" stroke-width="0.6"/>
<circle cx="137.10" cy="336.90" r="2.0" fill="#a3163a" stroke="#333" stroke-width="0.6"/>
<circle cx="182.30" cy="349.60" r="2.0" fill="#a3163a" stroke="#333" stroke-width="0.6"/>
<circle cx="46.40" cy="372.10" r="2.0" fill="#3f9a3c" stroke="#333" stroke-width="0.6"/>
<circle cx="91.80" cy="368.60" r="2.0" fill="#3f9a3c" stroke="#333" stroke-width="0.6"/>
<circle cx="137.10" cy="311.00" r="2.0" fill="#3f9a3c" stroke="#333" stroke-width="0.6"/>
<circle cx="182.30" cy="321.90" r="2.0" fill="#3f9a3c" stroke="#333" stroke-width="0.6"/>
<circle cx="46.40" cy="375.00" r="2.0" fill="#3f9a3c" stroke="#333" stroke-width="0.6"/>
<circle cx="91.80" cy="375.00" r="2.0" fill="#3f9a3c" stroke="#333" stroke-width="0.6"/>
<circle cx="137.10" cy="344.70" r="2.0" fill="#3f9a3c" stroke="#333" stroke-width="0.6"/>
<circle cx="182.30" cy="352.60" r="2.0" fill="#3f9a3c" stroke="#333" stroke-width="0.6"/>
<circle cx="46.40" cy="377.30" r="2.0" fill="#3f9a3c" stroke="#333" stroke-width="0.6"/>
<circle cx="91.80" cy="375.00" r="2.0" fill="#3f9a3c" stroke="#333" stroke-width="0.6"/>
<circle cx="137.10" cy="346.00" r="2.0" fill="#3f9a3c" stroke="#333" stroke-width="0.6"/>
<circle cx="182.30" cy="354.00" r="2.0" fill="#3f9a3c" stroke="#333" stroke-width="0.6"/>
<line x1="36.20" y1="305.00" x2="36.20" y2="442.50" stroke="#2a2a2a" stroke-width="1.45"/>
<line x1="35.50" y1="441.90" x2="196.20" y2="441.90" stroke="#2a2a2a" stroke-width="1.4"/>
<line x1="33.00" y1="441.90" x2="36.20" y2="441.90" stroke="#2a2a2a" stroke-width="1.1"/>
<text x="30.20" y="444.60" font-size="7.9" stroke="#222" stroke-width="0.1" text-anchor="end" fill="#222">0</text>
<line x1="33.00" y1="415.22" x2="36.20" y2="415.22" stroke="#2a2a2a" stroke-width="1.1"/>
<text x="30.20" y="417.92" font-size="7.9" stroke="#222" stroke-width="0.1" text-anchor="end" fill="#222">20</text>
<line x1="33.00" y1="388.54" x2="36.20" y2="388.54" stroke="#2a2a2a" stroke-width="1.1"/>
<text x="30.20" y="391.24" font-size="7.9" stroke="#222" stroke-width="0.1" text-anchor="end" fill="#222">40</text>
<line x1="33.00" y1="361.86" x2="36.20" y2="361.86" stroke="#2a2a2a" stroke-width="1.1"/>
<text x="30.20" y="364.56" font-size="7.9" stroke="#222" stroke-width="0.1" text-anchor="end" fill="#222">60</text>
<line x1="33.00" y1="335.18" x2="36.20" y2="335.18" stroke="#2a2a2a" stroke-width="1.1"/>
<text x="30.20" y="337.88" font-size="7.9" stroke="#222" stroke-width="0.1" text-anchor="end" fill="#222">80</text>
<line x1="33.00" y1="308.50" x2="36.20" y2="308.50" stroke="#2a2a2a" stroke-width="1.1"/>
<text x="30.20" y="311.20" font-size="7.9" stroke="#222" stroke-width="0.1" text-anchor="end" fill="#222">100</text>
<line x1="46.40" y1="441.90" x2="46.40" y2="444.80" stroke="#2a2a2a" stroke-width="1.2"/>
<line x1="91.80" y1="441.90" x2="91.80" y2="444.80" stroke="#2a2a2a" stroke-width="1.2"/>
<line x1="137.10" y1="441.90" x2="137.10" y2="444.80" stroke="#2a2a2a" stroke-width="1.2"/>
<line x1="182.30" y1="441.90" x2="182.30" y2="444.80" stroke="#2a2a2a" stroke-width="1.2"/>
<text x="31.50" y="454.70" font-size="7.6" fill="#222" textLength="30.10" lengthAdjust="spacingAndGlyphs">Injected</text>
<text x="86.30" y="454.70" font-size="7.6" fill="#222" textLength="10.70" lengthAdjust="spacingAndGlyphs">SC</text>
<text x="131.30" y="454.70" font-size="7.6" fill="#222" textLength="10.70" lengthAdjust="spacingAndGlyphs">PC</text>
<text x="169.80" y="454.70" font-size="7.6" fill="#222" textLength="25.80" lengthAdjust="spacingAndGlyphs">Spleen</text>
<text transform="translate(12.1,374.5) rotate(-90)" font-size="8" text-anchor="middle" fill="#222" textLength="50.3" lengthAdjust="spacingAndGlyphs">IRAK4 MAF (%)</text>
<circle cx="151.90" cy="394.40" r="2.3" fill="#1d4a6c" stroke="#333" stroke-width="0.5"/>
<text x="157.70" y="397.00" font-size="7.7" stroke="#222" stroke-width="0.15" fill="#222" textLength="26.00" lengthAdjust="spacingAndGlyphs">RS1316</text>
<circle cx="151.90" cy="407.20" r="2.3" fill="#a3163a" stroke="#333" stroke-width="0.5"/>
<text x="157.70" y="409.80" font-size="7.7" stroke="#222" stroke-width="0.15" fill="#222" textLength="26.00" lengthAdjust="spacingAndGlyphs">RS9737</text>
<circle cx="151.90" cy="420.00" r="2.2" fill="#e6dce6" stroke="#666" stroke-width="0.9"/>
<text x="157.70" y="422.60" font-size="7.7" stroke="#222" stroke-width="0.15" fill="#222" textLength="29.80" lengthAdjust="spacingAndGlyphs">IP867/17</text>
<circle cx="151.90" cy="432.80" r="2.3" fill="#3f9a3c" stroke="#333" stroke-width="0.5"/>
<text x="157.70" y="435.40" font-size="7.7" stroke="#222" stroke-width="0.15" fill="#222" textLength="26.00" lengthAdjust="spacingAndGlyphs">RS1050</text>
</svg>
</body></html>
